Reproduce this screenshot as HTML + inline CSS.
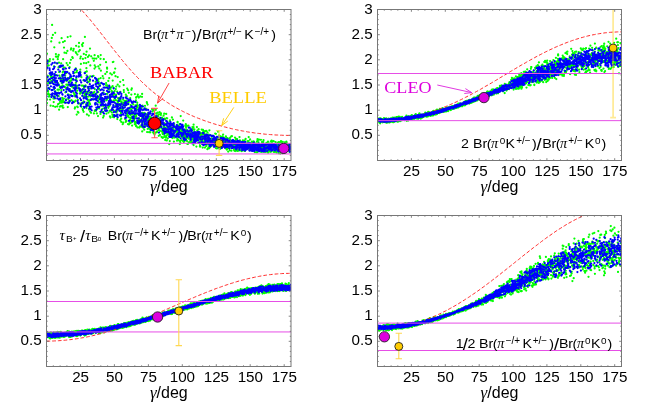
<!DOCTYPE html>
<html><head><meta charset="utf-8"><title>chart</title><style>
html,body{margin:0;padding:0;background:#fff;}
body{width:649px;height:404px;overflow:hidden;}
svg{display:block;will-change:transform;}
text{font-family:"Liberation Sans",sans-serif;font-size:15.2px;fill:#000;}
.gi{font-family:"Liberation Serif",serif;font-style:italic;}
.ax{font-size:16px;}
.gi{font-size:17px;}
.tt{font-size:13.3px;}
.sl{font-size:16px;}
.pi,.ta{font-family:"Liberation Serif",serif;font-style:italic;}
.pi{font-size:14.3px;}
.ta{font-size:14.5px;}
.su{font-size:10px;}
.sd{font-size:9.2px;}
.sb{font-size:9.1px;}
.sp{font-size:6px;}
.sz{font-size:6.2px;}
.se{font-family:"Liberation Serif",serif;font-size:17.5px;}
.dg{stroke:#00ff00;stroke-width:2.25;stroke-linecap:round;fill:none;}
.db{stroke:#0000ff;stroke-width:2.25;stroke-linecap:round;fill:none;}
</style></head>
<body>
<svg width="649" height="404" viewBox="0 0 649 404">
<rect width="649" height="404" fill="#fff"/>
<clipPath id="c1"><rect x="46.5" y="9.5" width="244.5" height="151"/></clipPath>
<g clip-path="url(#c1)">
<path class="dg" d="M102.1 99.3h0M123.9 92h0M241.5 149.5h0M211.8 136.8h0M142.1 118.2h0M127.9 104h0M192.8 129.1h0M92.2 96h0M211 141.3h0M276.8 148.6h0M107.2 85.3h0M278.5 144.7h0M209.6 139.3h0M69.9 62.9h0M154.5 134.4h0M263.2 148h0M217 136.9h0M126.3 120.5h0M225.9 136.4h0M100.3 96.7h0M66.4 88.5h0M85.6 93.4h0M129.7 114.3h0M160.2 126.5h0M111.6 90.9h0M246 143.6h0M93.8 60.8h0M78.2 103.6h0M68.9 90.6h0M192.8 134.1h0M255.5 148.8h0M193.6 132.6h0M274.4 151.9h0M223.7 137.5h0M256.9 147.5h0M273.7 144h0M180 129.6h0M275.8 148.8h0M167.5 132.7h0M113.4 87.6h0M157 123.6h0M209.1 141.7h0M127.4 116.2h0M267.4 147.8h0M109.4 106.1h0M129.6 108.3h0M109.8 110.7h0M133.4 113.1h0M47.7 65.8h0M200.2 143.1h0M115.5 76.2h0M63.1 59.2h0M197.3 130.7h0M89.6 81.4h0M120.9 113.3h0M154.3 127.8h0M83.2 103.3h0M99.8 95.6h0M162.5 123.6h0M163 132.4h0M108.9 103.2h0M119.3 100.7h0M114.7 91.1h0M110.2 104.5h0M164.5 135.3h0M98.3 101.8h0M167.7 131.7h0M106.7 100.3h0M251.5 144.2h0M90.5 93.9h0M257.3 147.3h0M90.1 111.5h0M230 144.4h0M195.9 133.6h0M97.6 79.8h0M232.3 142h0M107.4 97.2h0M67.4 84.6h0M197.6 133.3h0M177.8 136h0M201.6 139.7h0M89.1 55.4h0M107.2 86.1h0M213.9 140.8h0M66.3 84.7h0M260.5 147.3h0M151.3 118.1h0M197.7 136.1h0M123.1 108.7h0M90.3 65.4h0M48.9 96.6h0M97.9 106.6h0M259.2 150.6h0M284.4 147.8h0M154.5 122.1h0M139.1 118.4h0M114 73.1h0M282.7 141.8h0M60.7 101h0M146.4 114.4h0M87.7 93.5h0M105.2 109.3h0M237.2 150.9h0M96.3 58.6h0M181.5 130.2h0M136.2 125.4h0M170.5 136.7h0M128 124h0M115.6 99.9h0M115.4 105.6h0M67.4 50.9h0M164.3 128.3h0M262.5 149.6h0M278.1 148.1h0M53.2 59.3h0M270.9 145.6h0M76.2 53.1h0M229.3 141.3h0M265.7 149.4h0M87.6 82.3h0M127.5 104.3h0M139 120.2h0M131.3 112.5h0M172.7 131.6h0M48.7 93.9h0M149.8 118.8h0M261.1 144.5h0M67.9 78.2h0M164.9 123.5h0M164.2 113.5h0M237.8 141.7h0M282.3 149.9h0M219.4 146.4h0M113.4 95.1h0M210.3 141.5h0M131.5 117.1h0M234.3 150.5h0M211.7 136.4h0M285.5 151h0M258.4 142h0M57.8 59.2h0M117.5 106.1h0M257.4 149.3h0M193.4 137.1h0M130.7 114.9h0M60.1 77.4h0M233 140.3h0M46.9 77.7h0M69.2 101.3h0M289.4 151h0M236.2 144.5h0M258.8 150h0M163.2 129.6h0M87.8 93.5h0M177.1 133.1h0M150.6 130.1h0M86.4 92.5h0M87.1 92.1h0M109.6 102.4h0M277.1 145.9h0M287.8 144.7h0M218.5 144.9h0M223.3 141.3h0M225.6 141.3h0M173 137.5h0M89.9 80h0M261.1 151.9h0M261.8 147.4h0M220 145.3h0M274.7 148.6h0M286.1 149.8h0M169.6 131.6h0M231.7 144.5h0M197.3 140h0M74.6 94.4h0M123.8 90h0M63.1 71.6h0M263.3 141.9h0M51.9 77.9h0M177.9 129.3h0M89.9 88.5h0M82.4 85.5h0M87 102.6h0M260.9 139.8h0M167.4 125.9h0M129.9 123.3h0M290.8 146.2h0M180 134.6h0M120.7 116.2h0M137.1 107.4h0M216.6 140.6h0M75.9 82.8h0M231.9 136.2h0M262.6 150h0M162.7 119.1h0M153.4 130.9h0M81.5 106.8h0M149.9 117.1h0M233.4 143.4h0M147.7 128.9h0M198.1 139.2h0M57.2 106.4h0M100.2 64.8h0M96.3 93.5h0M286.4 143.5h0M57.4 95h0M99.1 108.4h0M54.2 89.1h0M202.9 138.1h0M206.2 146h0M131 117.7h0M55.4 91.3h0M152.9 127.6h0M88.4 62h0M150.8 119.2h0M137.7 96.2h0M100.6 78h0M252.3 150.8h0M215.8 142.7h0M161.6 137.1h0M144.2 113.7h0M73.2 50.7h0M193.9 138.4h0M169.8 141.1h0M267.9 149.1h0M283.4 147.6h0M244.4 147.2h0M258.4 148.7h0M167.7 127.5h0M137.9 121.8h0M163.6 124.5h0M176.4 129.3h0M246.4 144.6h0M83.4 80.3h0M193.3 133.3h0M268 141.7h0M100.9 70.7h0M116.9 116.2h0M252.4 146.5h0M205.9 138.6h0M282.6 153.2h0M203.5 138.3h0M278.6 153.2h0M248.7 137h0M211.5 145.5h0M93 99.6h0M98.7 84.3h0M257.5 139.2h0M128.1 90.1h0M214.3 138.1h0M152.9 113.9h0M158.8 128.7h0M49.1 82h0M247.6 148.4h0M122.6 104h0M128.9 124.4h0M64 101.6h0M199.2 132.2h0M236.9 144.9h0M171.4 132.5h0M163.3 130.6h0M235.3 147.5h0M70.1 84.6h0M178.8 136.9h0M229.6 144.2h0M136.1 97.7h0M260.7 148h0M158.2 125h0M74.8 108.6h0M285.3 147.1h0M158 122.5h0M230.6 143.9h0M65.6 102.9h0M244.3 149.7h0M83.7 86h0M77.1 90.7h0M114.1 100.8h0M150.3 120.4h0M165.2 129.5h0M151.2 118.2h0M54.9 96.3h0M192.5 139h0M227.9 147h0M285.8 148.8h0M182 132.3h0M274.3 149.4h0M279.3 145.1h0M98.4 56.9h0M62.7 107.6h0M88 78.6h0M228.5 145.4h0M110.3 111.2h0M73.9 72.8h0M277.2 143.8h0M213.6 139.5h0M280.8 148.7h0M127.1 114.6h0M93.5 75.8h0M79.9 103.5h0M277.2 147.2h0M86.6 51.7h0M242.7 150.3h0M98.3 79.4h0M257.5 148.1h0M60.4 79.2h0M139.8 108.5h0M144.8 108.3h0M285.2 144.3h0M266 146.3h0M140.5 121.4h0M150.3 132.3h0M221.4 144.1h0M203 129.9h0M265.1 148.2h0M214.5 143h0M172.5 138.1h0M266.7 149h0M127.4 102.7h0M136.3 116h0M132.4 108h0M166.2 113.9h0M55 98.4h0M157.2 127.3h0M123.9 102.3h0M106 109h0M107 67.5h0M241.5 144.6h0M140.8 115.5h0M286.3 147.6h0M147.4 123.9h0M217.1 139.5h0M121.2 118.7h0M248.6 141h0M98.6 81.5h0M113.8 95.3h0M118 98h0M78.1 103h0M230 139.7h0M152 109.1h0M77.3 88h0M177.6 139.1h0M165.9 137.6h0M170 126.1h0M220.7 143.7h0M62.8 100h0M166.8 135.4h0M59.1 72h0M285.2 150h0M207.8 136.5h0M87.9 96.8h0M271.3 143.8h0M89.3 106h0M133.2 104.3h0M58.1 104.2h0M137.3 104.8h0M225.3 139.5h0M76.3 96.3h0M236.5 143.2h0M150.9 130.2h0M242.7 150.2h0M89 109.6h0M267.1 146.5h0M224.3 139.7h0M58.3 92.6h0M163.7 127.8h0M62.5 76.5h0M223.1 141.4h0M135.3 124.5h0M235.8 145.8h0M262.3 148.6h0M89.6 92.3h0M244.6 150.9h0M140.8 120.8h0M140 126.3h0M206.5 139.8h0M284.7 149.2h0M213.4 144.8h0M100.6 83.5h0M46.6 79.5h0M73.7 84.6h0M118.6 106.1h0M63.4 102.2h0M62.7 72.3h0M277.9 142.6h0M83.6 85.8h0M128.1 103.9h0M282.6 150h0M177 126.7h0M215.9 148.1h0M116.8 111.8h0M209.4 141.4h0M86.4 68.2h0M131.1 111.3h0M268.2 143.5h0M224.9 147.2h0M159.5 118.6h0M158.5 121.9h0M228 147.6h0M143.8 120.5h0M152.2 122.1h0M185.3 125.6h0M183.4 131.3h0M159.1 124.8h0M194.3 131.7h0M83.1 43h0M227.2 143.5h0M86.2 63.2h0M244.2 149.7h0M186.5 129.5h0M275.3 149.9h0M148.5 123.7h0M207.5 132.4h0M64.5 52.7h0M120.7 101.6h0M86.2 95.2h0M209.9 145.8h0M76.1 45.8h0M168.4 133.5h0M108.3 80.9h0M87.5 105.3h0M245.4 143.2h0M106.1 83.1h0M66 91.7h0M142.4 105.5h0M98 56.1h0M221.1 142h0M197.8 133.5h0M278.5 148.7h0M254.7 152.1h0M121.3 121.9h0M257 152.3h0M108.4 89.1h0M255.2 147h0M82 44.7h0M273.5 148.6h0M184.5 129.9h0M158.3 116.3h0M145 105.8h0M138.8 123.4h0M84.9 36.9h0M200.8 140.8h0M133.5 112.5h0M261.8 150.6h0M76.7 72.2h0M160.9 114.9h0M189.6 135.6h0M224.7 139.5h0M206.7 135.1h0M150.8 121.1h0M225.4 146.4h0M220.1 138.6h0M139.8 106.6h0M151.1 129.2h0M133.2 102.3h0M236.6 145.8h0M81.5 85.6h0M245.9 144.6h0M190.3 141.3h0M137.2 102.7h0M276.9 150.6h0M280.7 150.9h0M283.3 147.8h0M71.2 78.2h0M166.4 124h0M271.6 140.6h0M48.7 65.4h0M119.8 101h0M158.8 135.8h0M114.5 94.3h0M186.2 139.9h0M177.6 129.4h0M252.9 143h0M105.1 87.5h0M231.4 150.7h0M167.2 129h0M282.5 150.2h0M256.4 145.6h0M51.5 78.2h0M144.2 129.7h0M108.9 96.6h0M165.8 132.1h0M290.1 147.2h0M188.1 143.8h0M63.4 107.5h0M229.2 148.5h0M95.6 66.8h0M159.6 112h0M202 143.6h0M269.7 147h0M129.9 119.7h0M209.1 140.3h0M55.1 74.5h0M61.8 100.7h0M150.5 119.1h0M190.7 139.8h0M115.8 89h0M228.1 142.3h0M125 105.8h0M112.6 86.1h0M216.7 148.4h0M219.8 144.1h0M285.2 147.1h0M79 42.9h0M70.1 89.3h0M249.9 148.2h0M114 117.3h0M268.1 152.7h0M186.3 133.6h0M193.6 145.1h0M47.7 62.3h0M185 131.7h0M259.3 150.9h0M289.5 150.4h0M139.6 106.6h0M87.6 87h0M267.5 150.4h0M147.8 118h0M157.1 120.1h0M161.2 124.5h0M180.3 142.5h0M61.3 86.7h0M50.2 74.7h0M234.1 149.5h0M201.2 133.2h0M142.9 122.3h0M206.5 131.1h0M220.8 137.9h0M117.7 77h0M142.3 112.8h0M107 93.9h0M80.3 69.7h0M191.2 138.1h0M226.9 145.7h0M195.1 132.5h0M108.9 89.5h0M203.3 131.8h0M147 103.1h0M155.7 105.7h0M49.7 61h0M237 144h0M265.9 151.9h0M117.8 110.1h0M135 114.3h0M166.7 131.7h0M143.8 114.9h0M136.8 114.1h0M228.9 142h0M206.3 134.5h0M124.9 100.9h0M201.7 129.5h0M213.6 142.2h0M154.1 133.4h0M110.3 73.4h0M257.5 149.8h0M47.9 90.6h0M222.4 145.5h0M244.3 147h0M98.1 107.1h0M185.9 127.6h0M286.6 146.2h0M120.2 104.3h0M196.9 127.1h0M147.7 126.1h0M154.3 109.3h0M230.5 142.4h0M179.8 144h0M114.3 97.8h0M227.8 144.3h0M183.2 120.5h0M121.8 102h0M192.5 129.9h0M228 144.3h0M62.2 97.8h0M86.9 105.5h0M132.7 113.1h0M107.4 98.5h0M185 130.7h0M58.5 67.3h0M270.9 148.1h0M226.3 145.4h0M149.1 132.2h0M83.6 111.8h0M61.8 102.7h0M227.2 141.6h0M185 138.3h0M148 120.2h0M123.3 122.7h0M59.7 66.3h0M231.9 146.2h0M98 116h0M112 91.5h0M103.4 78.3h0M185 131.8h0M117.5 104.8h0M73.1 102h0M259.9 149h0M88.9 81.7h0M99.3 68.6h0M227.5 143.5h0M158.8 130.1h0M275 144.9h0M265.3 147.3h0M183.6 141.2h0M86.6 75.4h0M121.8 110.1h0M208.8 134.7h0M119.2 104h0M171.9 127.9h0M76.4 92.5h0M183.7 142h0M276.8 145.8h0M198.7 139.2h0M116.7 103.7h0M74.8 72.5h0M192.7 134.3h0M181.4 134.9h0M231.2 136.3h0M47 94.2h0M83.7 88.7h0M196.9 138.5h0M187 125.8h0M218.3 141h0M265.1 147.4h0M234.3 147.4h0M195.8 140.4h0M289.6 152h0M128.8 92.8h0M105.4 108.8h0M112.2 92.4h0M200.1 142.2h0M75.7 52h0M146.2 124.9h0M130.7 105.1h0M75.7 68.3h0M249.2 146h0M250.4 145h0M108 97.3h0M68.3 99.1h0M199.9 146.5h0M96.4 93.9h0M189.2 131.4h0M142 96.8h0M256.9 148.4h0M122.7 107h0M173.6 130.4h0M66.6 81.1h0M135.6 118h0M267.3 149.2h0M82 90.1h0M230.6 146.6h0M156.6 122h0M184.5 132.9h0M265.2 146h0M266.9 148.6h0M153.1 119.6h0M289.5 149.7h0M116 96.2h0M101 105.6h0M197.2 136h0M190.9 136.7h0M173.8 133.8h0M121.6 111.6h0M152.5 111.4h0M180.1 141.2h0M53 79.9h0M62.4 85.4h0M55.9 56.5h0M251.6 149h0M198.1 136.4h0M123.1 99.7h0M187 141.1h0M261 149.8h0M70.9 91.1h0M94.5 58.6h0M127.1 114.1h0M158.5 114.6h0M134 117.2h0M253.9 147.1h0M179.9 141.1h0M65.2 75.5h0M110.8 101.6h0M170.5 127.4h0M232.1 146.9h0M200.2 140.8h0M290.1 148.5h0M125.4 104.7h0M198.1 142.9h0M281 148.4h0M155.9 121.8h0M85.9 71.8h0M102.7 76h0M145 113.9h0M77 70.6h0M162.7 137.9h0M283.7 144.4h0M261.2 145.3h0M192.3 133h0M275.6 142.2h0M200.2 139.8h0M66.2 73.2h0M206.5 145.3h0M190.4 138.4h0M204.3 132.4h0M109.9 116.3h0M225.7 144h0M177 140.7h0M282.9 151.8h0M77.9 99.8h0M175 132.1h0M255 147.3h0M87.4 77.6h0M235.2 140.7h0M275 145.8h0M226.9 145.7h0M206.2 130.9h0M99.4 98h0M273.5 144.2h0M66.6 63.1h0M135.9 100.4h0M60.1 101.3h0M160.7 118.4h0M226.7 146.8h0M169.2 144h0M103.7 115.9h0M200.8 134.5h0M227 147.4h0M108.5 112.5h0M126.8 96h0M97 109h0M157.3 123.9h0M60.9 106.1h0M148.4 120.8h0M67.2 71.9h0M110.2 101.9h0M288.8 147.9h0M63.5 67.9h0M118.7 99.4h0M139.5 127.3h0M249.6 143.3h0M74.3 87.1h0M273.3 147.4h0M223 138.7h0M266.2 144.8h0M246.9 146.8h0M190.2 139.1h0M59.5 42.7h0M267.4 147h0M189.1 136.5h0M87.9 56.9h0M279.5 147.2h0M86.6 94h0M94.3 91.9h0M194.5 136.9h0M226.9 145.3h0M78.8 46.7h0M142.9 115.9h0M156.2 113.3h0M158.4 123.4h0M163.6 122.8h0M157 123.1h0M50.8 76.6h0M275 146.7h0M187.7 131.8h0M219.1 135.3h0M208.6 139.3h0M280.4 142.1h0M181.9 132.5h0M132.7 120.3h0M230.6 144.3h0M91 92.1h0M191.8 142.2h0M227.1 149.1h0M185.7 130.9h0M252.2 146.4h0M81.6 92.4h0M245.6 138.9h0M277 150.6h0M254.3 149.5h0M139.6 120.3h0M83.9 63.1h0M192.3 136.1h0M110 101.3h0M218 144.2h0M123.7 85.1h0M222.4 136.6h0M141.9 124.5h0M162.8 134.1h0M269.2 147.1h0M143.8 126.2h0M59.4 75.6h0M281.7 148.7h0M86.9 114.4h0M117.8 106h0M233.6 143.6h0M46.6 88.5h0M231.8 147h0M166.8 140.4h0M210.2 147.2h0M128.7 101.8h0M120.6 100.2h0M280.1 147.5h0M265.2 144.1h0M202.7 147.5h0M131.8 113.8h0M70.9 59.8h0M62.7 81.6h0M113.4 110.2h0M226.2 147h0M109.7 101.7h0M109.6 98.8h0M175.5 126.7h0M234.6 144.5h0M286.5 148.6h0M281.3 150.4h0M185.8 124.2h0M204.4 131.6h0M128.1 115.8h0M82.9 58.9h0M200.3 146.6h0M84.1 87.2h0M264.1 146.5h0M82.6 109h0M209.8 145.8h0M59.7 103.1h0M214.5 140.5h0M94.8 89h0M206.7 142.4h0M251.8 141.7h0M52.8 76.6h0M131.3 94.6h0M78.4 112.7h0M112.4 114.7h0M132 122h0M283.9 143.8h0M135.6 116.4h0M215.3 141.4h0M112.7 80.6h0M107 93.8h0M142.5 123.8h0M196.9 136.5h0M190.7 133.3h0M144.3 113.8h0M91 112.8h0M250.1 139.4h0M183 141.1h0M191.7 141.9h0M224.7 139.5h0M98.2 89h0M279 147.5h0M240 146.7h0M241 145.8h0M229.4 144h0M96.6 80.4h0M205.9 140.6h0M106 85h0M175.9 127.4h0M264.4 145.2h0M177 131.4h0M62.7 99.5h0M228.6 143h0M284.8 142.3h0M237.5 148.5h0M209 144.6h0M65 87.2h0M116.2 86.5h0M58.7 96.2h0M146.4 108.9h0M202.1 139.7h0M247.1 148.6h0M139.4 108.4h0M137.5 127.4h0M94.5 68.6h0M59 62.7h0M215.3 140.6h0M153.3 128.5h0M187.5 131.6h0M217.9 141.7h0M144.3 118.4h0M254.3 148h0M164 126.8h0M178.3 126h0M245.9 145.1h0M119.7 110.2h0M225.4 143h0M112.8 62.1h0M232.6 143.7h0M196.4 146.5h0M280.3 153.6h0M162.4 132.9h0M224.3 145h0M62.2 74.9h0M221.5 141.3h0M178.8 140.3h0M102.9 111.8h0M242.5 141.2h0M94.7 110.9h0M169.8 121.1h0M204.1 132.2h0M68.2 85.2h0M185.1 134.2h0M74.4 94.2h0M269.5 148h0M101.3 111.9h0M186.9 137.8h0M275.9 151h0M155.4 122.9h0M49.2 87.9h0M139.8 113.9h0M191.6 140.7h0M178.8 131.7h0M281.9 148.1h0M69.6 67.2h0M74.5 94.9h0M139.5 120.7h0M153.1 132.5h0M246.1 147h0M89.1 78h0M52.1 24.9h0M217.8 139.2h0M155.6 122.1h0M56.5 63.3h0M273.9 151.9h0M57.6 89.7h0M163.2 130h0M134.8 122.4h0M279.9 149h0M149.7 124h0M98 97.5h0M256.9 141.7h0M174.1 131.7h0M85.5 85.4h0M79.8 50.2h0M193.3 133.1h0M61.3 90.1h0M131.1 109.6h0M213.2 145.5h0M221.5 144.4h0M207.4 149.2h0M80.8 56.5h0M51.2 41.4h0M205 139.9h0M139.3 108h0M181.3 129.3h0M77.7 107.2h0M81 92.7h0M86.8 71.4h0M220.7 144.5h0M96.8 113.4h0M98.3 98.1h0M246.2 146h0M137.8 105.6h0M244.5 140.5h0M169.2 134.5h0M187.4 143.9h0M133.9 115.4h0M161.4 126.1h0M145.2 118.1h0M179.6 124.7h0M264.6 147.9h0M198 135.7h0M188.5 131.8h0M200.4 132.7h0M50.6 105.7h0M102.9 101.8h0M147.9 116.2h0M285.2 149.6h0M227.8 140.9h0M269.4 147.1h0M182.7 136.5h0M259 147.3h0M160.3 114.2h0M268.1 150.3h0M289.1 147.8h0M209.1 148.3h0M164.1 127.1h0M220.4 136.3h0M279 142.1h0M159.9 130.8h0M215.2 133.6h0M58.1 56.8h0M188.8 142.3h0M120.8 111.8h0M233.8 141.1h0M117.9 109.8h0M193.6 124.7h0M168.3 133.9h0M290.4 148.6h0M259.6 145.5h0M68 94.3h0M269.8 149.1h0M233.9 149.8h0M73.7 48.9h0M229.3 138.3h0M271.4 149.6h0M119.9 108.7h0M182.3 137.5h0M83.8 53.9h0M136.6 122.3h0M167 132.2h0M152.2 118.9h0M92.7 58.4h0M286.6 142.3h0M51 82.7h0M89.6 103.2h0M119.6 97.9h0M107.3 105.7h0M61.2 63.3h0M145 121.3h0M105.1 107.4h0M127.9 112.9h0M72.8 58h0M257.9 151.6h0M238.7 147.2h0M50.1 99.6h0M54.3 47.3h0M209.4 130.3h0M112.6 116.8h0M133.4 116.7h0M165.1 119.3h0M277.6 149.1h0M75.9 85.3h0M134.3 120.1h0M232.9 143.2h0M190.5 135.1h0M135.9 108.8h0M171.4 127.3h0M55.2 106.8h0M131.8 88.4h0M216.2 145.2h0M50.7 77h0M165.7 137.5h0M89 101.3h0M92.7 76h0M120.2 81.8h0M99.1 88.6h0M74.1 102.1h0M116 94.5h0M233.4 143.7h0M189.1 137.2h0M235.5 144.8h0M251.4 147.2h0M221.5 144.1h0M96.5 80h0M140 112h0M119.4 86.4h0M230 150.3h0M197.4 140h0M200.6 137.3h0M259 139.7h0M104.6 100.1h0M112.7 115.7h0M206.8 138.9h0M254.1 142.2h0M49.2 94.8h0M269.5 143.5h0M111.9 74.5h0M125.8 94.7h0M203.4 134.1h0M270.4 147h0M62.6 105.7h0M161 123.8h0M244.8 150.9h0M167.8 138.3h0M193.5 127.2h0M221.3 142.7h0M200 139.1h0M50 83.3h0M263.9 145.2h0M106.4 113.7h0M151.2 123.4h0M252.9 144h0M132.1 125.6h0M153.4 110.4h0M194.8 137.1h0M132.2 114.1h0M114.5 115h0M174 135.5h0M90.2 76.3h0M143.2 127.7h0M98.6 78.9h0M76.7 114.5h0M283.8 152.4h0M247.9 148.5h0M280.9 142.9h0M148.5 122.8h0M110.2 87.7h0M266.5 142.8h0M108.9 86.6h0M151.4 123.3h0M198.3 132.1h0M98.3 92.1h0M165.2 140.1h0M239.9 140.4h0M193.2 136.6h0M128 111.3h0M81.5 91.5h0M155.9 125h0M160.4 124.1h0M114.3 97h0M141.6 126h0M139.3 127.6h0M73.4 101.7h0M267.7 147.8h0M241.2 150.7h0M194.5 137.4h0M109.1 92.2h0M182.2 136.6h0M136.1 126.2h0M98.3 66.4h0M115 111.2h0M187.8 137.6h0M119.7 110.6h0M202.8 138.4h0M256.6 146.8h0M227.2 138.2h0M262.9 143.3h0M262.3 142.6h0M230.5 146.8h0M165.4 136.6h0M99.8 96.1h0M59.9 106.7h0M140.5 106h0M75.2 101.2h0M75.1 96.6h0M119.3 94h0M130 108.9h0M285.3 149h0M80.9 63.9h0M198.6 129.2h0M54 66.3h0M252.8 142.1h0M73.2 79.2h0M141.6 109.1h0M166.7 118.1h0M240.1 143.3h0M163.6 115.7h0M113.9 72.7h0M241.4 146.8h0M95.5 96.7h0M282.5 146.5h0M205 131h0M52.5 78.1h0M280.9 146.3h0M257.5 149.5h0M96.1 103.3h0M286.3 143.6h0M149.3 120.9h0M285.6 148.6h0M172.6 135.9h0M145.9 119.8h0M137.1 109.6h0M228.2 151.5h0M234.7 146.4h0M246.7 143.7h0M235 137.5h0M82.5 96.2h0M59.2 85.5h0M120.2 120.3h0M127.3 111.8h0M141.3 107.2h0M185.7 126.4h0M113.4 61.8h0M285.1 150.3h0M138.8 97.6h0M99.3 102.4h0M144.2 112.8h0M156 121.5h0M180.7 116h0M92.4 94.1h0M155.8 109.8h0M276.4 150.6h0M78.7 51.4h0M242.3 142.4h0M106 62.2h0M126.9 103.6h0M264.2 151.7h0M159.4 121.8h0M273.2 145.4h0M49.9 59.1h0M181.6 129.8h0M64.7 79.2h0M170 120.3h0M231.6 145.3h0M81.4 77.2h0M100.5 58.8h0M252 142.3h0M230.2 137.5h0M186.1 134.5h0M190.5 140.2h0M94.5 95.9h0M172.7 129.7h0M266.2 147.9h0M152.3 127.5h0M63.9 98.6h0M276.5 152.5h0M237.5 141.8h0M64.7 67.7h0M148.9 119.7h0M83.8 101.8h0M262.6 143.7h0M206.5 135.3h0M273.8 144.5h0M161.4 128.5h0M288.6 147.8h0M65.1 72.1h0M103.4 101.5h0M244.1 140.8h0M190.9 135.9h0M271.6 151.4h0M137.8 94.6h0M47.1 99.4h0M161 113.3h0M80.3 58.4h0M85 97.1h0M98.9 89h0M96 110.8h0M149.6 116.7h0M184.4 138.1h0M248.6 144.6h0M53.4 98.5h0M61.6 38.2h0M130.7 120.3h0M149.4 128.5h0M70.5 36.3h0M234.5 149.8h0M108.7 105.7h0M288 144.9h0M206.1 139.7h0M63 65.5h0M268.3 150.6h0M156.9 132.2h0M242.9 141.9h0M223.1 134.6h0M117 105.7h0M167.2 118.3h0M58.7 54.9h0M56.2 75.2h0M129 117.3h0M270.8 149.2h0M226.2 148.7h0M233.5 145.6h0M149.7 116.7h0M280.5 146.5h0M185 132.8h0M194.4 136.5h0M265.2 145.9h0M103.8 59.2h0M100.7 55.1h0M180.4 132.2h0M179.6 124.2h0M201.4 137.9h0M71.3 80.3h0M115.2 68.6h0M109.5 102.1h0M166 137.3h0M190.4 129.4h0M151.9 124.2h0M263.5 140.2h0M147.1 132h0M177.6 121.8h0M76.3 78.8h0M169 136.1h0M279.2 147.3h0M264.7 146.4h0M49.6 96.3h0M286.9 147.3h0M182.8 135.8h0M246.2 143.6h0M103.1 104.4h0M62.5 78.5h0M264 147.9h0M166.1 137h0M110.6 95.8h0M110.6 88.3h0M139.8 108.9h0M100.5 113.9h0M107.1 68.7h0M194.4 129.3h0M272.3 149.9h0M204.3 142.8h0M177.3 130.4h0M85.9 93h0M48 83h0M255.5 143.7h0M256.2 152.2h0M259.8 150h0M89.3 100.7h0M52.9 34.9h0M163.3 124.1h0M157.1 131.3h0M171.8 135.1h0M221.8 146.4h0M257.7 144.1h0M167 129.5h0M236.2 138.9h0M47.9 76h0M98.4 100.4h0M106.8 100h0M141.8 126.7h0M257.1 147.9h0M89.1 102.1h0M250.7 149.7h0M85.3 98.1h0M84.9 95.7h0M134.9 94.1h0M163 133.1h0M256.6 145.7h0M190.8 140.8h0M117.3 100.8h0M83.8 101.9h0M186.2 138.5h0M234.7 144.3h0M154.6 132.9h0M101.8 98.3h0M120.4 91.8h0M156.7 115.7h0M260 150.2h0M268.9 150.4h0M72.3 57.2h0M64 47.5h0M116.3 112.5h0M46.9 53.7h0M174.7 132.7h0M280.5 143.6h0M233.7 143h0M122.7 124.2h0M51.2 80.9h0M204.9 147.6h0M226.8 143.7h0M258.1 149h0M256.9 148.2h0M226 146.7h0M181.4 140h0M139.8 112.5h0M126.9 109.9h0M239.5 150.3h0M193.2 136h0M270.8 141.4h0M233.6 141.5h0M104.1 99.5h0M75.6 100.7h0M48.7 61.2h0M65.3 92.3h0M135.3 122.8h0M272.6 147.5h0M125.9 121.7h0M53.9 97.5h0M253.6 141.3h0M157 120.5h0M176.7 135.3h0M202.8 141.4h0M70.9 49.5h0M173.6 128.1h0M117.1 91.6h0M106.3 110.7h0M53.1 106h0M164.8 133.1h0M57.6 82.9h0M67.8 107h0M192.4 127h0M200 145.6h0M257.3 147.5h0M270.5 148.6h0M167.2 121.7h0M247.8 146.2h0M90.3 96.5h0M178.6 136.9h0M273 148.2h0M62.3 79.9h0M239.5 137.1h0M85.8 91.7h0M57 56.7h0M177.6 122.4h0M259.9 147.7h0M128 109.8h0M102.3 108.9h0M122.9 103.8h0M102 101.2h0M173.2 136.7h0M72.5 101.1h0M90.1 104.2h0M236.8 142.9h0M100.5 102.8h0M210.8 143.2h0M156 120.8h0M73.5 88.2h0M135.4 105.4h0M99.7 86h0M235.1 151h0M265.8 149.3h0M214.7 142.1h0M167.9 126.2h0M284.4 148.8h0M93.8 92.9h0M66.3 87.9h0M98.5 100.5h0M165.5 127.7h0M228.3 145.6h0M70 81.8h0M276.8 150.3h0M168.4 132.7h0M243.7 142.4h0M217.4 141.1h0M68.6 94.6h0M248.5 147.6h0M129.2 101.6h0M180.1 124h0M198.8 134.3h0M131 118.1h0M108.6 88.8h0M146.8 102.2h0M225.4 139.8h0M206.1 139h0M166.3 130h0M245.7 149.2h0M93.7 95.6h0M264 148h0M143.4 113.4h0M51.8 37.9h0M177.3 125.3h0M162.1 117.6h0M113.1 96.4h0M177.3 138.7h0M217.6 139.9h0M275.2 149.6h0M55.2 32.8h0M188.6 138.6h0M282 144.6h0M131.3 112h0M269.7 148.6h0M128.7 111.8h0M226.8 145.8h0M146.7 117.7h0M201.9 134.3h0M210.3 143.5h0M81.7 103.4h0M91.2 56.3h0M172.4 136.6h0M85.4 58h0M249.2 144.6h0M204 141h0M66.1 99.4h0M258.1 144.9h0M242.1 148.7h0M256.7 149.6h0M48 91.7h0M70.1 80.8h0M83.6 101.4h0M67.7 65.1h0M204.8 139.1h0M281.6 146.6h0M224.5 143.9h0M61.7 82.9h0M265.9 149.8h0M130.2 98.2h0M160 131h0M222 142.4h0M190.5 136.2h0M259.3 144.9h0M94.6 55.2h0M101.9 101.8h0M79.8 93.4h0M108.4 107.8h0M172.9 119.5h0M74 87.6h0M261.4 145.6h0M244.7 147.8h0M233.7 141.1h0M280.4 143.7h0M183.7 137.3h0M215.9 133.8h0M115.4 96.8h0M270.8 151.4h0M253.7 148.3h0M203.5 136.7h0M93.7 94.7h0M188.6 133h0M135 121.8h0M95.6 81.8h0M163.5 130.9h0M199.8 143.6h0M260.6 150.3h0M140.3 96.4h0M94.7 65.3h0M121.2 110.7h0M186.6 134.7h0M200.1 139.6h0M128.2 111.4h0M252.1 149.2h0M150 121.6h0M183.2 130.6h0M242.8 144h0M262.7 148.7h0M162 131.2h0M54.3 82.1h0M231.2 146.7h0M86 54.8h0M188.6 133.6h0M265.3 148.6h0M195.3 139h0M257.6 140.4h0M150.2 124h0M73.6 92.8h0M151 119h0M249.8 149.9h0M109.2 78.1h0M280.7 142.2h0M82.5 46h0M217 137.1h0M241.7 145.7h0M105.1 109.9h0M228.3 141.3h0M270.5 145h0M127.2 88.6h0M110.4 88.9h0M122.6 109.6h0M170.3 135.4h0M263.2 144.2h0M128.1 90.2h0M280.5 152.7h0M236 149.3h0M185.7 131.3h0M213.3 139.4h0M282.3 150.4h0M77.8 111.8h0M166.1 128.9h0M125.6 112.6h0M273.7 146.5h0M171.9 117.4h0M129.5 122h0M72 86.7h0M261.9 142.1h0M77.3 85.8h0M174.8 137.6h0M247.5 141.2h0M210.1 147.1h0M250 147.3h0M189.6 132.9h0M228.2 145.7h0M188.4 125.7h0M161.5 136.8h0M238.6 150.6h0M125.2 119.3h0M90 48.5h0M75 107.3h0M69.3 77.8h0M218.3 144.3h0M112.1 108.7h0M269.4 151.3h0M83.9 88h0M170 121.1h0M242.5 146.8h0M220.4 144.8h0M52.1 95.9h0M231.8 143.8h0M279.6 143.9h0M103.1 105.9h0M249.8 150.3h0M185.8 136.8h0M103.1 117.6h0M285.7 150.9h0M270.5 151.8h0M241.5 151.1h0M47 90.1h0M209.3 143.7h0M155.5 123.1h0M111.5 100.6h0M254.9 146.5h0M87.9 99.5h0M76.7 80.5h0M193.8 138h0M201.4 142.1h0M237.2 146.6h0M117.7 84.7h0M208.1 141h0M225.8 144.5h0M282.4 145h0M289.3 144.2h0M231.1 146.8h0M117.3 119.1h0M154.2 128h0M110.4 117.5h0M139.2 115h0M84.8 95.1h0M217.9 140.8h0M84.8 72.5h0M237.1 139h0M147.6 104.6h0M155.5 132.7h0M281 141.1h0M218.1 131.7h0M58.1 83.4h0M249.4 145.3h0M191.3 138.3h0M241 143.9h0M173.1 130.8h0M181.7 126.5h0M235 149.3h0M194 137.8h0M80.1 93.7h0M238.3 150.6h0M126.1 100.8h0M96.9 98.4h0M184.4 141.4h0M120.2 97.9h0M244.9 148.5h0M237.3 142.2h0M281.7 150.3h0M69.2 101.5h0M222.6 147.1h0M125.8 121.9h0M263.9 149.2h0M55.9 54h0M136 122.1h0M145.4 126.2h0M219.9 149.1h0M87.7 99.9h0M230.9 144.3h0M67.9 79.7h0M179.2 130.3h0M258.7 147h0M192.6 133.8h0M206.6 144.3h0M226.8 149.5h0M121.7 104.7h0M148.2 113.1h0M187.7 133.8h0M136.3 97.1h0M123.1 80.1h0M286.6 143.1h0M47 103.1h0M114.4 72.3h0M84.2 93.5h0M148.8 120.9h0M261.3 148.6h0M200.7 135.4h0M275.3 151.5h0M68.9 89.4h0M287.4 150.2h0M250.8 148.9h0M263.1 151.8h0M157 125.2h0M71.5 100.2h0M223.6 144.1h0M70.9 95.2h0M288.8 147.1h0M82.6 102.5h0M163.7 137.1h0M157.6 112.7h0M80.5 72.3h0M83 110.2h0M154 122.3h0M127 115.9h0M178.2 131.3h0M187.1 137.1h0M225.3 138.5h0M197.3 135.5h0M159.9 134.9h0M183.3 133.1h0M211.7 139.1h0M109.7 87.8h0M225.9 147h0M211.7 135.7h0M205.8 140.3h0M111.8 112.3h0M121.4 111.9h0M209.8 142.5h0M59.9 87.2h0M127.3 115.4h0M140.1 115.4h0M77.4 54.6h0M201 137.3h0M287.5 148.7h0M272.2 143.4h0M63 42h0M177 127.4h0M129.7 107.7h0M286.4 141.7h0M204.5 133.9h0M242.9 140.3h0M53.7 102.1h0M184.3 135.7h0M103.6 92.7h0M141.8 124.1h0M164.6 118.5h0M209.5 140.2h0M142.1 93.9h0M248.8 146.4h0M134.8 124.2h0M106.9 71.9h0M165.9 132.9h0M262.5 145.9h0M284.1 144.4h0M75 87.3h0M86.5 108.1h0M65 73.5h0M82.6 89.9h0M263.7 145.4h0M221.4 143.4h0M238.7 142.5h0M233.2 142.6h0M126.4 121.3h0M144.6 115.6h0M131.4 89.8h0M174.1 124.1h0M66.3 53h0M174.5 130.7h0M154.6 124.5h0M186.9 133.3h0M271.8 141.6h0M275.9 148.6h0M146.6 115h0M69.7 90.6h0M284.3 147.8h0M86.5 103.8h0M269.4 143.9h0M75.4 95.2h0M156.1 124.4h0M117.9 102.2h0M111 87.3h0M172.2 136.2h0M174.7 130.3h0M237.8 141.2h0M176.7 129.4h0M281.8 143.6h0M210.9 140.6h0M180.1 136h0M251.6 147.5h0M278.8 148.4h0M94.9 110.4h0M273.6 141.2h0M265.7 146.3h0M192.1 133.9h0M177.5 122.4h0M160.1 119.1h0M224.6 141.3h0M192.1 136h0M185.3 134.9h0M266.2 149.2h0M265.4 149h0M290.1 147.7h0M149 121.4h0M220.3 143.4h0M67.7 37h0M289.3 146.9h0M170.2 124.5h0M133.7 112.4h0M216.7 146h0M151 122.6h0M184.3 131.3h0M173.9 141.6h0M227.5 146.1h0M155.9 125.9h0M59.1 109.7h0M271.6 149.3h0M259.5 150.8h0M142.2 131.4h0M208.4 147.4h0M211.8 139.9h0M205.4 142.5h0M227.7 146.6h0M77.2 106.6h0M113.9 100.4h0M197.8 138.2h0M251.2 149.1h0M218.4 148.2h0M90.3 99.5h0M105.3 73.9h0M208 139.3h0M250.4 144.7h0M183.3 135.9h0M153.7 123.3h0M87 80h0M71.2 48.4h0M121.9 108.3h0M220.7 148h0M87.9 104.5h0M151.7 123.8h0M282.1 145.3h0M246.4 145.3h0M265.4 150.6h0M190.4 142.3h0M235.7 143.9h0M170 136.9h0M143.5 113.2h0M234.1 141.2h0M182.6 127.9h0M126.2 110.7h0M200.6 136.8h0M281.9 144.1h0M64.8 41h0M139.8 119.9h0M194.2 136.3h0M269.6 151.4h0M144.3 118.2h0M93.9 113.4h0M88.8 115.6h0M160.9 125.3h0M130.5 123.2h0M58.9 89.7h0"/>
<polyline points="73.7,2.4 75,3.6 76.4,4.9 77.7,6.2 79.1,7.5 80.5,8.9 81.8,10.3 83.2,11.8 84.5,13.3 85.9,14.8 87.2,16.4 88.6,17.9 90,19.5 91.3,21.2 92.7,22.8 94,24.5 95.4,26.2 96.8,27.9 98.1,29.6 99.5,31.3 100.8,33.1 102.2,34.8 103.6,36.6 104.9,38.3 106.3,40.1 107.6,41.8 109,43.6 110.3,45.3 111.7,47.1 113.1,48.8 114.4,50.5 115.8,52.2 117.1,53.9 118.5,55.6 119.9,57.3 121.2,59 122.6,60.6 123.9,62.3 125.3,63.9 126.6,65.5 128,67.1 129.4,68.6 130.7,70.2 132.1,71.7 133.4,73.2 134.8,74.6 136.2,76.1 137.5,77.5 138.9,78.9 140.2,80.3 141.6,81.6 142.9,82.9 144.3,84.2 145.7,85.5 147,86.7 148.4,88 149.7,89.2 151.1,90.3 152.4,91.5 153.8,92.6 155.2,93.7 156.5,94.8 157.9,95.8 159.2,96.8 160.6,97.8 162,98.8 163.3,99.8 164.7,100.7 166,101.6 167.4,102.5 168.8,103.4 170.1,104.3 171.5,105.1 172.8,105.9 174.2,106.7 175.5,107.5 176.9,108.2 178.3,109 179.6,109.7 181,110.4 182.3,111.1 183.7,111.8 185.1,112.5 186.4,113.1 187.8,113.8 189.1,114.4 190.5,115 191.8,115.6 193.2,116.2 194.6,116.8 195.9,117.3 197.3,117.9 198.6,118.4 200,118.9 201.3,119.5 202.7,120 204.1,120.5 205.4,121 206.8,121.4 208.1,121.9 209.5,122.4 210.9,122.8 212.2,123.3 213.6,123.7 214.9,124.1 216.3,124.5 217.7,124.9 219,125.3 220.4,125.7 221.7,126.1 223.1,126.5 224.4,126.9 225.8,127.2 227.2,127.6 228.5,127.9 229.9,128.2 231.2,128.6 232.6,128.9 234,129.2 235.3,129.5 236.7,129.8 238,130.1 239.4,130.4 240.7,130.6 242.1,130.9 243.5,131.1 244.8,131.4 246.2,131.6 247.5,131.9 248.9,132.1 250.2,132.3 251.6,132.5 253,132.7 254.3,132.9 255.7,133.1 257,133.3 258.4,133.4 259.8,133.6 261.1,133.7 262.5,133.9 263.8,134 265.2,134.2 266.6,134.3 267.9,134.4 269.3,134.5 270.6,134.6 272,134.7 273.3,134.8 274.7,134.9 276.1,135 277.4,135 278.8,135.1 280.1,135.2 281.5,135.2 282.9,135.3 284.2,135.3 285.6,135.3 286.9,135.4 288.3,135.4 289.6,135.4 291,135.4" fill="none" stroke="#ff2020" stroke-width="0.95" stroke-dasharray="3.7 2.0"/>
<path class="db" d="M101.3 95.3h0M169.5 136.9h0M160 121.2h0M158.6 127.7h0M256.8 148.3h0M218.1 143.7h0M203.8 138.6h0M131.6 106h0M260.8 145.4h0M280.5 147.1h0M147.9 114.8h0M154.7 122.7h0M278.7 148.7h0M184.6 140.2h0M214.2 136.7h0M217.5 141.9h0M101.1 94h0M87 99h0M279.8 146h0M143 117.7h0M58.8 99.3h0M154.2 117h0M146.1 109.9h0M109.5 87.4h0M259.9 150.6h0M95.1 103.8h0M111.5 109.8h0M103.8 105.1h0M74.8 69.8h0M259.9 149.5h0M117.3 109h0M116 96.1h0M70.1 77.1h0M209.9 143.4h0M137.4 122.9h0M238.6 141.2h0M232.4 142.6h0M109.3 91.6h0M107 90.9h0M163.2 123.1h0M144.8 126.9h0M148.1 109.9h0M169.8 134.4h0M68.8 96.3h0M133.6 101.5h0M255.1 144.4h0M170.7 136h0M245.7 149h0M121.4 103.7h0M205.6 141.7h0M57 80.8h0M172.5 124.9h0M72 103h0M239 143.2h0M254.2 144.7h0M123.2 97.9h0M139.2 115.2h0M84.4 86.6h0M203.3 133.2h0M195.9 141.1h0M115.6 106.7h0M117.8 92.8h0M258.5 148h0M168.5 132.5h0M252.3 149h0M210.2 135.1h0M182.9 126.9h0M105.6 104.4h0M264.8 150.7h0M254.3 151.1h0M281.4 149h0M123 108.1h0M47.5 60.9h0M230.1 142.8h0M54.8 78h0M97.3 96h0M68.3 97.8h0M166.7 132h0M95.3 78.4h0M109.9 101.7h0M289.1 147.6h0M182.5 124.9h0M263.9 144.7h0M236.1 146.2h0M192.4 143.4h0M283.2 146.4h0M237.5 140.7h0M53.9 96.7h0M144.3 109.6h0M127.6 98.7h0M180.6 128h0M166.7 121.6h0M208.7 136.7h0M245.7 147.7h0M116.7 115h0M220.5 143.1h0M158.5 125.2h0M125.2 103.6h0M96.3 78.9h0M230.9 144.6h0M122.4 106.8h0M143 117.7h0M163.4 130.3h0M63.6 69.4h0M62.5 82.7h0M55.7 75.6h0M165.2 128.5h0M153.2 119.9h0M225 146.4h0M230.2 145.5h0M175.3 131h0M278.6 147.3h0M290 147.8h0M92.8 95h0M75.1 85.3h0M190.6 139.8h0M58.3 84.9h0M51.4 64.5h0M91.6 106.6h0M54.4 74.1h0M267.4 147.1h0M211.7 143.2h0M141.7 113.4h0M187.1 136.9h0M87.8 91.6h0M183.5 134.7h0M173.7 123h0M251.2 147.7h0M185.4 132h0M211.2 141.2h0M169.3 125.1h0M156 125h0M75.5 85.4h0M114.1 107h0M257.4 150.4h0M266.3 148h0M287.4 148.2h0M190.2 130.7h0M215.8 142h0M274.8 147.2h0M161.3 126.7h0M113.8 112.2h0M109.8 95.1h0M176.4 134.7h0M115.8 111.8h0M51.4 73.1h0M178.1 129.6h0M195.1 132.5h0M269.2 146.3h0M72 85.4h0M63.5 86.6h0M269.5 144.8h0M248.8 145.2h0M255 146.9h0M114.8 102.7h0M243.5 144.8h0M79.9 72h0M164.4 133.5h0M203.8 145h0M170.5 122.2h0M250.8 149.4h0M140.2 111h0M101.4 100.3h0M63.3 81.2h0M242.9 146.9h0M278.7 151.4h0M234.1 140.9h0M102.4 92.9h0M172.1 136.5h0M113.9 93.1h0M73.3 73.3h0M110.1 99.7h0M218.5 147.1h0M286.3 146.3h0M112.6 107.4h0M128.1 101.1h0M158.9 120.9h0M49.7 73.4h0M46.6 96.6h0M68.7 103.1h0M262.5 145.6h0M216.1 138.8h0M208.6 139.8h0M153 114.1h0M263.2 144.7h0M167.1 121.9h0M283.4 144.8h0M120.1 105.1h0M200.2 137.8h0M49.5 89.1h0M52.2 81.5h0M254 144.8h0M78.7 73h0M84.8 73.2h0M252.4 148.4h0M111.6 93.6h0M275.3 147.4h0M268.9 149.7h0M135.4 101.9h0M190.1 136.6h0M97.7 107.3h0M256.7 150.2h0M150.5 111.4h0M80.2 89.3h0M249.1 146.8h0M223.6 146.4h0M148.8 123.4h0M216.4 144.8h0M137.7 121.6h0M256.4 147.3h0M162.3 119.7h0M156.8 119.2h0M261.5 144.9h0M107.7 105.2h0M54.9 98h0M289.2 147.5h0M157.7 126.3h0M69.2 68h0M97.5 104.5h0M273.8 147.4h0M142.9 106.5h0M60.6 81h0M145 118.7h0M63.1 78h0M253.7 148.8h0M89.3 108.4h0M241.9 147.7h0M79.9 90.8h0M111 102.4h0M140.5 114.6h0M89.1 90.3h0M209.2 140.3h0M243.8 149h0M264.7 145.1h0M190.9 139h0M252.7 150.1h0M96.3 107.6h0M268.1 148h0M251.6 147.2h0M51.1 94.6h0M84.2 91.7h0M270.2 147.9h0M150.3 121.1h0M240.5 143.7h0M105.4 110.5h0M126.4 103.1h0M263.7 151.2h0M226.4 145.6h0M51.4 97.1h0M129.9 113.2h0M241.9 142h0M120.5 105.8h0M81.2 82.4h0M148.3 116.2h0M117.5 114.7h0M223.5 138.1h0M222 143.9h0M289.4 145.9h0M153.1 130.2h0M275.6 145.7h0M71.5 91.4h0M104.3 108.3h0M110.9 101.2h0M67 80.2h0M159.8 120.8h0M76.1 88.5h0M274.8 147.5h0M110.2 99.3h0M271.5 148.4h0M98.2 106.8h0M245.6 144.8h0M156.1 125.9h0M245.2 141.9h0M133.6 113.2h0M52.7 89.9h0M141.4 116.1h0M50 79.1h0M229.2 145.6h0M147.7 117.5h0M146.1 116.7h0M63.6 74.9h0M114.9 98h0M84 97.3h0M143.3 120.7h0M250.5 147.1h0M121 115.5h0M250.1 147.8h0M107.5 97.7h0M57.3 98.4h0M140.2 121.4h0M120.1 92.4h0M68.6 95.3h0M70.8 84.3h0M87.2 82.3h0M148.5 112.8h0M211.2 142.6h0M276 147.6h0M267.4 146.7h0M220.2 138.2h0M199.2 133.6h0M238.8 147.7h0M258.8 143.6h0M122.4 112h0M218.5 147.6h0M183.1 133.7h0M236.7 143.3h0M52.6 63h0M283.6 148h0M71.2 92.2h0M103.4 99.9h0M207.8 143.6h0M79.7 88.8h0M230.3 143.2h0M57.6 75.5h0M198.4 133.1h0M54.4 88.3h0M193.8 142.8h0M85.4 86.4h0M111.4 101.8h0M147 118.5h0M92.1 76.5h0M74 75.8h0M192.5 134.1h0M61.6 80.8h0M52.6 93.4h0M142.7 115.5h0M126.3 117.6h0M214.2 139.5h0M105.2 110.8h0M251 150h0M209.2 138h0M98.5 83.1h0M88.3 88.4h0M235 147h0M274.9 147.7h0M145.8 124h0M132.2 112.9h0M177.2 126.1h0M161.4 127h0M221.7 144.1h0M220.2 146h0M157.1 128.1h0M191.8 136.4h0M247.1 145.8h0M253.3 147.3h0M263 145.8h0M215 137.7h0M273.4 144.4h0M110.3 104.3h0M289.2 150.6h0M254.1 150.7h0M276.3 145.9h0M139.1 122.8h0M243.2 146.4h0M140.2 115.8h0M55.9 78.1h0M96.9 80.2h0M264.1 146h0M65.9 100.2h0M75 90.5h0M259.8 150h0M240.6 146.3h0M275.1 149.1h0M57.1 82.4h0M54.9 88h0M113.3 105.2h0M121.1 96.8h0M168.1 127h0M125.2 105.4h0M68.3 89.5h0M238.2 147.4h0M266.1 148h0M119.9 108.2h0M176.9 134.5h0M282.4 145.1h0M201.8 141.9h0M90.6 92.9h0M287 149.9h0M206.1 138h0M219.7 143.3h0M199.7 133.2h0M286.2 146.1h0M219 146.2h0M55.6 72.1h0M95.2 104.6h0M121.4 96h0M57.2 85.6h0M101.4 82.8h0M275.3 148.9h0M220.1 142.5h0M60.9 78.3h0M256.3 144.5h0M60 71.4h0M142.8 115.8h0M247.3 148.9h0M193.4 133h0M112.2 94.4h0M262.3 151h0M106.3 98.5h0M188.6 135.3h0M246.6 149.4h0M160.5 122.2h0M230.5 144h0M250.5 149h0M247.9 148.7h0M122.7 110.7h0M116.3 104h0M290.6 151.3h0M93.7 95.1h0M287.8 146.8h0M248.9 147.2h0M202.3 142.9h0M183.8 137.5h0M68.8 90.2h0M105.1 96.8h0M102 104.2h0M67 89.3h0M157.9 118.6h0M96.7 90h0M106.3 107.8h0M129.1 108h0M239.7 142.6h0M93.5 99.3h0M54.5 75.6h0M271.4 144.5h0M261.2 145.4h0M171 133.1h0M121.5 114.8h0M105.3 94h0M164.1 129.8h0M118.5 93.9h0M223 143.2h0M213.3 138.4h0M202 143.7h0M125.9 110.5h0M103.5 94.4h0M184.3 129.6h0M204.7 144.1h0M267.7 147.4h0M182.8 126.1h0M215.5 139.5h0M240.8 146.1h0M63.8 86.3h0M166.8 125.5h0M69.7 101.4h0M197.2 139.5h0M252.6 144.6h0M195.5 138.9h0M75.8 96h0M68.8 82.3h0M194.9 132.1h0M110.1 101.3h0M87.5 105.4h0M178 133.3h0M95.6 94.1h0M116.5 110.1h0M78.7 85.4h0M230.7 142.8h0M272.8 145.8h0M189.2 135.4h0M184.3 130.1h0M274.4 144.2h0M69.8 91.1h0M152.6 118.5h0M275.8 148.5h0M232.5 142.6h0M90 79.6h0M86.5 78h0M101.8 102.9h0M261.4 144.8h0M277.7 150.8h0M215.8 139.1h0M86.1 98.5h0M63.7 80h0M126.3 110.3h0M80 73.6h0M187.6 130.4h0M197.7 136.5h0M179.8 128.5h0M283.3 151.9h0M229.4 148.3h0M161.8 123.4h0M275 150.5h0M199.8 138.5h0M119.4 110.8h0M125.8 101.9h0M156.9 126h0M145.2 123.8h0M173 127.1h0M278.8 147.5h0M269.9 148.9h0M104.3 101.7h0M256.1 147.5h0M261.2 145.9h0M183.5 138.9h0M284.2 144.7h0M263.9 148.2h0M139.3 121h0M208.6 136.4h0M91.6 86.2h0M57 84.8h0M253.3 144.5h0M180 127.4h0M240.3 145.4h0M242.3 144.4h0M242.4 144.8h0M57.3 63.3h0M118.8 100.9h0M116.2 96.8h0M178.9 130.4h0M211.5 144.2h0M195.9 139.7h0M232.6 147.6h0M261.9 149.3h0M205.7 144.2h0M120.5 108.2h0M123.4 114h0M263.7 149.7h0M144.9 123.6h0M69.2 84.4h0M151.8 130h0M267.1 151.1h0M220.1 145.4h0M93.6 87.9h0M203.3 145.1h0M198.5 134.1h0M176.4 136.8h0M234.9 143.9h0M153.8 125.1h0M80.4 80.3h0M274.9 148.5h0M141.4 119.7h0M114.3 116.3h0M103.6 84.6h0M240.1 147.7h0M181.5 132.9h0M132.7 117.9h0M80.8 75h0M275.4 146.3h0M194.1 135.6h0M213.4 135.9h0M64.3 75.2h0M194.5 138.5h0M236.5 148h0M131.8 110.7h0M54.2 86.9h0M81.1 100.2h0M91.8 99.2h0M229.3 141h0M62.3 94.2h0M202 139.4h0M280.3 147.7h0M268.7 149.3h0M264.8 151.4h0M155.6 123.1h0M213.8 145.2h0M95.1 99.3h0M152.5 128.1h0M59.5 66.3h0M265.4 148.6h0M201.6 136.6h0M194.6 137.2h0M79.7 76.2h0M172.4 130.8h0M61.3 92.2h0M213.6 139.3h0M106.4 110.5h0M110.1 102.7h0M140.9 120.5h0M96.6 100.2h0M151.8 115.5h0M55.1 84.6h0M100.6 105.1h0M52.3 83.1h0M175.9 128.1h0M53.9 68.4h0M150.7 129.8h0M217 136.9h0M230.5 145.4h0M195.8 135.7h0M173.2 134.6h0M184.3 138.1h0M60.3 78.3h0M170.2 132h0M126.4 98.3h0M246.8 144.7h0M239.9 144.9h0M212.8 139.2h0M188.7 127.5h0M60.8 87.9h0M263.3 145.9h0M243.3 143.2h0M170.1 125.7h0M150.9 119h0M283.3 146.3h0M90.1 108.5h0M226.6 140.1h0M259.8 150.7h0M271.7 147.1h0M195.5 140.1h0M197.5 132h0M229.7 144.9h0M241.3 147.1h0M148.2 125h0M193.3 136.5h0M65.9 68.6h0M170.8 125.6h0M65 71.9h0M143.8 119.4h0M251.3 150.7h0M234.4 142.7h0M218.9 137.2h0M243.2 148.9h0M165.6 124.7h0M257.4 146.6h0M148.1 116.1h0M149.6 124.5h0M236.7 143.4h0M283.1 150.6h0M111.7 102.2h0M155.9 116.5h0M153 119.4h0M234 147.1h0M116.9 105.6h0M290.9 145.6h0M133.2 120.8h0M144.5 119h0M256.4 148.8h0M256.1 149.3h0M170.7 130.9h0M247 147.4h0M140.3 115.9h0M196.1 137.3h0M286.3 145.2h0M236.8 147h0M128.8 113.3h0M134 118.6h0M265.8 148.7h0M152.4 118.8h0M193.5 142.3h0M147.2 122.5h0M63.6 82.1h0M208.2 137.5h0M132.7 116.6h0M137.2 120.5h0M54.6 93.9h0M71.8 82.5h0M96.2 109.8h0M122.9 114.3h0M161 121.3h0M102.9 100.7h0M160.3 122.7h0M192.6 135.7h0M86.3 104.7h0M59.7 93h0M290 148.4h0M80 90.4h0M228 143.5h0M244.1 143.9h0M269.5 145.7h0M233 147.9h0M58.7 78.3h0M190.3 133.6h0M223.1 146.2h0M98 96.6h0M171.6 124.7h0M138.6 118.4h0M188 134h0M158.9 126.3h0M211.7 136.1h0M225.4 141.3h0M76.8 93.8h0M107.3 96.7h0M172.4 134.9h0M248.4 144h0M282.7 148.4h0M234.9 147.3h0M116.5 106h0M224.6 143.7h0M93.2 96.6h0M288.3 149h0M145.8 121.4h0M253.4 147.9h0M163.1 120.6h0M111.5 109.9h0M60.3 99.1h0M133.1 107.3h0M97.3 82.4h0M100.4 111.8h0M177.7 126h0M256.2 148.1h0M139.2 113.4h0M257.5 144.6h0M228.8 140.8h0M157.6 121.3h0M288.8 146.1h0M142.5 124.4h0M163.2 123.6h0M273.3 146.3h0M84.2 107.8h0M263.3 151.1h0M112.8 107h0M201.6 143.1h0M108.2 92.3h0M140.4 114h0M203.1 133.3h0M51.2 75.1h0M47 90.6h0M199 142.9h0M258.1 150.4h0M160.4 122.5h0M183.7 132.7h0M257.8 145h0M276.7 149h0M173.4 125.2h0M258.9 144.5h0M256.1 144.9h0M196.5 132.7h0M146 120.2h0M290.7 145.5h0M117.7 117.2h0M242.6 150h0M141 109.7h0M248.7 144.6h0M219.4 138.4h0M57.2 82.9h0M259.9 145.4h0M57.7 93h0M62.2 87.6h0M147.5 114.5h0M82.7 93.2h0M266.2 144.7h0M143.4 109.6h0M163 128.9h0M59 99.7h0M249.4 150.6h0M204.9 139.6h0M146.1 120h0M146 118.2h0M103.7 90.3h0M155.9 117.1h0M56.5 85.4h0M215.1 146h0M79.1 74.8h0M80.7 106.1h0M181.4 134.6h0M91.4 99.7h0M250.7 146.2h0M89.8 84.2h0M190.4 134.6h0M88.8 90.3h0M87.7 102.9h0M182.5 127.7h0M253.7 142.7h0M224.9 143.1h0M142.9 110.1h0M102.9 104.3h0M210.1 138.7h0M269.5 149.1h0M73.5 76.2h0M268.7 146.3h0M141.7 116h0M255.3 149.6h0M172.4 130.2h0M289.8 144.7h0M204.8 136.5h0M200.7 137h0M67.2 72.2h0M156.5 120.4h0M169.4 128.9h0M202.9 136.4h0M138.6 109.9h0M104.2 99.2h0M185.8 139.6h0M183.1 126.6h0M202.8 133.1h0M225.5 144.5h0M214 146.8h0M194.2 132.7h0M279.3 150.1h0M126.3 103.1h0M89.2 95.1h0M179.5 127.4h0M144.9 124.5h0M277.1 149.4h0M198.8 131.8h0M245.2 145.6h0M114.1 115h0M262.3 146.3h0M251.2 145.5h0M278.7 145.1h0M61.1 87h0M90.2 86.5h0M154.6 115.7h0M162.3 124.1h0M77.3 97.5h0M171.3 134.7h0M181.9 136h0M190.2 137.5h0M181.9 127.3h0M69.2 73.4h0M209.5 140.2h0M178.2 135.3h0M204.5 142.7h0M208.4 137.3h0M60.9 65.5h0M177.3 126.8h0M59.9 67h0M282.3 145.5h0M132.5 118.1h0M105.7 106.3h0M286.4 151.1h0M110.9 102.5h0M62.7 75h0M238.3 144.2h0M232.4 145.5h0M183.5 134.6h0M250.2 149.1h0M73.1 79.7h0M290 148.5h0M211.7 141.2h0M251.6 147.2h0M191.4 131.2h0M250.1 144.6h0M97.4 104.3h0M252.5 144h0M161.5 120.9h0M54.9 91.7h0M75.8 92.3h0M149.1 121.1h0M119.1 104.6h0M207.3 140.5h0M256.9 147.4h0M276.1 149h0M164.2 131.2h0M225.5 142.9h0M75.8 69h0M101.6 105.3h0M105.2 97.6h0M69.7 100.9h0M199.5 142.9h0M133.7 101.6h0M135.9 113h0M269.7 149.3h0M141.8 113.7h0M199 137.7h0M224.7 139.2h0M70.5 75.9h0M170.9 132.4h0M261.7 151.1h0M55.1 81.3h0M151.2 126.6h0M194.7 133.7h0M218.7 141.5h0M236.1 141.5h0M83.7 98.4h0M71.3 95.8h0M104 113.5h0M279.3 145.5h0M263.9 149.6h0M160.7 122.3h0M111.3 94.4h0M116.8 109h0M235.8 143.3h0M270.6 146.2h0M144.4 115h0M139.9 110.3h0M149.5 113.4h0M198.6 135.1h0M161.5 122.3h0M267.7 146.8h0M171.7 134.4h0M226.5 146.7h0M247.3 148.5h0M237.8 142.4h0M95.5 102.8h0M190.8 134.5h0M53.8 79.9h0M107 87.7h0M206.9 134.6h0M210.6 140.7h0M77.6 101h0M65 73.3h0M97.3 92.2h0M174.2 126h0M283.4 151.2h0M281.5 144.6h0M251.6 149.5h0M150.8 127.1h0M137.8 113.4h0M226.1 139.7h0M85 91.4h0M205.7 141.3h0M153.6 130.7h0M259.5 150.5h0M158.1 121.8h0M131.2 106.9h0M206.7 138.8h0M97.6 101h0M279.9 147.2h0M185.5 132h0M171.3 133.3h0M276.1 145.1h0M104.9 87.6h0M96.9 97.9h0M49.7 70h0M78.2 103.1h0M194.4 135.3h0M138.5 111.2h0M72.3 103.1h0M65.9 71.9h0M93 80.7h0M79.4 89.8h0M245.2 150.5h0M277.8 147.1h0M243.3 149.6h0M198.6 136h0M179 129h0M111.2 96.8h0M215.3 139.8h0M135.2 110.3h0M52.3 95.1h0M65.9 79.2h0M139.8 112h0M157.5 125.8h0M171.9 125.1h0M244.7 149.9h0M128.8 100.3h0M239.9 146.3h0M66.5 89.3h0M209.9 145.7h0M169.2 132.5h0M117.1 107.1h0M96.3 86.2h0M268.1 144.8h0M243.3 146.3h0M268.3 146.4h0M254.1 143.9h0M263.8 148.6h0M185.5 133.1h0M210.1 141h0M270.9 148h0M60.3 98.3h0M285.8 146.6h0M102.8 83.8h0M56.7 95.4h0M143.5 114.3h0M207.7 137.6h0M156.7 116.4h0M145 121.9h0M114.5 97.2h0M129.6 111.4h0M229.8 146.3h0M183.1 130.3h0M242.9 142h0M282.8 150.8h0M160.4 126.7h0M102.4 103.1h0M138.6 123.5h0M86.2 94.4h0M99.3 107.1h0M76.8 96.2h0M242.1 144.2h0M128.6 112.7h0M148.7 121h0M123.4 114.1h0M245.1 146.1h0M227.8 143.7h0M101.9 89.4h0M104.1 84.1h0M219.9 143.9h0M103.2 112.5h0M132.1 121h0M110 97.9h0M170.7 134.8h0M50 83.2h0M163.5 119.3h0M269 147.8h0M178.9 132.5h0M264.4 147.8h0M224.8 145.1h0M161.4 120.1h0M133.5 112.3h0M283.8 148h0M166.2 120.9h0M206.1 136h0M275.9 148.1h0M212.9 140.3h0M115.2 97h0M193.2 136.2h0M287.3 149.3h0M125.8 97.4h0M66.3 91.8h0M55.9 92.8h0M233.1 141.6h0M80.5 91.1h0M212.7 135.8h0M253.7 145.2h0M214.2 145.8h0M129 120.8h0M155.2 124.5h0M253.2 148.4h0M266.9 148.2h0M208.1 135.5h0M127.6 110.2h0M173.1 123.7h0M248.9 143.3h0M55.7 82.3h0M167.7 131.5h0M216.2 139.9h0M205 135.1h0M62.8 65.7h0M211.3 145.6h0M162.8 122.7h0M72.6 96.2h0M252.3 150.7h0M157.3 121.4h0M72.4 90.8h0M245.8 145.9h0M178.3 136.5h0M164.3 128.5h0M131.3 101.4h0M163.8 124.1h0M165.6 131.2h0M178.8 136.9h0M53.7 84.2h0M282.8 146.9h0M100 99.2h0M109.5 101.1h0M176.9 126.7h0M215 140.3h0M47.6 77h0M78.6 76.5h0M144.8 108.6h0M246 147.4h0M54.6 66.8h0M281.1 148.3h0M126.7 111h0M213.1 143.4h0M95.3 98.5h0M254.3 145.9h0M186.6 136h0M125.9 113.3h0M259.8 146.8h0M212.4 143.9h0M154.3 121.5h0M130.2 99.7h0M173.6 130.7h0M285.4 151.3h0M218.6 137.3h0M58.6 84.7h0M223.6 145.3h0M166.1 129.7h0M135.5 109.6h0M112.6 102.2h0M102.3 104.5h0M85 80.9h0M108.3 105h0M78.7 75.3h0M195.4 136.2h0M250.4 143.3h0M246.7 147h0M142.7 126.4h0M191.4 135.7h0M61.3 66.4h0M180.7 133.2h0M248.5 145.5h0M70.4 85.9h0M97.9 87.9h0M167.5 131.9h0M91.3 95.5h0M232.9 140.1h0M175.2 127.2h0M197.7 134.7h0M82.4 95.7h0M221.6 138h0M90.8 109h0M195.5 132.7h0M249.2 146h0M156.4 124.4h0M214.1 145.4h0M176.8 125.1h0M49.9 82.5h0M259.1 151.3h0M146.1 109.9h0M180.4 124.2h0M123.4 105h0M140.9 109h0M185.2 139.1h0M286.7 146.1h0M274.4 146.7h0M164 125.3h0M239.4 149.7h0M254.9 148.6h0M166.1 129h0M196.4 134.4h0M210 146.3h0M73 79h0M48.7 79.7h0M195.6 138.8h0M93 87.5h0M227.6 146.9h0M123.2 114.7h0M145.1 121.4h0M168.4 131.1h0M171 134.7h0M148.4 121.5h0M59.2 93.5h0M112.4 108.6h0M100.4 90.2h0M53.1 69.2h0M113.7 88.4h0M73.2 71.9h0M265.7 144.9h0M125.4 115.5h0M205.6 141.1h0M289.8 147.7h0M263.1 143.9h0M91.7 110.3h0M222.2 146.8h0M290.1 150.3h0M62.5 94.7h0M261.7 149.2h0M227.9 140.9h0M65.1 77.6h0M67.2 102.5h0M63.7 90.1h0M75.3 69.6h0M74.2 88.1h0M237 146.9h0M67.6 87.3h0M287.6 149h0M187.5 133.9h0M285.2 148.2h0M283.1 147.8h0M56.8 81.6h0M243.6 147.3h0M174.3 132.7h0M247.9 143.4h0M195.4 143h0M242.6 147.7h0M53.5 87.2h0M119.8 115.3h0M188.2 134.5h0M50.8 72.4h0M220 138.3h0M134.7 107.1h0M144.1 127h0M178.8 134.5h0M212.1 141.4h0M47.1 76.8h0M240.2 146.7h0M158.9 132.5h0M169.5 126.8h0M83.9 106.9h0M222.7 142.7h0M117.9 106.7h0M86.2 106.4h0M176.7 129.5h0M284 148.7h0M252.9 145.9h0M153.7 126.3h0M91.8 92.4h0M236.7 143.8h0M275.9 149.2h0M233.4 147h0M224.9 147.8h0M264.6 146.5h0M141.6 125h0M260.8 145.5h0M183.9 137.8h0M52.2 72.3h0M107.2 110.5h0M226.7 146.9h0M71.9 84.6h0M177.1 125.7h0M170.1 132.1h0M101.1 101.4h0M112.8 96.5h0M50.9 86.3h0M117.8 104.2h0M204.9 142.4h0M71.8 84h0M180.6 138.3h0M109.8 96.9h0M258.7 145.8h0M84.4 102.1h0M170.6 136.9h0M52.5 74h0M259.3 144.5h0M212.8 142.8h0M138.8 114.2h0M166 132.2h0M124.6 103.1h0M100.7 97.3h0M269.9 145.6h0M69.2 89.1h0M128.3 104.1h0M64.8 80.4h0M198 140.6h0M136.9 118.3h0M92.2 95h0M47.3 67.6h0M157.7 125.9h0M119.3 98.5h0M132 102.7h0M233.8 143.7h0M120.5 98.7h0M224 143.9h0M125.2 118h0M95 77.9h0M208.9 138.3h0M170.1 126.1h0M288.8 146.2h0M250.9 147h0M80.9 104.7h0M182 124.9h0M259 150.5h0M139.9 104.9h0M247.9 145.6h0M191.3 129.4h0M259.1 145h0M132.6 121.3h0M186 134.1h0M71.9 82.6h0M86.4 79.6h0M153.3 119.3h0M257.4 146.1h0M156.5 128.7h0M247.5 144.9h0M175.5 136.7h0M130 113.3h0M103.6 87.6h0M245.1 148.7h0M113.4 102.2h0M52.4 93.5h0M74.8 89.9h0M76.9 93.8h0M207.9 141.8h0M108.4 88.7h0M232.8 147h0M196.9 135.3h0M132.1 102.9h0M93.7 95.6h0M152.4 125.2h0M57.6 95.8h0M69.5 97.7h0M235.8 148.8h0M160.4 117.8h0M65.4 96.4h0M253.8 148.1h0M67.5 89.1h0M245.9 146.1h0M237.7 144.9h0M188.4 131.7h0M76.4 76.4h0M266.3 148.7h0M209.7 146.1h0M190.2 136.3h0M214 142.5h0M134.6 110.5h0M139.3 108.3h0M65 102.5h0M169 129.3h0M147.1 124.9h0M169.7 123.6h0M76.3 77.2h0M75.3 80.1h0M124.8 112.3h0M90.8 100h0M86.2 96.8h0M129.9 113.8h0M49.5 68.4h0M194.7 139.5h0M163.1 130.3h0M150.7 113.5h0M272.9 149.9h0M79.4 85.1h0M197.4 137.6h0M152.4 123.6h0M276.2 147.9h0M271.3 150.7h0M124.8 107.6h0M269 148.2h0M101.6 101.9h0M224.8 144.3h0M231.2 145.8h0M287.3 147.5h0M282.9 145.3h0M192.4 132.7h0M216.4 143.7h0M53.9 77.3h0M214.7 146.6h0M220 143.4h0M95.6 84.2h0M58.3 69.6h0M218.9 144.4h0M159.5 126.3h0M91.6 88.4h0M125.1 110.7h0M239.8 141.6h0M73.2 102.2h0M226.9 145.5h0M181.2 126.6h0M135 114.1h0M195.9 140h0M101.2 95.6h0M269.4 146.6h0M84 80h0M144.3 115.7h0M152.1 122.6h0M115.7 115.9h0M72.8 91.2h0M221.8 148h0M278.7 147.2h0M157.7 122.1h0M281.1 149.6h0M181.7 133.6h0M108.9 101.2h0M244.9 144.8h0M149.3 113.8h0M236.4 149.3h0M136.1 106.2h0M194.6 142.1h0M179.2 127.4h0M87.5 76.7h0M89.9 106.8h0M258.1 149h0M263.6 150.5h0M197 137.9h0M231.7 148h0M62.9 69.1h0M191.8 130.8h0M200.4 139.3h0M164.6 130.1h0M154.1 114h0M86.6 93.9h0M97.8 107.6h0M244.5 146.9h0M236.5 148.9h0M62.4 75.9h0M147.4 126.1h0M163.1 119.4h0M157.7 124.5h0M126.3 105.1h0M47.7 85.3h0M288.4 145.9h0M267.5 147.7h0M54.8 62.7h0M141.3 106h0M78.9 88h0M171.1 129.6h0M171.4 136h0M73.3 85.2h0M144.9 109.2h0M240.1 143.8h0M101.1 99h0M99.9 85.5h0M173.9 135.4h0M109.2 85.6h0M197.2 136.6h0M82.3 103.1h0M153.1 113.9h0M135.5 109h0M118.3 108.9h0M285.9 148h0M103.9 104.8h0M70.3 74.8h0M274.6 147h0M113.3 92.4h0M121.4 93.9h0M238.9 145.2h0M101.6 110h0M214.1 145.7h0M217.4 145.6h0M205.3 137.9h0M171.3 123.9h0M95.4 96.3h0M159.3 122.6h0M205.1 135.3h0M80.1 98.4h0M184.8 132.2h0M140 107.2h0M67.3 78.7h0M235 143.9h0M80.7 90.4h0M195.6 135.9h0M180.4 127.1h0M192.1 136.9h0M194 140.3h0M47.9 81.2h0M159.8 126.5h0M83.4 92.2h0M136 110.9h0M100.4 94.5h0M289.7 151.6h0M198 140h0M51.7 90.2h0M126.5 109.9h0M214.3 146.1h0M223 138.8h0M209.6 145.1h0M243.2 149.6h0M182.6 129.4h0M130.6 113.6h0M84.7 107h0M171.3 137h0M112.8 109.7h0M257.6 147.2h0M249.5 145.6h0M204.9 137.5h0M171.2 128.4h0M71.1 76.4h0M134.5 108.6h0M288.9 148.1h0M191.9 136.1h0M104.8 105h0M52 78.2h0M244.9 142.3h0M194.3 139.1h0M204.4 142.5h0M183.9 139h0M226.4 144.7h0M246.9 144.3h0M260.4 147.4h0M264.4 145.1h0M252.6 150.9h0M253.1 144.3h0M172.8 135.6h0M144.3 114h0M148.6 112.6h0M262.7 151.2h0M108.4 103.2h0M93.2 85.3h0M47.4 63.6h0M102.5 98.1h0M211.5 141h0M167 123.9h0M96.9 83.5h0M242 150h0M241.7 147.8h0M121.5 111.1h0M142.2 122.4h0M98 86.8h0M273.9 147.9h0M171.7 129h0M263.4 146.2h0M108.3 103.2h0M283.2 146.1h0M225.8 143.4h0M56.2 94h0M243.1 148.8h0M224.2 146.3h0M231.6 140.7h0M149 127.1h0M223 140.6h0M76.2 87.1h0M55.5 80.3h0M229.1 140.9h0M168.4 123.4h0M260.3 149.3h0M82.8 89.3h0M185.7 131.3h0M88.2 86.9h0M145.9 120.4h0M190.1 136.6h0M168.2 129.2h0M203.3 138.3h0M171.5 124.4h0M46.8 68.4h0M69 78.5h0M92 87.1h0M189.7 127.7h0M127.6 108.3h0M198.8 137.6h0M76.7 81.3h0M179.5 132h0M243 147.3h0M229.4 142.6h0M196.2 133h0M149 124.2h0M228.8 146.1h0M281.3 149h0M164.8 132.3h0M173.3 133.3h0M145.2 113.5h0M133.8 116.6h0M222 140.4h0M227.5 139.3h0M85.2 89.9h0M117.4 107h0M48.3 88h0M153.4 119h0M67.8 95.1h0M89.3 95.1h0M265 150.9h0M288.5 145.5h0M191.4 136.4h0M177.7 128.8h0M166.3 129.3h0"/>
</g>
<clipPath id="c2"><rect x="377.5" y="9.5" width="244" height="151"/></clipPath>
<g clip-path="url(#c2)">
<path class="dg" d="M503.2 88.9h0M542.7 74.8h0M542.7 65.8h0M555.9 57.8h0M520.8 75h0M527.8 75.7h0M438.3 111.4h0M559.2 59.9h0M446.1 109.6h0M420.9 117.1h0M403.9 118.8h0M549.9 67.9h0M414.1 118.8h0M476.1 99.4h0M464.2 103.3h0M539.9 81.9h0M403.2 119.4h0M402.1 116.8h0M539.3 77.6h0M425.7 114.8h0M544.3 68h0M492.5 94.2h0M507.2 86.3h0M513.4 78.8h0M413.9 116h0M481.9 95.5h0M607.8 61.1h0M429.6 115.2h0M386.9 122.8h0M401.1 118.4h0M515.3 79.1h0M470.3 102.3h0M479.4 98.6h0M437 109.7h0M525.4 73.8h0M552.1 70.6h0M384 118.3h0M382.5 122h0M458.9 104.7h0M475.1 99.3h0M382 119.8h0M546.3 73.7h0M458.9 106.5h0M619 63.5h0M401.5 120.3h0M451.3 109.6h0M425 115.7h0M548.2 64.8h0M378.7 121.3h0M496.3 90.5h0M480.5 96.8h0M382 121.4h0M518.2 76.8h0M576 61.1h0M471.4 100.6h0M413.3 118h0M539.1 74.5h0M606.5 56.5h0M463.5 105.2h0M384.9 121.2h0M547.6 80.9h0M407.8 118.9h0M554.2 70.8h0M399 119.3h0M416.5 118.4h0M472.3 100.4h0M551.8 66h0M450.2 106.8h0M531.5 75.4h0M450.9 109.9h0M576.1 59.2h0M589.1 48.6h0M567.3 69.2h0M492 89.6h0M462.8 104h0M564.8 72.9h0M580.2 53.2h0M464.4 103.9h0M446.5 109.8h0M521.3 73.2h0M461 105.8h0M563.7 59.2h0M583.3 48.6h0M457.6 105.6h0M465.3 103.9h0M406.2 119h0M397.8 119.6h0M558.1 55.4h0M475.7 99.9h0M606.3 60.6h0M529.3 74.4h0M519.5 75.7h0M393 117.8h0M462.8 104.6h0M562 58.4h0M472.2 102.3h0M455.6 107.7h0M481.3 96.6h0M541.9 75.3h0M473 100.4h0M549.7 73.9h0M484.4 93.8h0M595.2 61.6h0M576.1 65.9h0M541.6 65.5h0M605.6 54.8h0M497.7 91.6h0M453.4 108h0M524.2 78.6h0M600.6 66.8h0M604.6 47.4h0M603.5 68.6h0M493.3 90h0M412.2 118.3h0M442.5 111.7h0M541.3 75.3h0M390.8 118.4h0M393 118.8h0M594.2 58.2h0M600.1 63.9h0M504.7 93h0M502.4 88h0M582.8 66.2h0M588.9 54.6h0M472.4 99.7h0M486.7 95h0M461.1 103.9h0M453.9 107.9h0M563.8 58.6h0M543.7 73.4h0M602.8 61.1h0M574.8 70.5h0M532.1 80.6h0M572.5 56.8h0M593.9 55.3h0M424.9 116.4h0M563.3 56.8h0M393.6 122.2h0M408.8 119.1h0M458.6 105.7h0M390.6 119.1h0M423.6 116.7h0M590.4 45.7h0M503.7 86h0M535.4 68.8h0M608.5 55.6h0M442.7 108.1h0M421.8 116.5h0M415 115.4h0M522 78.7h0M437.9 112.9h0M393.4 120.3h0M455.1 107.5h0M480 98.6h0M530.7 74.7h0M576 60.3h0M427.5 114h0M492.5 93.2h0M454.5 106.8h0M596.2 47.7h0M397.1 119.4h0M508.2 87.3h0M386 119.1h0M553.4 60.1h0M440.3 109.9h0M388 120.8h0M493.5 91.7h0M608.5 41.8h0M484.4 95h0M614.3 46.2h0M425.3 112.6h0M403.4 118.2h0M527.3 81h0M525.8 75.6h0M571.2 48.8h0M412.9 116.6h0M391.2 119.1h0M589.5 60.7h0M393.3 117.8h0M513.4 85h0M409.7 118.9h0M380.7 120.1h0M477.6 98.3h0M569.8 67.5h0M577.7 59.1h0M605.3 62.3h0M534.3 85.1h0M534.3 76.1h0M601.4 51.1h0M451.2 108.8h0M565.8 63h0M620.4 43.1h0M544.3 61.9h0M534.5 77.9h0M600.4 60.6h0M573.3 61.8h0M476 99.3h0M428.5 114.4h0M491.8 93.7h0M503.6 89.2h0M492.4 93h0M575.2 71.3h0M388.6 118.5h0M532.9 77.9h0M556.4 61.8h0M611 58.7h0M596.3 70.9h0M600.7 50.6h0M537.4 78h0M468.1 101.1h0M518.4 83.9h0M477.4 100.3h0M415.2 115.1h0M575.5 57.3h0M552.6 76.1h0M397.6 119.4h0M498.7 89.1h0M458.3 105.9h0M452.5 108.9h0M448.1 108.4h0M397.7 118.4h0M394.1 120.5h0M528.4 74.8h0M433.7 112.6h0M430.5 112.9h0M394.6 118.9h0M520.5 82h0M421.6 116.6h0M540.6 72.6h0M486.3 95.2h0M405.9 117.5h0M452.3 107.4h0M460.9 103.6h0M517.3 84.2h0M391.2 120.6h0M586.4 56.5h0M556.8 70.2h0M493.7 92.2h0M595.4 60.7h0M453.9 106.8h0M592.9 66.6h0M620.9 59.1h0M457.5 105.4h0M391.4 119.8h0M429.1 113h0M572.8 62.4h0M542.6 67.7h0M510.9 85.8h0M454.4 108.6h0M543.2 75.7h0M404.3 119.9h0M405.5 118.1h0M506.3 87.6h0M438.8 110h0M487.3 93.4h0M481.8 93.8h0M593.1 56.2h0M385.9 119.1h0M488.3 95.6h0M382.9 120.8h0M477.1 99.4h0M418.9 117.6h0M519.8 87.3h0M391.8 120h0M504 86.5h0M380.9 120.7h0M538.8 74h0M591.9 53h0M481.1 97.8h0M550.7 71.8h0M439 110.4h0M516.6 80.2h0M607 52.2h0M436.6 112.7h0M595.5 69.5h0M499.1 91.5h0M542.4 64.7h0M561.9 67.6h0M509.2 86.8h0M414.4 116.5h0M427 115.1h0M464.3 104.7h0M581.1 64.9h0M378 121.2h0M455.5 106.7h0M508.2 86.3h0M505.9 86.9h0M609 49.7h0M434.2 113.2h0M608.7 59.2h0M419.5 116.5h0M504.1 87.5h0M501.5 85.4h0M421 116.2h0M550.6 71h0M521.9 86.4h0M406.1 117.3h0M588.7 70h0M378.2 118.8h0M443.5 111h0M603.3 62h0M407.3 118.3h0M601.1 70h0M551.3 74.5h0M462.5 105h0M544.9 69.5h0M473.4 100.6h0M497.9 90.1h0M503.1 88.9h0M517.2 77.2h0M574.2 56.1h0M454.5 106.2h0M502.1 86h0M498.1 89.2h0M618 52.4h0M580.8 48.4h0M471.6 101.9h0M487.3 93.5h0M447 109.7h0M615.4 64.9h0M436.2 114.3h0M565.3 60.2h0M473.7 101.8h0M579.1 61.3h0M613.5 52.1h0M449.1 108.8h0M417.1 115h0M579.3 57.3h0M590.1 72.6h0M577 62h0M390.2 119.7h0M486.6 96.5h0M458.2 103.7h0M609.4 54.4h0M391.4 119.9h0M558.3 70.4h0M481.5 95.4h0M526.9 82.2h0M398.2 119.2h0M611.7 62.2h0M504.8 83.9h0M480.6 98.1h0M387.3 119.7h0M557.9 58.8h0M569.5 65.1h0M486.6 94.7h0M474.5 100.2h0M420.3 116.3h0M567.9 64.7h0M556.7 65.9h0M405.7 118.4h0M412.6 119.1h0M546.3 69.8h0M528.5 77.7h0M439.8 111.3h0M601.7 70h0M559.7 69.6h0M486.5 94.6h0M417.1 115.1h0M584.5 62.1h0M503 91.3h0M585.4 48.8h0M599.6 59.4h0M447.5 107.6h0M389.1 122.5h0M580 61h0M500.4 87.3h0M602.7 52.8h0M414.2 116.7h0M427.2 114.4h0M450.1 108.4h0M379.3 121.6h0M555.8 70.3h0M396 119.7h0M437.4 110.5h0M605.2 50.4h0M468.8 100.6h0M424.8 113.5h0M400 117.5h0M564.7 57.8h0M431.6 114.1h0M537.5 71.2h0M515.1 86.5h0M413.3 118.1h0M579.9 61.5h0M526.1 81.2h0M530.1 77.2h0M614.9 52.6h0M554.3 66.4h0M422.3 117.5h0M479.4 95.4h0M588.1 67.2h0M467 101.1h0M455.3 105.4h0M583 59h0M382.6 120.3h0M526.2 80.9h0M594.9 43.6h0M565.4 64.2h0M415.3 115.9h0M585.8 72.4h0M398.2 121.6h0M538.7 74h0M548.8 68.5h0M466.6 101.2h0M457.4 104.7h0M388.1 121.6h0M460.9 105.6h0M459.7 106.5h0M393.6 119.8h0M591.4 55.4h0M617.7 56.6h0M585.2 52h0M529.4 72h0M410.9 118.5h0M388.1 119.8h0M529.1 73.9h0M559.2 64.7h0M383.9 121.8h0M615.1 59.7h0M415.1 116h0M531.4 80h0M383.1 120.9h0M408.4 117.5h0M452.2 106.4h0M579.8 64.5h0M494.4 91.3h0M611.8 60.3h0M447.7 107.8h0M520.7 78.5h0M599.6 56.6h0M564.3 64.2h0M495 89.9h0M492.5 93.1h0M597.6 62.3h0M446.4 111h0M528 73.1h0M447.4 109.3h0M530.9 74.1h0M540.6 71.9h0M462 106.3h0M378.9 121.7h0M476 98.8h0M467.1 102.1h0M461.7 105h0M384.6 119.3h0M382.7 119.4h0M533.3 74.2h0M617.3 50h0M490 94.5h0M540 71.4h0M448.3 110.1h0M548.9 67.6h0M593.5 64.7h0M437.3 111h0M486.1 93.3h0M611.4 62.5h0M433.2 115.2h0M420 116.3h0M612.4 53.9h0M579.2 60.7h0M533.3 71.6h0M457.5 105.8h0M477.3 98.3h0M420.1 114.7h0M566.6 64.3h0M552.9 65.1h0M613.4 64.4h0M610.2 43.5h0M486.9 96.1h0M548.6 78h0M441.1 109.7h0M418.4 115.6h0M604.2 43.7h0M614.3 60.7h0M514.3 83.2h0M399.9 119.8h0M574.4 71.2h0M578 58.8h0M411.3 117.4h0M422.3 115.1h0M500 87.2h0M396.8 117.7h0M380.2 123.3h0M549.1 74.8h0M582.3 64.5h0M570.1 74.2h0M492.4 93.5h0M423.3 116.2h0M585.7 56.7h0M598 65.5h0M437 111.3h0M447.7 108.8h0M387.7 120.3h0M392.6 117.5h0M518.4 86.6h0M547.2 80h0M593.5 58h0M392.1 120.4h0M424.5 114.5h0M525.1 82.1h0M388.1 119.9h0M542.3 72.7h0M524.9 76.9h0M566.2 52.5h0M581.7 49.7h0M512.7 86.6h0M439.6 110.2h0M597.4 60.6h0M464.3 103.3h0M603.9 48.2h0M451.9 108.1h0M415.1 116.8h0M479.2 96.3h0M400.4 117.8h0M412.6 117.4h0M607.5 66.7h0M493.3 91.9h0M512.2 81h0M394.2 117.5h0M435.5 111.9h0M482.5 95.4h0M393.3 119.9h0M459.4 103.7h0M618.3 66.9h0M493.9 90.4h0M493.1 89.4h0M547.5 75.9h0M418.3 118.5h0M408.5 116.4h0M510.4 84.7h0M521.5 81.5h0M469.3 103.5h0M517.3 83.3h0M567.9 59.2h0M395.8 118.8h0M617.9 45h0M475.8 97.5h0M433.1 112.6h0M456.3 107.1h0M396 120.7h0M412.1 118.3h0M618.5 48.2h0M542.1 74.9h0M603.1 57.4h0M491.5 90.4h0M512.7 83.2h0M442.7 111h0M546.7 62.2h0M431.6 114h0M466.4 101.3h0M496.2 93.5h0M505.1 87.4h0M588.1 61.8h0M511.2 79.9h0M474.4 99.5h0M460.7 104.4h0M471.3 100.7h0M450.2 108.5h0M429.3 114.4h0M428.8 113.8h0M530.3 78.2h0M598.2 53.1h0M422.3 115.7h0M617.9 42.2h0M598.8 54.3h0M537 71.7h0M471.2 102.8h0M497.7 88.2h0M587.3 70.9h0M615.7 60.9h0M436.5 113.6h0M513.4 86.9h0M556 73h0M528.9 84.4h0M465.7 104.6h0M443.1 110h0M534.3 84.5h0M558 69.8h0M498 88.6h0M428 114.7h0M430.7 114.1h0M393.2 120.1h0M434.7 113.4h0M547.2 64.2h0M451.8 107.5h0M414.2 117.4h0M562.7 59.6h0M411.9 115.2h0M601.1 54h0M470.8 102.4h0M460.5 103.7h0M498.8 89.4h0M442 110h0M420.7 115.1h0M556.9 67.3h0M526.6 72.5h0M492.4 93.7h0M436.4 111.1h0M581.2 55.6h0M450.9 107.6h0M544.8 79.9h0M487.2 91.7h0M527.2 69.3h0M432.4 113h0M453.7 107.6h0M397.2 117.2h0M425.1 114.9h0M436.2 112.5h0M560.7 63.7h0M420.3 115.9h0M613.1 58.8h0M599.8 50.5h0M535.1 67.8h0M550.2 77.8h0M396.1 119.7h0M446.6 111.3h0M525.2 71.7h0M451.9 107.9h0M514.9 86.2h0M400 121.2h0M598.1 66h0M391.3 120.6h0M581.9 55.3h0M594.2 62.7h0M382.3 119.2h0M452.7 108.5h0M484.2 95.6h0M420.4 117.1h0M463.7 103.4h0M528.5 79.4h0M543.1 75.6h0M386.8 121.4h0M533.1 73h0M432.2 112.2h0M553.3 72.2h0M501.4 85.8h0M509.5 82.2h0M418.1 118.7h0M430.6 114.9h0M510.9 85.4h0M423.8 114.5h0M482.4 96.9h0M572.8 63.6h0M451.3 107.6h0M611.1 49.7h0M492.2 93.7h0M553.1 73.5h0M519.8 86.8h0M612.9 57.9h0M587.3 52.1h0M492 94.6h0M549.9 69.2h0M518.7 80.2h0M460.8 105h0M401.6 119.5h0M491.3 92.6h0M494.1 91.8h0M514 86.7h0M575 64h0M563.9 75.9h0M448.7 108.3h0M413.7 118.5h0M480.7 96.8h0M412.2 118.6h0M478.5 98.1h0M489.1 94.2h0M608.2 61.9h0M558.9 63.8h0M397.3 117.2h0M465.1 102.9h0M615.3 58.1h0M581.7 63.8h0M446.1 111h0M614.6 54.5h0M522.8 79.5h0M525.1 83.1h0M503.6 89.3h0M507.4 86.7h0M445 111.5h0M554.5 73.9h0M619 73.3h0M514.4 78.3h0M524 76.5h0M579.1 62.9h0M574.2 70.2h0M448.2 110.4h0M538.8 82.9h0M478.1 97.1h0M550.3 68h0M442.5 111.4h0M493.5 90.6h0M387.6 120.4h0M531.8 76.6h0M544.2 77.1h0M398.6 121.1h0M608.7 57.9h0M482.3 97.1h0M549.9 68.5h0M478 97.3h0M554.4 62.4h0M606.2 54.7h0M443.8 109.6h0M477.2 97.8h0M429.9 114.1h0M603.7 45.6h0M519.5 77.4h0M390.7 122.1h0M458.5 104.6h0M606.7 60.7h0M541.9 75.3h0M489.4 93.9h0M446.3 107.9h0M516 88.9h0M586 48.2h0M530.7 85h0M430.8 113.3h0M415.3 117.8h0M480.8 98.8h0M539.8 71.1h0M525.7 76.9h0M602.1 60.6h0M381.3 119.8h0M555.2 65.3h0M610.4 58.1h0M494.3 92.3h0M445.2 110h0M583.6 69.5h0M402.5 117.8h0M617.7 56.6h0M425.5 114.6h0M538.1 80.8h0M433 111.2h0M520.2 85.4h0M587.2 65.4h0M482.6 96.4h0M557.9 65.7h0M449.1 109.6h0M589.7 60.6h0M434.8 113.6h0M393.8 119.6h0M515.9 86.9h0M476.5 99h0M614.1 49h0M440.6 111.1h0M562.7 67.6h0M470.6 100.5h0M407.8 117.1h0M523.7 74.1h0M471.1 100.8h0M394.5 119.3h0M434 112.3h0M576.3 51.7h0M448.3 107.5h0M483.5 96h0M456.8 106.6h0M614.5 63.9h0M404.2 118.3h0M558.5 67.1h0M590.7 64.1h0M473.9 99.8h0M512.7 81.4h0M596.1 56.9h0M482.3 98h0M493 92.7h0M536.9 76.1h0M585.9 71.7h0M506 85.9h0M516.6 85.2h0M485.6 95.9h0M484.3 95.4h0M440.2 111.1h0M571.4 66h0M524.8 76.2h0M603.8 58.1h0M538.3 65.8h0M445.2 110.1h0M444.8 111.1h0M514.1 85.3h0M601.6 46.1h0M398.6 117.6h0M506.9 85.4h0M603.1 57.8h0M571.3 64h0M464.9 105.3h0M519.3 74.6h0M598.4 50.5h0M488.8 95.2h0M482.6 95.9h0M415.7 114.1h0M479.3 98.2h0M551 72.6h0M378.2 118.6h0M611.4 61.5h0M491.7 94h0M616.1 49.3h0M531.6 78h0M493.1 93.9h0M603.2 55.5h0M406.5 118.7h0M615.9 48.8h0M465.4 101.1h0M492.1 92.1h0M394.6 121.2h0M418.1 118.7h0M498.3 90.1h0M551.2 69.6h0M479.4 97.1h0M618.4 48.4h0M530.1 85.4h0M604.4 72h0M389 119.2h0M484.9 94.4h0M427.2 114.8h0M575.6 65.9h0M449.5 107.4h0M433.1 114.2h0M386.1 118.4h0M504.1 89.9h0M488.7 94.8h0M573.1 53h0M529.5 81.4h0M439.9 108.8h0M463.6 103.2h0M621 61h0M406.5 117.2h0M380.4 122.3h0M507.6 87.2h0M590.9 54.4h0M548.3 71.8h0M613.7 57.9h0M525.4 72.2h0M414.8 116.5h0M379.3 122.5h0M420.5 116.2h0M477.4 99.5h0M484.2 97.3h0M593 62.9h0M447.1 109.2h0M601.8 55.9h0M382.7 121.6h0M535 77.2h0M498 88.7h0M520.6 76.4h0M565 67.4h0M425.8 116h0M567.4 51.7h0M431.8 113.9h0M390.9 119.3h0M467.5 100.9h0M562.7 55.6h0M462.3 103.8h0M504.2 86.9h0M398.4 120.9h0M567.8 60.3h0M400.8 120.1h0M504.8 89.1h0M504 87.3h0M621.4 54.4h0M471.2 102.2h0M471.5 100.3h0M408.8 118h0M561.6 65.5h0M493 91h0M600.9 57h0M490.9 95h0M435.9 113.3h0M423.2 115.9h0M525.1 77.1h0M583.2 66.9h0M572.4 51h0M541.5 80.7h0M618.2 55.3h0M610.8 53.5h0M479.2 97.6h0M408.1 120.6h0M415.5 116.6h0M447 109h0M397.2 120.1h0M498 91.3h0M537.8 71.5h0M471.7 100h0M579.2 62.2h0M601.7 70.9h0M399 118.4h0M522.7 80h0M556.1 72.2h0M532.3 75.6h0M596.1 63.7h0M408.7 118.3h0M555.7 74.9h0M389.8 119.6h0M522.2 81.5h0M496.7 88.3h0M494.6 92.3h0M523.1 76.4h0M548.6 70.3h0M382.1 120.5h0M543.8 76.7h0M398.6 116.6h0M456 106.6h0M614.3 62.5h0M576 74.9h0M489.2 93.5h0M418.1 116.7h0M421.1 115.5h0M596.2 71.3h0M477.7 95.9h0M396.9 119.4h0M493.7 94.7h0M475.1 100.1h0M505.8 89.4h0M507.5 88.9h0M555.2 70.4h0M492.7 93.8h0M479.1 98.1h0M468.8 100h0M478.1 98.9h0M581.4 64h0M496.5 89.9h0M515.6 81.3h0M485.9 93.3h0M422.6 114.5h0M397.4 121.7h0M405.8 119.4h0M446.4 107.9h0M565.4 53h0M517.6 77.3h0M464.4 103.7h0M415.4 118.1h0M402.1 118.4h0M415.6 117.1h0M431.6 115.3h0M526.5 74.3h0M552.2 77.9h0M451.7 107.1h0M502.3 89.9h0M580.2 57.9h0M557.9 65.5h0M466.6 100.9h0M566.5 67.8h0M521 76.5h0M484.3 96.4h0M536.4 73.4h0M501.7 87.5h0M401.3 117.5h0M487.7 96.4h0M488.9 96.3h0M379.8 118.4h0M612.7 55.2h0M396.7 119.8h0M389.5 119.4h0M448.5 108h0M516 87h0M413.2 118.1h0M515.9 76.4h0M386.4 118.7h0M569 68.8h0M565.9 72.3h0M610.6 56.9h0M420.5 118.1h0M581 52.5h0M466.6 101.9h0M430.5 115.9h0M516.3 79.8h0M490.4 91.9h0M483.1 96.2h0M427 115.3h0M496 90.1h0M534.3 75.1h0M544.5 68.7h0M605.3 60h0M600 64h0M484.5 94.1h0M537.7 75.3h0M451.9 107.2h0M584 65.6h0M473.2 98.2h0M597.5 66.2h0M470.8 101.6h0M621 65.9h0M493.7 92.4h0M452.9 107h0M497.4 91.2h0M592.8 59.4h0M574.5 53.4h0M445.9 109.1h0M552.6 76.2h0M380.3 122.6h0M581.8 55.2h0M506.5 90.6h0M426.8 113.9h0M582.8 50.1h0M531.5 72.6h0M601.7 60.2h0M410.5 117.9h0M454.6 107.6h0M585.1 63.1h0M419 116.4h0M497.5 88.7h0M499.2 90.9h0M419 114.5h0M392.2 120h0M606.6 56.9h0M555 69.7h0M610.7 51h0M586.1 72.8h0M567.2 67.4h0M605.3 48.8h0M441.9 109.4h0M494.8 90.7h0M389.2 120h0M581.1 63.5h0M451.5 107.3h0M503.1 89.7h0M542.7 69.4h0M387.3 120.3h0M509.1 89h0M614.3 63h0M500.2 90.7h0M544.3 69h0M458.9 104.9h0M385.6 120.7h0M420.6 117.5h0M527.4 73.9h0M581.9 68h0M602.1 53.5h0M492.2 92.8h0M396.1 118.2h0M458 107.5h0M426.8 114.8h0M378.3 119.3h0M470.5 101h0M535.5 76.9h0M452.4 106.1h0M393.7 120.4h0M501.5 87.7h0M459.9 104.4h0M584.2 61.8h0M607.6 66.2h0M392.5 118.5h0M527.7 77.4h0M539.5 69.1h0M379.9 119.9h0M429.3 112.3h0M554.6 74.4h0M420.8 118.6h0M423.4 116.2h0M404.6 118.1h0M540.8 80.2h0M534.6 73.5h0M539.9 73.4h0M406.1 118.1h0M538.3 78.3h0M410.2 116.5h0M550.1 61h0M435 113h0M507.7 89h0M509 83.3h0M432.9 112.1h0M604.8 56.1h0M475.9 99.6h0M382.3 120.9h0M581.4 66.6h0M572.9 62.6h0M414.5 115.7h0M407.6 119.4h0M400.8 120.3h0M466.1 103h0M554.4 65.8h0M517 80.4h0M513.9 82.6h0M515.2 83.8h0M435.9 112.2h0M506.9 84.6h0M578.1 56.5h0M552 62.6h0M476.2 99h0M410.6 117.2h0M378.8 119.2h0M547.2 77.6h0M567.2 64.7h0M408 118.5h0M410.9 117.8h0M419.4 113.4h0M537.3 81.8h0M602.3 49.5h0M412.8 119.1h0M401.5 120.4h0M487.6 94.3h0M594.8 57.4h0M499 89.2h0M406.4 115.6h0M567.2 54h0M519.8 77.4h0M608.8 68.9h0M512.7 86.1h0M491.7 92h0M448.9 108.3h0M380.9 120h0M423.2 114.7h0M394.3 120h0M550.3 72.6h0M424.9 114.2h0M504.5 88.2h0M455.9 108.1h0M561.3 63.9h0M550.5 66.2h0M411.1 115.5h0M435.2 114.6h0M472.2 100.6h0M580.3 55.8h0M408.1 119.8h0M547.3 70.8h0M480.7 98.7h0M418 115.2h0M558.3 64.4h0M529.2 80.5h0M570.3 63.4h0M446.1 108.1h0M563.9 66.2h0M467.3 103h0M546 73h0M418 118.1h0M613.3 52.3h0M592.1 47.8h0M422.2 116.7h0M472.6 100h0M384 118h0M548.8 79.5h0M490.6 94.5h0M610.6 68.8h0M502.5 90.3h0M404.9 119.8h0M551.5 69.4h0M425.7 115.8h0M563.7 63h0M609.3 57.8h0M510.5 83.7h0M439 112.1h0M552.6 67.7h0M437 114.1h0M587.1 63.2h0M410 116.7h0M534.4 74.5h0M396.2 117.7h0M409.3 116.8h0M529.1 77.6h0M415.6 115.4h0M618.7 56.8h0M600.6 46.8h0M509.8 88.1h0M566.3 71h0M602.8 50.8h0M485.4 94.6h0M432.8 114.3h0M419.3 116.5h0M562.4 75.7h0M420.2 117.9h0M458.7 104.8h0M512.8 87.5h0M465.2 104.7h0M492.4 93.3h0M425.1 114.8h0M407.4 120.4h0M416.2 115.5h0M455.8 107.1h0M487.1 92.1h0M516.5 82.5h0M573.6 56.2h0M515 79.5h0M607.2 56.9h0M538.3 81h0M610.7 55.4h0M594.8 70.5h0M572.8 65.4h0M490.2 92.8h0M419.6 115.7h0M590.6 60.6h0M511.9 77.8h0M540.4 74.6h0M592.3 65.6h0M568.3 66.1h0M594.4 70h0M509.9 85h0M515.9 79.7h0M533.3 80.6h0M474 97.6h0M590.8 59.6h0M430.9 113.9h0M551.2 63.3h0M577.1 54.6h0M578.8 52.1h0M418.1 118.8h0M474.7 99.6h0M522.6 74.3h0M535.1 75.3h0M416.1 118.2h0M443.6 111.9h0M573.6 54.8h0M380.6 120.3h0M588.7 65h0M407.1 119.6h0M581.8 62.6h0M428.2 111.8h0M512.7 79.8h0M564.6 57.8h0M469.7 100.7h0M474 101.4h0M595.8 56.7h0M401.2 118.7h0M595.3 55h0M432.9 115.5h0M616.7 61.4h0M409.1 117.4h0M381 119h0M441.1 110.5h0M577.6 62.8h0M574 66.5h0M557.7 60.9h0M597.3 54.3h0M445.5 110.3h0M443.4 109.6h0M564.4 70.7h0M496.2 89.7h0M448.1 109.3h0M451.8 106.3h0M436.1 112.7h0M455.5 106.3h0M547.8 70.3h0M520.7 79.8h0M566 61h0M538.9 62.4h0M417.8 117.1h0M396.3 117h0M409.1 117.1h0M562.6 73.7h0M442.1 111.2h0M483.4 96.3h0M617.6 61.2h0M429.5 115.4h0M578.4 63.2h0M520.5 86.6h0M436.5 109.9h0M547.3 67.6h0M427 113.3h0M573 70.6h0M459.6 106.6h0M560.6 74.3h0M569.2 59.6h0M390.9 121.1h0M439.7 110h0M407 118.5h0M585.2 69.2h0M409.9 118.3h0M521.4 88.7h0M507.3 88.8h0M399.8 116.8h0M426.3 115.3h0M558.5 61.7h0M468.8 102h0M439.7 111.7h0M395.1 121.3h0M516.4 84.2h0M551.1 66.4h0M537.4 72.4h0M605.1 71.1h0M472.9 100.5h0M544.2 72.2h0M549.6 71h0M579.6 60.5h0M518.8 88.7h0M609 68.4h0M600.1 59.1h0M382.9 120.7h0M453.1 107.9h0M458 106.1h0M483.9 94.7h0M603.1 60.8h0M579.1 63h0M450.8 110h0M561 66.6h0M453.2 107.5h0M558.1 59.1h0M485.3 95.6h0M484.2 97.8h0M615.3 62.6h0M585.6 55.8h0M568.7 61.2h0M433 113.1h0M610 54.5h0M566.9 63.1h0M381.2 120.5h0M387.1 119.6h0M554.7 64.4h0M546.8 73.7h0M486.4 94.3h0M484 95.2h0M569.4 61.8h0M474.4 97.7h0M445.8 110.1h0M593.9 56.8h0M483.7 93.9h0M476.8 100.5h0M447.9 107.6h0M377.5 119.5h0M522.8 79.3h0M407.7 117.6h0M515.8 82.5h0M606.8 52.5h0M556 71.9h0M407.2 116.9h0M468.3 101.7h0M559.4 65.8h0M492.6 91h0M380.9 119.1h0M465.7 104.5h0M481.3 96.1h0M517.4 85.1h0M620.3 56.2h0M583.8 62.3h0M481.8 95.2h0M426.3 113.3h0M592.8 50.3h0M593.6 61.4h0M531.2 76.3h0M489.4 91.5h0M603 56.1h0M491.7 95.3h0M473.6 98.6h0M507.3 89h0M470.5 102.9h0M534.9 75.8h0M470.4 102.1h0M436.8 110h0M417.1 116.1h0M579.4 72.1h0M403 119.6h0M439.5 109.9h0M507.7 85h0M416.7 116.9h0M463.1 105.2h0M525.7 81.4h0M396.8 120.9h0M537 71.9h0M387 121.9h0M537.1 70.8h0M426.8 116.7h0M517.9 78.4h0M550.5 67h0M509.2 84.6h0M567.7 66.3h0M588.8 69.3h0M401.9 117.9h0M603.4 51.9h0M613.2 53.8h0M557.5 69.4h0M611.9 50.9h0M475 101.2h0M554.8 77.8h0M550.8 67.8h0M455.8 105.6h0M514.3 82h0M412.9 117.3h0M546 78.7h0M434.5 113.5h0M547.2 60.5h0M579.1 69.7h0M549.8 76.1h0M407.9 119.5h0M517.7 88.6h0M422 115.1h0M478.7 96.8h0M585.9 55.7h0M471.6 100.3h0M428.6 113.1h0M538.5 70.6h0M616.2 38.7h0M591.1 58.4h0M505.1 87h0M552.5 76.5h0M466.3 101.5h0M558.3 63.7h0M532.3 77.8h0M532.3 79.7h0M438.5 112.8h0M433.6 111.8h0M452 107.6h0M517.7 77.5h0M513 86h0M465.6 104.4h0M595.9 48.2h0M414.1 118.4h0M492.3 93.5h0M449.5 109.2h0M594.8 51.5h0M455.3 105.3h0M610.1 54h0M392.5 119.4h0M572 54.7h0M530.6 72.7h0M464.3 103.1h0M400.3 120.5h0M488.3 94.8h0M406.9 117.9h0M611.7 54.5h0M452 106.3h0M465.3 102.7h0M399 116.8h0M445.5 110.8h0M432.3 112.9h0M378.4 119.6h0M509.8 85.1h0M552.7 71.1h0M483.9 95.2h0M442.6 109.7h0M405.1 118h0M613.7 67.1h0M526.5 87.6h0M528.3 85h0M472.1 101.2h0M424.3 114.1h0M559.3 61.7h0M382.7 122.3h0M498.3 89.2h0M593.9 55.8h0M420.9 115.9h0M420.5 115.6h0M543.2 82.2h0M416.9 115.7h0M398.8 119.9h0M452.2 107.7h0M522 87.5h0M473.3 101.4h0M452.3 107.3h0M559.5 64.6h0M576.9 57.5h0M615.7 50.3h0M603 47.5h0M475.2 99h0M437.5 111.7h0M396.4 119h0M413.9 116.3h0M480.6 98.2h0M439.7 113h0M531.1 67.1h0M391.4 118.8h0M405.5 117.8h0M611.5 67.5h0M417.9 116.8h0M400.9 119h0M541.2 73.6h0M454.4 105.8h0M539.7 71.3h0M522.9 82.2h0M392.8 122h0M451.1 107.3h0M431.6 113.8h0M540.3 68.8h0M561.3 74.2h0M552.2 65.3h0M612.3 46.4h0M527.5 75h0M530.9 76.6h0M414.7 117.9h0M545.1 60.9h0M593.4 60.5h0M501.4 87.6h0M535.8 73.8h0M545.4 62.1h0M604.3 52.6h0M476.7 99.2h0M415.5 117.1h0M519.1 73.8h0M395.9 120.1h0M427.4 113.3h0M433.8 110.9h0M513.2 79.9h0M603.8 50.7h0M457.7 105.6h0M470.2 102.1h0M405.9 118.1h0M539.1 80.7h0M582.5 66.6h0M592.5 53.9h0M482.6 97.6h0M445.9 108.6h0M397.2 120h0M465.1 104h0M409.5 117.1h0M471.1 99.9h0M605.2 62.2h0M448.6 108h0M580.7 53.3h0M573.6 62.8h0M410 118h0M410.2 116.2h0M603.5 51h0M512.8 82h0M487.7 94.3h0M416.9 116.4h0M585.8 58.1h0M563.9 74.6h0M418.6 116.8h0M598.6 58.1h0M542.1 76.6h0M572.7 62.7h0M607.2 46.3h0M429.3 114.2h0M478.5 97.2h0M500.1 86.8h0M435.7 111.9h0M453.1 107.3h0M586.9 53.9h0M383.7 119.6h0M453.8 107h0M537.3 71.5h0M606.4 52.9h0M432.5 112.1h0M436.3 112.2h0M400 119.5h0M521.1 80.9h0M435.4 112.5h0M520.5 85.6h0M411.6 117h0M392.3 119.2h0M442.6 109.7h0M418.9 117.7h0M535.5 73h0M457 107.5h0M540.4 71.2h0M484.3 96.7h0M434.2 113.6h0M482.3 97.3h0M488.2 94.5h0M569.7 56.4h0M414.6 118h0M515.2 80.5h0M380.3 122.1h0M566.9 63.3h0M450 108.2h0M588.3 65.3h0M547.9 63.7h0M558.8 72.6h0M383.1 121.1h0M605.3 55.4h0M542.2 75.1h0M397.9 119.8h0M567.8 61.5h0M406.4 116.1h0M517.1 83.7h0M415.7 118h0M585.3 72.7h0M553.9 75.7h0M559.3 74.6h0M448.2 111h0M459.1 106.3h0M522.2 85.4h0M418.5 117.7h0M482 98.2h0M586.3 56h0M382.6 121h0M617.2 62.7h0M408.3 118.4h0M613.4 57h0M543.8 66.5h0M571.2 64.4h0M483 96.1h0M598.8 49.1h0M611.7 61.2h0M472.5 100.1h0M463.5 102.5h0M379.7 121.1h0M398 118.7h0M513.3 85.9h0M448.1 107.4h0M398.9 118.4h0M551.6 68h0M530.9 68.8h0M418.9 114.3h0M440.4 110.7h0M466.6 100.9h0M482.1 97.5h0M607 56.7h0M536.4 66.3h0M536.4 71.3h0M522 85.4h0M544.4 75.6h0M526.2 83.3h0M620.3 62.4h0M395.7 119.5h0M412.3 117.8h0M480.1 96.7h0M516.9 80.7h0M391.9 119.2h0M544.7 71.8h0M566.9 63.6h0M499.9 85.9h0M480.5 96.4h0M617.2 42.3h0M611.4 52.3h0M396.5 119h0M448.6 109.7h0M538.3 71.7h0M605.5 56.1h0M502.8 90.8h0M500 90.9h0M426.3 114.5h0M518.5 81.6h0M433.2 113.5h0M565.4 72.3h0M496.6 91.4h0M608.5 51.5h0M481.3 95.9h0M429.6 113.8h0M607.5 62.7h0M385.3 122.3h0M470.8 100.3h0M413 117.1h0M539.9 74.4h0M546.5 70.4h0M478.8 97.6h0M472.4 100.6h0M469.1 102.3h0M593.3 57.7h0M587.2 51.7h0M472.2 100.2h0M556.2 63.6h0M460.8 104.5h0M419 116.5h0M599.4 68h0M584.4 66h0M487.8 92.1h0M513.6 89.5h0M431.3 114.1h0M480.9 96.6h0M597.5 60.6h0M427.8 116.4h0M536.8 82.6h0M601.8 59.1h0M434.7 111.6h0M570.3 67.7h0M537.9 73.2h0M412.2 115.9h0M563.5 63.7h0M487.9 92.6h0M378.6 121.1h0M619.8 65.9h0M487.6 92.4h0M487.6 91.7h0M467 102.6h0M563.4 63.4h0M434.2 113.7h0M619.7 56.4h0M478.3 98.8h0M512.6 86.5h0M575.1 51.8h0M574.8 74.5h0M469.5 102.7h0M536.4 78.5h0M520.3 83.7h0M569.5 62.8h0M408.5 118.1h0M484.1 97.5h0M616.5 59.7h0M463.9 105.3h0M401.3 119.5h0M494.3 90.1h0M550.3 68.9h0M516.4 86.1h0M577.2 58.1h0M531.4 67.1h0M382.4 121.8h0M472 100.1h0M576.7 63.6h0M620.1 63.1h0M523.8 71.8h0M572.6 69.6h0M452.8 108.1h0M482.5 96.4h0M388.7 119.1h0M432.4 113.2h0M574.4 64.8h0M619.7 56.9h0M387 120.1h0M380.6 118.4h0M559 69.6h0M589.7 70.1h0M482.4 98.1h0M503.9 88.1h0M390.5 120.1h0M561.4 59.2h0M469.6 99.8h0M614.1 56h0M430.5 113.3h0M547.8 71h0M445.4 109h0M426.7 115.1h0M605 48.9h0M430.2 113.3h0M577.3 67.8h0M531.8 82.1h0M437.4 111.7h0M543.8 78.7h0M455.4 107.6h0M449.1 108.8h0M453.1 107.3h0M512 85.5h0M457.3 105.2h0M506.4 87.8h0M508.3 86.2h0M389.5 120.5h0M417.4 116.7h0M574.2 53.8h0M536.8 80.3h0M612.1 59.9h0M399.2 119.7h0M446.6 110.2h0M547.2 65.5h0M497.4 90.3h0M473.2 99.5h0M515.2 81.8h0M453.8 106.9h0M470.8 101.1h0M556.9 64.7h0M502.5 87.3h0M605.1 53.1h0M400.5 117.7h0M521.1 83.5h0M492.3 92.9h0M445.4 109.4h0M519.8 80.7h0M615 47.7h0M614.1 42.8h0M454 106.9h0M604.9 61.3h0M406.9 118.8h0M450.8 107.4h0M574.2 64.9h0M572.8 58.5h0M484.6 96.2h0M617 51.9h0M533.5 81.5h0M546.2 82h0M433.3 112.9h0M414 116.2h0M387.6 121.8h0M537.8 65.1h0M497.8 92.7h0M600.5 58.6h0M386.6 120.1h0M520.6 83.4h0M430.2 114.4h0M471 100.5h0M514.7 80.3h0M522.1 85.4h0M514.6 78.8h0M480.5 97.5h0M569.8 66.4h0M491.5 90.9h0M557.3 61.2h0M582 66.8h0M440.4 112.1h0M601.6 62.8h0M476.6 97.7h0M542.2 76.2h0M463.1 104h0M396.5 120.6h0M612.5 49.3h0M460.6 104.5h0M484.3 95.2h0M613.1 62.5h0M493.8 92.3h0M594.8 59.9h0M477.7 99.9h0M487.1 93.3h0M468.9 103.2h0M478.6 95.9h0M523 82.8h0M558.1 54.4h0M463.1 104.2h0M556.3 79h0M510.8 85h0M538.2 69.8h0M478.1 98.1h0M416.3 114.8h0M540.6 79h0M560.4 65.6h0M506.6 90h0M484 95.6h0M401.3 119.6h0M465.2 102.3h0M544.9 70.5h0M498 93.3h0M523.9 84.4h0M504.8 88.9h0M621.1 57.8h0M553.3 70h0M542.4 75.9h0M406.7 120.8h0"/>
<polyline points="377.5,120.7 378.9,120.7 380.2,120.7 381.6,120.7 382.9,120.6 384.3,120.6 385.6,120.5 387,120.5 388.3,120.4 389.7,120.3 391.1,120.2 392.4,120.1 393.8,119.9 395.1,119.8 396.5,119.6 397.8,119.5 399.2,119.3 400.5,119.1 401.9,118.9 403.3,118.7 404.6,118.5 406,118.3 407.3,118 408.7,117.8 410,117.5 411.4,117.2 412.7,116.9 414.1,116.6 415.5,116.3 416.8,116 418.2,115.7 419.5,115.3 420.9,115 422.2,114.6 423.6,114.2 424.9,113.9 426.3,113.5 427.7,113.1 429,112.6 430.4,112.2 431.7,111.8 433.1,111.3 434.4,110.8 435.8,110.4 437.1,109.9 438.5,109.4 439.9,108.9 441.2,108.3 442.6,107.8 443.9,107.3 445.3,106.7 446.6,106.2 448,105.6 449.3,105 450.7,104.4 452.1,103.8 453.4,103.2 454.8,102.6 456.1,102 457.5,101.3 458.8,100.7 460.2,100 461.5,99.4 462.9,98.7 464.3,98 465.6,97.3 467,96.6 468.3,95.9 469.7,95.2 471,94.5 472.4,93.7 473.7,93 475.1,92.3 476.5,91.5 477.8,90.8 479.2,90 480.5,89.3 481.9,88.5 483.2,87.7 484.6,86.9 485.9,86.1 487.3,85.4 488.7,84.6 490,83.8 491.4,83 492.7,82.2 494.1,81.4 495.4,80.6 496.8,79.8 498.1,79 499.5,78.1 500.9,77.3 502.2,76.5 503.6,75.7 504.9,74.9 506.3,74.1 507.6,73.3 509,72.4 510.3,71.6 511.7,70.8 513.1,70 514.4,69.2 515.8,68.4 517.1,67.6 518.5,66.8 519.8,66 521.2,65.2 522.5,64.4 523.9,63.7 525.3,62.9 526.6,62.1 528,61.3 529.3,60.6 530.7,59.8 532,59.1 533.4,58.3 534.7,57.6 536.1,56.8 537.5,56.1 538.8,55.4 540.2,54.7 541.5,54 542.9,53.3 544.2,52.6 545.6,51.9 546.9,51.3 548.3,50.6 549.7,49.9 551,49.3 552.4,48.7 553.7,48 555.1,47.4 556.4,46.8 557.8,46.2 559.1,45.6 560.5,45.1 561.9,44.5 563.2,44 564.6,43.4 565.9,42.9 567.3,42.4 568.6,41.9 570,41.4 571.3,40.9 572.7,40.4 574.1,40 575.4,39.5 576.8,39.1 578.1,38.7 579.5,38.2 580.8,37.8 582.2,37.5 583.5,37.1 584.9,36.7 586.3,36.4 587.6,36 589,35.7 590.3,35.4 591.7,35.1 593,34.8 594.4,34.6 595.7,34.3 597.1,34 598.5,33.8 599.8,33.6 601.2,33.4 602.5,33.2 603.9,33 605.2,32.8 606.6,32.7 607.9,32.6 609.3,32.4 610.7,32.3 612,32.2 613.4,32.1 614.7,32.1 616.1,32 617.4,31.9 618.8,31.9 620.1,31.9 621.5,31.9" fill="none" stroke="#ff2020" stroke-width="0.95" stroke-dasharray="3.7 2.0"/>
<path class="db" d="M457.9 105.4h0M480 97.7h0M392 119.7h0M572.7 63.6h0M618.5 63h0M415.1 117.2h0M595.1 56.7h0M516.2 83.7h0M515.4 81.7h0M557 72.1h0M482.8 97.1h0M386.6 121.1h0M397 120h0M585.5 56.6h0M581.2 60.3h0M597.6 65.1h0M523.7 82.9h0M585.3 60.7h0M536.7 68.2h0M487.2 95h0M465.3 102h0M488.1 95.1h0M571.5 63.2h0M585 54.4h0M478.9 98.7h0M437.8 111.4h0M517.1 83.8h0M413.5 116.2h0M495.9 90.4h0M562.3 63.9h0M523.1 79.3h0M434.1 114h0M569 63.3h0M588.6 62.5h0M563.5 64.2h0M488.7 94.5h0M525.9 81.4h0M417.4 115.3h0M619.4 52.5h0M511.8 87.9h0M529 80.1h0M418.9 115.9h0M471.1 100.2h0M512.1 84.1h0M574 62.8h0M539 78.9h0M517.8 82.5h0M610.5 62.4h0M406.3 117.2h0M616.5 53.4h0M529.3 77.9h0M475.6 99.4h0M559.3 71.3h0M500.4 88.4h0M459.8 105.1h0M605.7 56.5h0M396 119.7h0M475.5 98.3h0M523.1 80h0M528 72.9h0M605.4 56.6h0M578.6 63.3h0M444.8 110.6h0M615.8 56.1h0M582.7 59.5h0M614.2 51.8h0M588.5 55.8h0M419.6 116.5h0M410.1 117.5h0M469.6 102.6h0M571 58.5h0M393.1 120.5h0M534.5 74.7h0M454.9 107.3h0M590.9 62.9h0M378.2 120.3h0M456.9 106.5h0M613.7 60.1h0M565.8 59.5h0M463.4 102.8h0M545.5 74.6h0M446.6 110.2h0M609 54.1h0M466.2 103.8h0M484.8 94.2h0M427.7 113.7h0M558.3 70h0M504.4 87.5h0M524.6 84.6h0M465.3 102.7h0M533.5 79.8h0M494.4 91.1h0M620.6 64.8h0M482.4 97.7h0M438.1 112.4h0M567.6 69.3h0M443.6 111h0M471.1 100.6h0M558.8 72.5h0M481 96.1h0M494.2 92.2h0M575.2 64.1h0M583.2 58h0M601.7 59.9h0M413 118.1h0M557.5 73.2h0M586.2 68.3h0M530.1 79.2h0M483.3 96.6h0M391.5 120.3h0M488.1 93.6h0M560.8 59h0M500.8 88.2h0M500.5 90.8h0M524.8 80.2h0M562 66.5h0M532 79.5h0M380.9 120.2h0M547.7 71h0M476.1 98.6h0M446.4 109.8h0M544.3 76.9h0M428.2 114.8h0M543.2 72.3h0M609 59.8h0M593.3 59.8h0M533.8 70.4h0M519.4 81.2h0M586 62.2h0M489.4 95.6h0M384.3 120.7h0M440.8 110.7h0M440.3 111.4h0M540.7 70h0M434.2 112.5h0M386.7 119.8h0M504.6 88.6h0M431.6 113.3h0M530.3 75.2h0M398.7 119h0M457.7 105.8h0M446.7 109h0M429 113.7h0M425.7 114.3h0M392.8 120.5h0M554.7 61.2h0M598.3 58.2h0M576.4 70.6h0M547.2 68h0M419.7 117.2h0M558.1 75.1h0M520.1 84.8h0M386.5 120.5h0M587.7 51.7h0M551.3 71.9h0M397.1 119.1h0M543.7 74.8h0M426 113.6h0M514.2 83.9h0M455.8 107.3h0M545.9 77.3h0M505.2 85.5h0M434.8 113.1h0M521.4 79.7h0M387.6 119.4h0M434.2 113.4h0M547.6 69.8h0M382 120.5h0M386.8 121.7h0M576.5 62.5h0M441.4 109.9h0M495.8 90.8h0M503.8 89.9h0M547.4 73.8h0M459.8 105.5h0M535.9 73.6h0M571.8 57.4h0M524.1 75.4h0M460.7 104.1h0M500.9 88.1h0M521.5 83h0M411.2 118.8h0M525.3 73.5h0M563.9 60.8h0M407.9 118.5h0M513.5 83.7h0M573.2 61.1h0M521.5 79.9h0M538.9 74.5h0M480.1 97h0M453.3 108.5h0M595.4 59.5h0M578.6 61.7h0M418.5 115.1h0M459.4 105.9h0M459.5 104.6h0M588.9 57.2h0M385.7 121.7h0M449.7 108.9h0M584.9 59.8h0M415.4 116.6h0M399.7 120.2h0M508 85.5h0M584.1 61.1h0M618.8 59.5h0M618.6 59.7h0M490 93.3h0M615.5 53h0M575.7 69.3h0M403.4 118.9h0M599.7 54.6h0M608 62.5h0M615 54.4h0M444.2 110.6h0M403.9 119.6h0M606.8 52.8h0M466.5 102.1h0M548.9 66.7h0M608 57.5h0M453.9 106.8h0M602.4 61.5h0M460 105.6h0M499.3 90.8h0M421.8 115h0M497.3 91.3h0M592 65.8h0M479.1 98h0M467.6 102.6h0M591 61.1h0M558.4 66.4h0M512.2 84.3h0M460.6 105.2h0M452.2 107.2h0M602.9 56.6h0M504.2 88.9h0M611.7 65.7h0M529.6 82.4h0M473 100h0M535.9 74.8h0M611.2 64h0M537.8 73.1h0M426.7 115.6h0M564.7 62.2h0M416.6 117h0M545.3 71h0M502.8 89.1h0M442.3 109.6h0M606.9 53.4h0M619.3 58.2h0M490.8 92.7h0M548.1 69.9h0M405.2 117.8h0M557.4 64.3h0M548.2 64.8h0M539 76.9h0M554.3 73.6h0M470.3 100.4h0M529.6 79.4h0M582 56.9h0M392 120.2h0M499.6 91.7h0M417.4 117h0M469.1 101.7h0M572.1 69.6h0M443.6 111.1h0M555.5 69.9h0M498.6 90.4h0M593 59.8h0M535.3 81.4h0M485.2 95.1h0M392.2 120.3h0M479.8 98.1h0M569.7 64.4h0M380.3 120.5h0M487.1 93.2h0M518.5 83.8h0M413.7 116.7h0M580.4 64.2h0M565.1 70.9h0M385.6 120.4h0M393.1 119.5h0M499.5 88.7h0M552 75.8h0M542.5 70.1h0M522.8 79.4h0M574.8 57.2h0M442.1 109.7h0M482.8 96.2h0M524.6 78.3h0M517.5 83.1h0M596.2 63.6h0M572.9 55.1h0M558.5 72.5h0M584.5 59.7h0M498.9 88.9h0M450.4 108.3h0M469.1 101.6h0M454.5 107.3h0M546 74.9h0M613 57.8h0M395 119h0M425.6 113.9h0M524.2 79.8h0M530.1 74.5h0M517.7 86.4h0M557.2 63.4h0M554.1 76h0M423.5 115.1h0M441.3 112h0M388.7 121.4h0M433.8 114h0M425.6 114.7h0M524.3 78.7h0M477.5 98.5h0M610.9 62.3h0M616.3 54.9h0M565.8 62.4h0M448 108.5h0M503.4 86.3h0M580.1 61.6h0M517.3 80.6h0M516.3 84.7h0M452 107.5h0M430.6 113.5h0M575.3 56.4h0M377.9 120h0M419.4 116.1h0M503.9 86.2h0M385.8 119.9h0M616.8 64.7h0M407.6 117.1h0M488.3 95.7h0M424.4 115.6h0M431.9 113.7h0M380.6 120.2h0M595.2 58.4h0M420.6 114.9h0M529 83.2h0M552.6 73.2h0M377.7 120.3h0M521.2 84.4h0M467.3 103.5h0M444.9 109.3h0M405.9 119.4h0M393 120.6h0M479.3 97.2h0M613.7 52.9h0M547.6 72.4h0M586.3 58.7h0M614.6 53.6h0M438.8 112.2h0M496.6 90.2h0M613.5 57.1h0M592.9 65.3h0M446.8 109.4h0M610.2 57.3h0M611.7 60.6h0M600.7 58.2h0M541.2 67.9h0M453.6 106.9h0M567.4 69.4h0M534.6 74.1h0M555.3 70.2h0M388.1 120.2h0M491.9 93h0M448.7 108.9h0M597.6 63.4h0M398.8 118h0M474.9 100.1h0M540.3 68.2h0M555.7 68.9h0M445.9 108.9h0M406 118.3h0M577 63.1h0M464.1 102.2h0M450.2 107.6h0M576.8 69.9h0M432.6 113.7h0M384.8 120.7h0M609.5 52h0M526.9 74.1h0M500.5 88.6h0M422.4 114.6h0M393.3 119.5h0M593.1 60.9h0M539.6 80.5h0M474.9 100.7h0M390.9 120.7h0M478.4 99.2h0M380.7 119.6h0M608.4 55.5h0M507 88.6h0M578.5 57.8h0M498.5 92.2h0M586.4 55.3h0M510.2 87.8h0M401.1 119.3h0M394.4 121h0M482.5 97.2h0M513.4 83.6h0M562.2 66.2h0M587.5 57.5h0M537.9 71.8h0M485 95.8h0M381.4 119.8h0M544.2 66.6h0M385.4 119.1h0M458.5 106.2h0M527.8 74.6h0M584 63.9h0M581.6 64.4h0M418.4 117.6h0M530 77h0M546.7 66.8h0M580 56.5h0M442.6 110.8h0M479.4 98h0M403.6 119.3h0M481 98.3h0M502.7 90.9h0M528.8 78.1h0M404.2 118.1h0M519.4 82.5h0M567.3 65.4h0M611.4 57.5h0M411.6 117.8h0M605.5 64.6h0M606.5 53.8h0M515.8 80h0M463.7 103.7h0M571 71.2h0M596.9 56.9h0M396.8 120h0M494.4 93.3h0M471 101.1h0M429 113.9h0M392.8 120.1h0M533.2 73.9h0M407.4 118.6h0M608.8 60.9h0M422.2 115.5h0M476.4 99.5h0M529.1 79.9h0M604.4 51.2h0M538.3 76.5h0M390.1 119.2h0M405.4 118.8h0M606.1 58.7h0M579.1 62.2h0M526.5 72.8h0M523.9 83.9h0M442.6 111.6h0M529.3 76.7h0M514.4 85.8h0M604.9 58h0M477.5 98.3h0M408.6 116.8h0M514 81.9h0M420.1 117.1h0M498.3 90.3h0M458.5 105.6h0M398.3 120.1h0M567.3 61.5h0M491.1 93.9h0M517.2 82.3h0M576.6 60h0M568.9 69.1h0M527.2 74.7h0M443.6 109.2h0M592.1 66.4h0M410.8 117.5h0M518.3 86.3h0M527.3 76.9h0M598.3 61.2h0M599.6 55.4h0M598.4 54.5h0M603.2 54.4h0M527.9 73.6h0M585.9 57.2h0M495.7 92.3h0M537.7 74.2h0M415.1 117.6h0M473.5 98.8h0M591.4 64.4h0M573.3 64h0M436.5 112.2h0M508.5 88.9h0M482.4 97.5h0M567.2 69h0M506.3 86.1h0M593.2 61.9h0M420.3 116.9h0M580.4 64.4h0M548.9 68.8h0M483 96.8h0M469.2 102h0M515.2 81.8h0M585.7 59.8h0M528.3 78.7h0M468.6 101.9h0M575.4 56.8h0M588.9 58.8h0M605.3 56.3h0M468.4 101.9h0M400.4 118.9h0M572.6 69.2h0M573.6 61.3h0M552.8 68.1h0M597.1 56.7h0M503.8 87.3h0M615.7 60.4h0M436.9 112.3h0M520.1 83.7h0M481.8 97.3h0M469.6 102.6h0M538.6 74.6h0M440.3 111.6h0M530 80.7h0M436.6 113.2h0M467.1 101.8h0M391.7 121h0M429 113.9h0M610.3 62.1h0M424.8 115h0M444.2 110h0M394.1 118.8h0M532.5 81.2h0M537.4 70.9h0M453.7 107.3h0M579 59.3h0M396.4 118.4h0M498.6 89.6h0M556.1 75.1h0M499.9 89.5h0M538.7 70.4h0M394.2 119.2h0M402.1 119.6h0M523.7 81.3h0M399.9 118.9h0M560.7 67.7h0M430.5 114.3h0M397.2 119.4h0M588.4 62.8h0M613.7 64.6h0M555.4 67.8h0M542 72.5h0M521.8 80.1h0M540.4 72h0M463.9 102.6h0M568.8 61.1h0M571.5 58.8h0M477.7 99.3h0M391.7 119.7h0M599.4 48.4h0M506.6 88.7h0M443.8 109.8h0M421.8 115.1h0M408.1 119.3h0M602.1 56.8h0M474.7 99.7h0M414.2 117.6h0M395.4 120.8h0M395.6 119.3h0M488.4 93.8h0M538.8 75.4h0M587.8 65.8h0M542 76.7h0M598.2 52.5h0M408.2 117.7h0M498.4 89.5h0M507 85.6h0M551.8 75.9h0M522.7 83.4h0M547.6 69.9h0M560.5 72.7h0M545.2 66.1h0M571.8 62.6h0M556 73h0M391.3 120.3h0M560.1 67.2h0M457.3 106.3h0M384.9 119.8h0M611.8 56.4h0M480.1 97.4h0M605.2 62.6h0M416 117h0M445.7 108.6h0M389.5 119.5h0M409.8 117.4h0M514.2 85.7h0M453.1 107.3h0M457.1 105.9h0M544.1 71.3h0M533.3 77.8h0M483.1 97.5h0M589 64.7h0M503.2 88.8h0M539.4 67h0M393.2 119.4h0M510.1 85.3h0M559 63.9h0M527.4 75.5h0M467.7 102.3h0M504.1 87.6h0M608.7 62.4h0M438.2 112.8h0M607.7 63.1h0M516.4 79.5h0M461.4 104.3h0M380.4 121.8h0M383.6 121.5h0M484.5 95h0M540.4 74.9h0M534.4 76.8h0M605 61h0M584.1 61.2h0M587.7 59.1h0M499 91.1h0M389.8 121.4h0M495.3 89.6h0M389.7 119.9h0M517.1 84.8h0M409.1 116.8h0M522.1 81.6h0M616.9 64.3h0M580.5 58.4h0M422.9 116.6h0M544.8 70.7h0M503.8 90.4h0M581.8 62.4h0M454.5 106.5h0M534.9 73.4h0M445.3 110.3h0M414.8 115.8h0M553.1 64.9h0M388.4 120.3h0M541.1 71.1h0M428.6 113.5h0M620.5 62.2h0M389.9 119h0M508.2 86.2h0M600.7 56.3h0M529.3 78.3h0M594.6 52h0M563.1 67.9h0M593.6 59.5h0M514.2 84.4h0M610.9 58.7h0M538 78.9h0M504.8 89.5h0M525.5 77.4h0M535.6 78.2h0M431.1 113.8h0M584.4 55.7h0M605.6 55.4h0M428.1 114.2h0M489.1 95.2h0M517.8 84.5h0M435.7 112.6h0M501 88.7h0M491.1 94.7h0M384.2 121.8h0M503.8 87.4h0M503 88.3h0M400.8 118.6h0M567.4 64.8h0M498.5 89.2h0M434.2 114.1h0M612.2 53.8h0M618.1 66.3h0M473.6 100.7h0M396.7 118.8h0M533.3 76.9h0M526.1 79.1h0M608.7 50h0M615.7 59.9h0M487.6 94.4h0M600.6 61.1h0M554.2 64.7h0M417.1 115.8h0M428.2 114h0M465.2 103h0M388 120.1h0M401 120.1h0M462.4 104.7h0M506.4 86.6h0M534.7 79.2h0M489 93.6h0M419.6 116.9h0M454.1 107.8h0M570.9 63.3h0M483.2 95.4h0M387.4 120.1h0M414.2 117.6h0M588.5 53.7h0M426.9 114.2h0M493.9 92.2h0M414.5 117.5h0M473 100.9h0M540.5 69.4h0M405.3 119.4h0M476.1 98.2h0M594.8 58.4h0M492.2 94.4h0M537.4 71.3h0M583 65.7h0M611.8 53.3h0M547.3 76h0M615.9 55.1h0M430.3 113.3h0M548.6 72.1h0M603.3 53.5h0M522.7 76.4h0M552.4 70.7h0M524.4 74.3h0M608.4 47.7h0M519.3 84.2h0M475.1 99.7h0M522.6 77.7h0M410 118.6h0M502.4 86h0M463.6 103.3h0M411.7 117.2h0M408.7 118.9h0M469.1 101.2h0M438.2 112.2h0M545.7 72.5h0M617.4 55.4h0M423.9 114.6h0M424.7 115.3h0M456.8 104.9h0M538.5 78.1h0M379.3 120.7h0M486.4 93.7h0M460 104.9h0M397.1 119h0M404.3 117.8h0M503.8 87h0M486.9 94.9h0M523.8 81.9h0M584.5 57.8h0M468.8 101h0M462.2 104.2h0M429.9 114.9h0M492.9 91.5h0M588.9 58.1h0M467.9 102h0M437.2 112.1h0M546.9 74.8h0M618.8 55.5h0M538.9 70.1h0M560.4 62.4h0M609.6 58.5h0M425.6 115h0M516.6 81.7h0M573.9 62.4h0M578.6 53.3h0M459.8 105.4h0M480.9 97.2h0M389.8 119.7h0M560.8 64.9h0M518.2 80.5h0M433.4 112h0M471.8 100.9h0M411.3 117.9h0M599.2 60.9h0M559.8 72.9h0M502.1 89.6h0M430.7 113.7h0M549.4 73.6h0M484.7 94.6h0M476.5 99.1h0M431.6 113.1h0M526.1 79h0M495.2 92.6h0M576.8 60.4h0M552 62.3h0M539.7 68.5h0M406.5 119.7h0M514.4 82.6h0M609.4 50.2h0M484.9 97.1h0M520.5 81.7h0M563.6 61.5h0M411.1 117.7h0M569.8 57.7h0M610.2 49.8h0M589 61.3h0M516.8 85.1h0M441.6 111.8h0M586 52.8h0M426 114.5h0M601.2 50h0M592.8 55.2h0M431.8 112.4h0M500.6 88.2h0M574.4 59.5h0M606.4 63.1h0M566.6 60.4h0M533.9 78.3h0M424.7 114.7h0M434.6 112.1h0M395.4 119.7h0M601.8 62.3h0M439.8 110.6h0M472.2 101.3h0M571 62.6h0M509.7 86.2h0M554.1 70.9h0M523.1 85.1h0M453.7 107h0M430.2 114.6h0M474.3 100.1h0M381.1 121h0M412.7 117.8h0M507.9 86.5h0M486.9 95.6h0M530.4 76.6h0M455.4 106.6h0M489.7 93.1h0M541.9 66.5h0M602.5 52.2h0M455.7 106.4h0M591.8 59.5h0M407 117.6h0M459 105.9h0M407.1 118.1h0M463.7 104.1h0M451.9 106.8h0M478.8 98.2h0M504.1 88.4h0M408.9 117.7h0M618.5 58.2h0M494.9 91.1h0M394.6 119.6h0M488.8 94.5h0M426.3 113.6h0M495.3 91h0M441.1 110.4h0M469.7 101.3h0M514.3 83.7h0M607.8 54.4h0M408.3 117.5h0M521.1 81.4h0M599.1 56.9h0M486 93.6h0M566.3 64.6h0M448.5 109.2h0M538.4 69.4h0M592.2 50.2h0M568 61h0M467.8 101.6h0M591.8 66.8h0M598 55.1h0M540.3 72.5h0M385.6 119.8h0M529.2 75.7h0M467 103.4h0M378.6 120.5h0M443.5 109.5h0M509.1 85.2h0M606.1 59.9h0M460 105.6h0M559.9 58.6h0M502.5 87.9h0M457.7 105.6h0M563 60.7h0M399.1 120.1h0M548.5 66.1h0M499.2 90.7h0M421.6 114.7h0M560.4 62.8h0M393.1 119.6h0M511.6 88h0M407.3 117.5h0M384.9 120.4h0M513.3 80.3h0M594.7 54.9h0M542.6 71.8h0M418.8 116.9h0M614.5 57.7h0M548.1 71.7h0M616.9 63.7h0M551.8 67.7h0M608.4 65h0M551.1 65.3h0M426.3 113.4h0M554.3 69.5h0M400.1 119.9h0M538.9 75.3h0M433.8 112.6h0M577.8 58.9h0M615.1 55.5h0M386.6 121h0M405.5 118.7h0M503.2 85.7h0M430.4 113.7h0M484.4 96.8h0M408.8 118h0M477.9 99h0M415.6 116.5h0M534.8 77h0M578.3 57.5h0M414.8 116.3h0M438.4 111.6h0M455.1 105.4h0M483.2 94.7h0M507 89.2h0M394.2 119.3h0M567.9 62.6h0M544 70.8h0M586.7 51h0M399.5 119h0M458.1 105.9h0M590 59.8h0M418.1 117.4h0M605.4 65.4h0M580.8 62h0M599.8 58.1h0M511.9 84.5h0M396.3 118.8h0M413.4 117h0M389.6 120.4h0M431.3 113.6h0M401.5 118.2h0M580.6 55.6h0M538.1 69.5h0M497.5 92.1h0M455.7 105.7h0M600.5 65.3h0M385.6 120.1h0M425.4 115.3h0M566.9 63.1h0M498.5 91.8h0M397.8 120.1h0M565.6 62.3h0M404.3 120h0M492 92.2h0M597.7 55.3h0M618.9 57.3h0M594.9 65h0M512.9 84.1h0M463.6 102.7h0M515.9 83.5h0M439.4 112h0M467.3 102.2h0M553.7 71.4h0M616.9 60.8h0M599 58h0M608 57.3h0M381.1 119.7h0M447.7 108.8h0M571.4 68.5h0M611.2 60.6h0M577.4 70.6h0M619.5 59.7h0M500.4 91.3h0M595.4 66h0M409.1 117.7h0M567.7 67.9h0M390.3 120.8h0M415.3 116.9h0M478.8 97.5h0M518.8 81.5h0M545.8 71.4h0M499.9 88.5h0M564.1 66.7h0M521 80.3h0M602.6 58.3h0M552.1 75.6h0M576.5 58.7h0M548.6 76.2h0M418.3 116.6h0M485.7 94.7h0M582.5 66.1h0M477.9 97.9h0M388.9 120.1h0M426 114.4h0M474.8 99.3h0M534.7 77.6h0M523.3 78.6h0M477.1 97.6h0M533.5 77h0M458.7 105.9h0M519.6 78.1h0M420 116.2h0M457.6 105.3h0M377.6 120.1h0M379.4 119.3h0M382.5 120.9h0M588.2 56.4h0M592.1 60.1h0M385 119h0M472.5 100.3h0M514.4 84.1h0M521.4 80.9h0M460.7 104.8h0M527.8 76.2h0M438.2 110.8h0M433.3 113.8h0M418.5 117.4h0M571.9 67.3h0M594.1 57.4h0M390.6 119.1h0M492.7 92.4h0M549.2 77.1h0M399.6 120h0M581.4 53.7h0M403.4 118.9h0M548.7 74.2h0M576.1 66.5h0M542 79.8h0M614.7 47.9h0M594.9 49.1h0M566.7 60.4h0M577 66.3h0M541.2 72.1h0M447.7 107.9h0M380.9 119.5h0M554.2 73.1h0M487.4 96h0M520.5 79.4h0M393.1 119.7h0M547.1 68.4h0M469 100.9h0M595.9 54.7h0M613.4 55.1h0M416.4 116.9h0M479.9 98.5h0M441.7 110.7h0M481.4 95.5h0M555.4 69.2h0M382 120.7h0M448.5 107.6h0M423.1 116.7h0M473.7 100.1h0M608.1 57.6h0M444.6 109.2h0M569.1 68.8h0M504.6 86h0M475.6 98.9h0M437.2 111.9h0M488.7 93h0M429.4 113.9h0M396.6 118.5h0M498.7 90h0M603.1 55.5h0M399.5 118.6h0M551.6 71.1h0M499.8 90.5h0M386.1 120.3h0M453.4 107.3h0M531.8 73.6h0M482.1 96.8h0M527.7 80h0M607.2 54.4h0M534.1 78.8h0M543.3 77.9h0M561.2 59.6h0M382.1 121.4h0M607.4 58.1h0M550.1 63.7h0M527.9 79.6h0M429.2 113.4h0M569.8 60.8h0M514 87.8h0M390.1 119.9h0M515.4 82.9h0M545.3 78.7h0M599.4 54h0M477.7 98.7h0M474.3 99.5h0M512.1 85.7h0M614.1 60.1h0M510.4 82.6h0M500.4 91.1h0M486.3 94.7h0M432.7 112.6h0M512.6 86h0M506 89.6h0M610.7 56.3h0M529.5 71.4h0M613.3 59.7h0M613.3 47.1h0M606.5 53.6h0M445.7 110.3h0M481.1 96.3h0M563.4 66.6h0M615.7 58.1h0M426 115.3h0M590.1 62h0M600.7 53.7h0M451.5 107.2h0M616.1 50h0M444.8 109.4h0M554.9 69.9h0M517.7 78.7h0M469.7 101.9h0M487.1 93.4h0M505.7 84.9h0M379.3 120h0M468.2 102.4h0M440.2 111.8h0M558.3 70.2h0M399.9 118.5h0M554 64.5h0M546.7 68.3h0M598.2 60.9h0M483.4 94.8h0M515.1 80.9h0M554.6 67.4h0M532.3 73.6h0M457.4 105.9h0M566.7 63.9h0M567.4 63.8h0M525.4 77.7h0M594.3 53.1h0M501.7 88.8h0M501.1 89h0M416.3 116.4h0M530.8 71.9h0M378.7 119.4h0M525.8 76.7h0M560.1 60.4h0M543.8 71.5h0M594.2 62.5h0M429.9 113.4h0M586.7 56.6h0M577.9 65.9h0M542.8 68.8h0M620.9 47.8h0M557.5 70.7h0M444.4 109.7h0M563.6 66.9h0M413.1 117.6h0M386 120.5h0M402 118.9h0M531.6 75.8h0M427.2 113.9h0M406.3 119.1h0M540 76.7h0M532.8 81.8h0M516.1 83.1h0M536.2 76.9h0M453.4 107.2h0M613.2 53.1h0M504.2 89.8h0M391.4 119.5h0M456.9 106.3h0M379.4 121.1h0M570.8 62.5h0M388.4 121h0M405.4 117.3h0M502.7 90.1h0M450.3 108.2h0M586.7 64.4h0M555.9 69.8h0M555.1 74.7h0M604.3 57.8h0M528.9 76.1h0M595.5 66h0M552.6 66.4h0M458.2 106.3h0M597 58.8h0M414.9 118h0M562.5 66.6h0M494.7 91.2h0M517.8 79.3h0M390.5 120.4h0M576 61.2h0M430.9 114.3h0M396.5 120.6h0M535.1 77.6h0M580.5 60.4h0M573.9 67.1h0M569.2 63h0M568.7 64.1h0M561.3 71.5h0M414.6 116.2h0M490.5 92h0M585.5 52.6h0M380.5 119.1h0M498.1 90.7h0M431.1 114.6h0M523 81h0M454.5 107.4h0M608.9 53.1h0M423.6 114.9h0M470.4 100.5h0M409.5 118.6h0M552 71.2h0M583.3 63.3h0M501.8 89.2h0M497.8 90.7h0M402.8 118.8h0M502.7 90.6h0M472 99.4h0M548.9 69.4h0M503.3 89.1h0M502.8 86.7h0M593.3 60.6h0M597.2 57.9h0M461.2 104.5h0M585.9 58.1h0M514.5 83.3h0M590.2 49.7h0M478.5 98.1h0M483.9 96.5h0M508.4 86.3h0M385.3 120.7h0M597 57.7h0M620.1 52.8h0M409.9 118.9h0M541 74h0M527.2 79.8h0M448.7 107.8h0M384.3 119.5h0M424.6 115h0M455.8 106.4h0M535.1 77.1h0M421.3 116.5h0M380.1 121.1h0M406.8 117.2h0M542.5 70.2h0M502.7 89h0M487.1 93.9h0M611.2 49.9h0M423 115.7h0M547 73h0M469.2 100.4h0M589.8 56h0M592.4 57.6h0M486.2 94.2h0M391.8 118.8h0M542.9 74.6h0M566 63.1h0M492.6 92h0M602.7 57.7h0M552 70.6h0M515.3 82.2h0M501.8 90h0M430.4 114h0M560.6 65.7h0M411.3 116.7h0M432.6 113.7h0M575.1 60.7h0M612.2 57.1h0M540.3 72.5h0M514.2 83.6h0M474 99h0M564.3 64.1h0M514.4 85.1h0M426.5 115.1h0M459.1 105.4h0M591.8 60.3h0M559.2 60.1h0M421 116.2h0M481.2 98h0M544.1 73.1h0M470.3 101.2h0M517.6 78.5h0M396.1 119.6h0M560.7 63.3h0M537.4 71.7h0M446.5 108.5h0M620.6 58.3h0M396.2 119.2h0M467.1 101.3h0M539.1 77h0M533.7 74.7h0M436.8 111.6h0M593.3 57.6h0M485.3 95.8h0M514.4 83.8h0M552.4 65.9h0M455 105.7h0M489 95.3h0M422.7 115.4h0M501.2 89.6h0M527.8 77.4h0M566.2 58.8h0M419.7 116.5h0M607 65.4h0M468.6 103h0M433.6 114h0M523.1 83.7h0M411.4 118.8h0M470.3 101.3h0M391.3 119.9h0M496.5 90.8h0M414.1 116.3h0M601 58.5h0M477.4 97.8h0M394.1 118.9h0M514.2 79.9h0M620.5 56.1h0M381.6 119.4h0M417.1 116.8h0M581.8 69.2h0M513.6 81.7h0M557.2 67.3h0M577.6 65.5h0M553.7 66.5h0M517.8 84.7h0M531.9 75h0M605.8 55.7h0M462.8 103.7h0M430.2 113.2h0M434.2 112.8h0M559.5 68.4h0M552 64.4h0M613 57.3h0M611.2 55.2h0M576.2 67h0M575.6 54.8h0M583.2 54.3h0M432.9 112.9h0M378.2 119.1h0M609.5 60.5h0M590.4 61.5h0M394.6 119h0M415 115.7h0M519.4 81.9h0M411.6 118h0M521.4 78.2h0M593.3 67h0M603.5 55h0M420.7 115.2h0M601.1 63.1h0M561 67.3h0M456.7 107.1h0M411 117.1h0M543.4 75.6h0M621.4 54h0M422 116.7h0M576 64.5h0M501.4 89.4h0M439.2 112.1h0M467.1 101.4h0M408.2 117.7h0M499.7 89.5h0M552.3 68.5h0M428.2 114.3h0M408.5 116.9h0M524.7 80.1h0M418.5 116.3h0M492.6 92.6h0M442.8 109.9h0M618.1 53.3h0M473.2 100.5h0M540 78.4h0M537.7 76.4h0M608.2 66.7h0M496.9 92.5h0M610.5 52.9h0M538 67.6h0M392.7 119.3h0M465.5 102h0M597.2 59.4h0M446.5 110.3h0M421.2 115.7h0M465.4 101.8h0M460.2 103.7h0M540.6 75.9h0M584.4 55.3h0M465.8 103.6h0M395.1 121.1h0M425.6 115h0M608.8 61.7h0M424.7 115.5h0M465.4 102.6h0M401.9 119h0M463.3 104.2h0M504 90.3h0M609.6 57.6h0M481.7 97.1h0M519.4 78.9h0M592.6 53.4h0M588.9 50.8h0M386.2 119.4h0M586.5 65.4h0M584.3 51.5h0M598.4 48.7h0M565.9 65.3h0M461 104.2h0M604.8 60.5h0M514.7 87.3h0M434.7 113.1h0M582 59.3h0M395.1 119.6h0M553.3 67.6h0M407.7 119.1h0M467.4 101.6h0M620.3 49.7h0M408.7 118.5h0M412.5 117.2h0M407.3 116.9h0M446.7 110h0M504.1 86.8h0M466.6 103.7h0M546.6 71.4h0M580.9 59.3h0M420.3 115.8h0M439.5 111.1h0M383.1 120.1h0M470 101.7h0M379.2 119.7h0M440.9 111.2h0M522.3 81h0M564.4 64h0M434.5 112.9h0M397.5 120h0M502.9 89.1h0M429.4 113.1h0M429.4 113.9h0M436.5 111.3h0M610 60.7h0M539.5 79.5h0M460 105.9h0M411.8 118h0M433.1 113.1h0M501.4 87.7h0M423.1 115.9h0M562.7 64.1h0M525.9 75.3h0M565.4 59.2h0M450.4 107h0M526.6 72.8h0M470.9 101.8h0M602.2 56.8h0M582.7 59.7h0M468 101.6h0M497.5 90.4h0M535.9 80.8h0M520.7 77.9h0M528.2 77.4h0M461.3 103.5h0M459.9 105.2h0M610 47.7h0M497.1 90.9h0M398.3 120h0M389.7 121.1h0M417 116.2h0M405.6 118.5h0M527.6 78.5h0M609.3 59.4h0M529 82.9h0M620.3 55.2h0M454.4 105.8h0M596 55.3h0M469.4 101.9h0M550.6 71.3h0M438.6 112h0M441.5 110.6h0M458.2 105.2h0M406.3 118.9h0M562.2 69.7h0M384.4 120.3h0M586.4 64.6h0M393.8 118.4h0M455.2 106.1h0M577.9 55.5h0M525.6 74.9h0M515.7 85.6h0M477.5 98.7h0M508.9 85.5h0M486.3 93.4h0M515.1 81.1h0M468.9 101.9h0M510 87.2h0M475.8 100.3h0M558.2 65.6h0M591.9 58.4h0M582.1 60.5h0M511.6 81h0M406.5 118.8h0M467.4 102.1h0M515.8 80h0M465.8 104h0M410.9 117h0M589.9 57h0M571.5 62.3h0M569.2 60.6h0M500.8 88.2h0M538.4 79.1h0M494.1 90.3h0M388.5 119.5h0M592.8 57h0M499.3 90h0M387.5 121.5h0M501.3 88.7h0M529.5 71h0M468.5 102.9h0M447 109.3h0M450.7 108.4h0M577.7 63.6h0M424.9 115.1h0M554.5 67.5h0M402.2 119.1h0M474.1 100.4h0"/>
</g>
<clipPath id="c3"><rect x="46.5" y="215.5" width="244.5" height="151"/></clipPath>
<g clip-path="url(#c3)">
<path class="dg" d="M171.4 311.9h0M137.1 320.8h0M111 328.8h0M134.9 322.9h0M180.1 309.8h0M251 292.2h0M133.4 324.3h0M226 296.2h0M256.7 292.1h0M255.7 291.7h0M114.5 325.1h0M263.9 287.7h0M142.6 321.2h0M171.8 310.6h0M240.7 290.9h0M262.9 293h0M230.6 294.3h0M90.4 332.4h0M224.4 295.8h0M275.2 291.1h0M139.7 323.4h0M65.8 334.4h0M190.9 306.4h0M282 283.4h0M265.3 287.5h0M197.6 303h0M231.7 292.2h0M243.6 290.7h0M262.6 287.4h0M163.2 314.5h0M69.8 334.7h0M189.3 308.3h0M110.2 327.1h0M266.7 289h0M125.2 324.6h0M66.7 333.8h0M272.5 286.2h0M191.2 307.3h0M153.5 315.2h0M288.4 288.3h0M185.4 308.4h0M175.6 310h0M153.6 316.1h0M90 330.3h0M243.5 290.9h0M165.7 313.4h0M242.8 289.8h0M132.6 323.9h0M147.5 319.5h0M147 320.3h0M74.1 331.3h0M76.8 332.7h0M235 293.1h0M47 334.5h0M104.9 328h0M137.1 321.8h0M58.8 335.9h0M216.1 298.4h0M253.7 291.6h0M228.4 293.1h0M254.2 290.5h0M285.6 288.4h0M78.2 335.3h0M140.4 319.3h0M271.4 289.8h0M84.5 332.6h0M170.8 312.5h0M247.7 292.8h0M100.8 330.9h0M58.6 336.9h0M183 306.3h0M153.2 319.6h0M219.6 298.2h0M221.3 299.3h0M64.2 334.9h0M56.7 334.3h0M152.7 317.5h0M183.1 307.6h0M56.6 334.9h0M205.6 299.2h0M202.5 302.2h0M178.9 308.9h0M184.2 309.7h0M104.2 328h0M61.2 333.2h0M253.1 292.2h0M54.8 333.3h0M269.8 289.6h0M239.4 293.1h0M118.1 325.3h0M171.1 314.1h0M52.8 335.7h0M85.2 331.9h0M123 327.1h0M210.9 297.9h0M51.1 336.1h0M91.3 332.7h0M130.6 324h0M214.2 298.4h0M235.8 294.5h0M115.6 329.1h0M100.5 328h0M109.1 326.8h0M259.4 291.1h0M92.7 330h0M269.4 286.3h0M167.7 312.4h0M130.3 322.7h0M286.3 285.9h0M73.3 335.2h0M146 321.1h0M93.1 332.6h0M177.1 310.7h0M258 289.8h0M93.2 330.9h0M146.4 319.7h0M243 290.6h0M281.7 287.4h0M267.4 289.8h0M165.9 312.7h0M178.5 309h0M171.2 311.6h0M131.7 325.2h0M135.9 322.9h0M65 332.7h0M215.3 300.2h0M139.8 321.6h0M71.2 332.3h0M249.9 294.8h0M133.1 321.4h0M240 292.2h0M249 290.4h0M198.6 302.3h0M85.6 330.1h0M255.1 293.1h0M103.6 327.8h0M228.2 296.7h0M100.4 328.1h0M225 296.1h0M87.6 332.2h0M130.2 322.3h0M170 313.6h0M247 289h0M73.4 334.8h0M143.1 322h0M224.5 296.4h0M212.2 299.4h0M195.1 306.4h0M174.6 310.9h0M119.5 327.4h0M253.4 288.5h0M250.8 294h0M121.1 327.5h0M168.9 311.1h0M118.1 326.3h0M227 297.3h0M201.6 303.3h0M197.9 306.2h0M183.1 309h0M173 311.8h0M270.4 291.7h0M100.5 327.4h0M102 331.8h0M79.8 332.7h0M180 307.2h0M249.1 293.9h0M198.2 304.4h0M285.7 286.5h0M272.9 290.2h0M107.2 328.5h0M111.9 327.6h0M51.7 333.3h0M159.1 315.4h0M279.7 287.9h0M50.7 336.9h0M287.4 287.8h0M197.1 303.7h0M195.4 305.6h0M288.9 288.1h0M112.6 327.9h0M180.1 307.9h0M210.4 299.5h0M145.1 321.1h0M183.5 308.4h0M286.1 290.9h0M107.2 328.2h0M138.6 321.4h0M216.6 297.1h0M141.1 319h0M246.8 289.5h0M216.6 299h0M129.6 325.8h0M67.8 331.2h0M107.5 328.3h0M208.7 299.5h0M106.2 327.4h0M94.8 331.1h0M96 332.6h0M137.3 321.7h0M111.2 327.7h0M255.7 288.5h0M275.3 289.3h0M239 292.3h0M147.7 319.4h0M166.6 314.2h0M130.3 325.9h0M81.7 333.8h0M227.6 295.9h0M80.4 335.5h0M53.2 335h0M196.2 303.8h0M232.3 296.9h0M189 308.3h0M288.7 284.7h0M233.1 294.3h0M239.1 293.3h0M122.9 327.1h0M148.2 321h0M282.7 286.8h0M236 293h0M240.8 294.2h0M101.2 331.5h0M150.1 320.5h0M101 332.6h0M60.1 332.5h0M157.7 315.7h0M200.3 304.3h0M176.3 311.1h0M91.3 331.7h0M273.4 286.6h0M215.3 298.5h0M223.8 295.7h0M227.7 297.9h0M69.2 333.1h0M253.3 289h0M259.6 287h0M230.6 294.6h0M180.9 309.4h0M181.9 310.6h0M228.5 295.5h0M57 332.4h0M281.3 288.1h0M48.5 333.8h0M208 300.1h0M87 333.4h0M212.5 298.2h0M84.6 335.5h0M171.7 311h0M203.7 302.3h0M286.4 287.2h0M101.2 328.5h0M122.4 325.9h0M278.7 286.3h0M91.2 332.9h0M224.7 297.7h0M129 324.3h0M130.8 325.7h0M90 332.2h0M59.8 335.1h0M241.3 292.3h0M115.3 328h0M181.9 309.8h0M87.7 332.4h0M95.2 330.5h0M187.3 309.3h0M176.9 309.7h0M124.1 325.3h0M258.5 287.8h0M138.2 321h0M119.3 327.2h0M145.8 319.8h0M202.2 300.9h0M264.3 291.4h0M262.5 293.5h0M65.4 333.9h0M74.9 332.4h0M105.7 327.5h0M194.2 305.8h0M281.9 289h0M240.3 292.8h0M278.2 287h0M191.6 304.7h0M168.1 312.7h0M187.3 306.1h0M168.7 311.5h0M104.6 328.9h0M174.9 311.3h0M201 303h0M188.1 307.5h0M101.8 328.8h0M117.4 325.9h0M160 314.5h0M136.9 322.9h0M141.2 320.1h0M172.4 313.2h0M259.4 288h0M58.3 335.8h0M51.5 334.5h0M47.4 332.3h0M282.2 286.5h0M251.8 290.4h0M53.5 337.2h0M82.4 330.7h0M149.5 320.6h0M94.6 330.8h0M47.7 334.6h0M221.1 295.9h0M115.3 328.1h0M151.3 319h0M122.1 324.1h0M263.3 292.2h0M130.4 324.7h0M105.4 331.2h0M278.7 287.3h0M149.4 320h0M290.1 288.1h0M49.1 333.1h0M240.5 295.8h0M101.5 330.8h0M127.6 323.3h0M67 332.8h0M250.9 291.8h0M96 331.8h0M192.5 306.3h0M91.9 331.2h0M168.9 313.2h0M249.4 291.3h0M183.6 309h0M68.9 332.9h0M156.4 316h0M125.3 324h0M69.2 332.7h0M109.5 327.7h0M240.3 291.6h0M60.9 335h0M261.7 290.6h0M149.1 317h0M273.7 286h0M98.2 331.4h0M131.1 324.5h0M69.3 333.9h0M149.2 320.5h0M137.2 323.6h0M173.4 310.2h0M181.2 309.2h0M253.4 289.8h0M247.2 290.7h0M263.2 287.5h0M209.6 300.9h0M234.1 297.1h0M266.8 290.9h0M205.7 302.7h0M147.8 320.4h0M186.4 306.6h0M186.6 307.5h0M93.6 331.8h0M75.6 334.3h0M55.2 332.6h0M117 327.6h0M263.3 290.1h0M91.4 333.3h0M96.8 331.7h0M156.2 316.5h0M195.8 303.8h0M133.5 322.7h0M193.9 305.6h0M214.1 297.9h0M120.9 327h0M239 292.9h0M63.7 333.9h0M190.3 306.6h0M146.7 317.3h0M157.1 316.6h0M162.6 313.8h0M236.8 294.6h0M266 288.6h0M118.8 326.8h0M85.3 333.3h0M168.3 312.5h0M257.5 290.6h0M81.7 331.1h0M139.5 323.2h0M252 288.3h0M237.5 291.2h0M289.1 289.2h0M273.8 287.2h0M224.4 293.4h0M122.8 326h0M132.1 321.9h0M246.7 290.3h0M170.7 313h0M207 300.4h0M67.7 335.3h0M145.6 319.9h0M161.2 315.7h0M90.8 331.3h0M247.1 288.5h0M248 291.1h0M260.6 285.9h0M127.9 323.6h0M245.7 294.5h0M55.4 334.9h0M175.3 310.7h0M196 303.2h0M222.5 296.1h0M236.5 293.4h0M107.5 330.7h0M277.2 290.2h0M257.2 292.3h0M181.4 308.6h0M147 320.9h0M118.4 328.6h0M76.7 332.8h0M261 290.9h0M90.7 333.2h0M223.2 297.7h0M111.3 330.5h0M86.7 333.1h0M63.5 336.8h0M285.4 287.4h0M108.3 327.6h0M147.3 320.4h0M144.6 321.6h0M182.3 306.6h0M126.8 324h0M153.9 315.6h0M186.1 309h0M150.1 318.2h0M207.8 302h0M72.6 334.8h0M207.5 301.3h0M51.4 336.2h0M230.3 297.8h0M51.5 333h0M144.3 321.7h0M114.6 326.2h0M72 332h0M117.2 327.1h0M222.2 299.1h0M94.8 328.9h0M134.8 324.8h0M124 327.3h0M198.4 302.4h0M172.6 312.6h0M100.1 330.7h0M134.5 323.4h0M176 309.5h0M108.1 328.2h0M127.2 326.3h0M72.4 335.2h0M86.4 332.9h0M205.7 301.1h0M64.1 333.7h0M77.5 333.9h0M135 323.2h0M104.6 329.3h0M251.7 290.3h0M265.3 290.3h0M94.8 330.9h0M131.3 322.1h0M50 336.5h0M171.5 310h0M112.2 328.7h0M159.7 313.3h0M203.6 301.8h0M132.8 323.7h0M143.8 318.6h0M224.6 295.4h0M80.6 332.3h0M120.1 327h0M123.7 325.8h0M108.6 329.9h0M137.3 322.8h0M202.3 304.4h0M246.1 292.3h0M88.1 331.6h0M63 333.6h0M254.9 293.7h0M268.7 291.1h0M193.1 306.5h0M215.9 297.8h0M62.6 332.8h0M62.1 336.2h0M61.7 336.6h0M59.8 332.2h0M249.7 292.3h0M267.1 288.5h0M207.2 301.8h0M53.8 332.3h0M274.2 285.8h0M219 299.2h0M217.4 297.7h0M60.9 336.3h0M153.4 319.4h0M87 330.7h0M61.7 336.2h0M51.8 333.4h0M133.1 322.9h0M184 308.6h0M211.1 300.8h0M63.7 335.5h0M64.7 333.8h0M255.5 289.9h0M174.4 310.7h0M83.2 332.8h0M72.6 333.5h0M56.2 333.9h0M153.8 317h0M121.3 324.6h0M150.6 317.3h0M104.5 328.3h0M75.3 332.7h0M142.3 322.1h0M159.6 316.3h0M229.1 295.8h0M62.1 336.5h0M255.2 290.8h0M93.4 329.3h0M52.2 337.9h0M258.7 291h0M215.2 300.8h0M200.9 301.8h0M279.4 287h0M281 287.3h0M148.3 319.3h0M249.3 290.9h0M196.2 304.6h0M58.4 332.1h0M188.2 307h0M203.8 302.5h0M54.7 333.3h0M125.9 325.1h0M77 330.8h0M277.3 288.7h0M159 315.9h0M117.7 327.3h0M60.4 334.1h0M167.5 312.4h0M73.7 334h0M268.5 284.2h0M186.1 306.9h0M279.9 284.7h0M63.8 336.8h0M173.7 312.1h0M286.1 289.2h0M173 312.3h0M198.5 305.5h0M219.1 297.9h0M84.7 333.4h0M262.1 288.8h0M251.5 288.8h0M203 301.3h0M154.4 316.5h0M94.9 332h0M178.9 310.3h0M161.6 317.3h0M280.1 289.8h0M247.8 290.1h0M207.1 302.5h0M266.9 288.1h0M258 287.3h0M77.8 334.5h0M248.3 289.8h0M56.1 336.8h0M193.6 304.6h0M268.2 291h0M276.3 287.1h0M58 334h0M183.7 307.2h0M240.8 291h0M139.9 321.8h0M202.9 300.6h0M64.7 336h0M112.6 326.1h0M252.9 290.4h0M140.3 323h0M77.9 332.9h0M258.1 290.3h0M104.5 331.8h0M182.6 309.5h0M93.6 331.8h0M113.3 327.5h0M209.5 299.5h0M220.9 296h0M85.3 333.3h0M81.9 334h0M259.2 286.6h0M228.4 294.5h0M206.3 302.4h0M232.5 294.1h0M242 294.7h0M246.2 293.4h0M165.6 314.2h0M270.7 290.6h0M101.7 329.7h0M76.5 333.9h0M198.3 305.3h0M177 309.4h0M92.9 332.9h0M139.7 320.2h0M166.2 313.8h0M80.7 334.3h0M53.5 333.9h0M224.3 294h0M74.4 333.5h0M91.1 333.8h0M252.6 291h0M182.1 310.2h0M286.1 283.8h0M224.2 294.8h0M92.8 329.6h0M143.2 318.4h0M262.6 286.5h0M273.2 287.9h0M238.7 290.6h0M186.3 309.1h0M146.2 318.1h0M183.8 306.5h0M108.3 329.8h0M119.8 327h0M177.2 310.2h0M165.2 313.3h0M71.6 333.5h0M232.2 295.3h0M223.4 294.6h0M269.4 288.9h0M170.6 312.7h0M149.4 318.4h0M80.3 332.2h0M226.3 298.2h0M279.5 287.6h0M93.3 330.9h0M108.8 328.3h0M210.2 301.2h0M95.2 331.9h0M122.3 326h0M285.5 283.7h0M256.3 289.3h0M70.9 333.7h0M50.5 335.2h0M271.7 286.6h0M142.8 319.6h0M279.4 286.2h0M72.3 332.4h0M151.1 317.5h0M86.3 334.1h0M204.3 301.8h0M245.9 291.2h0M83.4 333.5h0M93.9 329.2h0M47.1 332.3h0M135.7 324h0M108.9 328h0M179.2 308.5h0M279.5 288.3h0M159.6 315h0M55.1 336.1h0M289.9 290.2h0M165 312.3h0M272.8 285.4h0M150.6 317.8h0M182.6 308.2h0M133.9 322.7h0M215.2 300.9h0M84.4 330.7h0M267 288.8h0M256.4 290.8h0M88.7 331.1h0M267.3 285.3h0M209 302.4h0M150.8 317.6h0M111.6 328h0M105.9 327.1h0M227.1 293.9h0M231 295.3h0M105.2 330.6h0M141.1 320.8h0M237.3 292.7h0M126.3 327h0M234.1 295.7h0M222.6 297.6h0M116.2 326.2h0M269.6 290.3h0M90.3 332.3h0M288.1 287.3h0M111 330.2h0M92 332.2h0M115.2 328.6h0M59.9 335h0M80.8 334.9h0M246.2 288.5h0M137.4 322.7h0M205.1 302.9h0M216.5 300.6h0M257.6 292h0M281.3 290.2h0M180.9 308.7h0M209.8 302.9h0M74.1 334h0M206.7 299.9h0M173.1 312.6h0M68.6 334.4h0M265.7 286h0M201.2 303.9h0M201.4 300.8h0M143.8 321.1h0M242.8 293.9h0M152.7 316.3h0M248.6 292.8h0M107.9 328.1h0M76.9 332.6h0M239.1 294.5h0M136.8 320.5h0M242.5 292.5h0M288 289.3h0M246.3 292.1h0M90 331.7h0M121.5 325.6h0M242.5 289.7h0M172.5 312.3h0M170.5 310.9h0M230.3 295.5h0M216 299h0M196.7 304h0M285.8 288.6h0M106.8 329.5h0M101.3 329.9h0M92.2 329.2h0M52.9 335.5h0M102.1 330h0M47.2 334.8h0M177.3 309.8h0M183.8 307h0M86.5 332.4h0M245.3 294.7h0M198.8 305h0M257.9 289h0M229.1 294.7h0M94.7 331.6h0M284.2 289.1h0M275.5 288.6h0M90.9 333.1h0M208.2 298.9h0M60.4 336.1h0M57.9 337.2h0M224.7 296.4h0M229.7 295.5h0M74.7 333.9h0M110.5 327.1h0M284.1 288h0M55.7 332.5h0M201.2 301.2h0M246.8 293h0M199.9 303.6h0M235.1 291.7h0M143.4 319.4h0M57.4 331.9h0M255.4 290.3h0M223 299.6h0M213 301.8h0M278.3 289.4h0M113.9 329.3h0M121.7 325.6h0M237.7 290.4h0M126.4 325.5h0M267.3 287.3h0M253.1 292.5h0M166.5 313.9h0M204.4 301.8h0M107.8 330.9h0M72.7 334.7h0M97.8 330.6h0M65.2 336.3h0M215.2 299.9h0M109.4 329.3h0M60.9 334.9h0M122.4 326.5h0M98.3 329.3h0M277.5 284.2h0M71.1 333.5h0M270.1 291.9h0M241.1 289.9h0M110.3 326.4h0M274.3 284.5h0M170.2 313.5h0M162.2 315h0M76.9 334.6h0M53.4 332.5h0M259.4 288.9h0M185.2 307.4h0M90.5 331.1h0M275.1 286.2h0M210.9 301.2h0M266.6 292.4h0M116 325.6h0M98.8 332.6h0M107.5 328.6h0M151 319.6h0M252.5 289.6h0M121.4 327.3h0M124.9 323.6h0M123.6 324.5h0M132 321.5h0M221.8 295.2h0M190.8 304.5h0M101.5 332h0M280.4 284h0M259.2 293.5h0M93.5 330.2h0M231.3 292h0M57.5 333.8h0M96.8 331.3h0M98.7 328.5h0M161.6 313.8h0M290.7 287.7h0M203.1 303.6h0M188.7 305.5h0M154.9 316.3h0M250.7 292.1h0M283.6 289.3h0M234.4 293h0M190.8 303.3h0M281.4 284.6h0M116.2 328.8h0M162.4 314.9h0M54.4 337.2h0M133.6 320.9h0M117.9 326.9h0M269.9 286.9h0M50.1 338.6h0M280 289h0M249.8 292.1h0M131.4 324.3h0M104.3 332.3h0M180.1 309.6h0M188.3 308.6h0M75.4 332.2h0M268.4 287.4h0M77.2 336h0M65.4 333.6h0M191.7 307.2h0M209.4 302.5h0M106 327.4h0M139.7 322.3h0M263.5 289.3h0M123 326.3h0M276.1 286.7h0M165.3 312.9h0M275.1 285.4h0M142.5 317.7h0M104.6 329.4h0M187.6 307.8h0M64.3 336.8h0M62.8 334.2h0M86.3 332.8h0M84.7 333.2h0M71.3 334.5h0M115.9 327.1h0M184.5 309h0M277.2 285.2h0M266.5 291.9h0M173.5 310h0M155.5 315.8h0M208.2 300h0M198.8 304.2h0M80.2 332.7h0M114.1 326.5h0M216.7 297.4h0M154.2 317.6h0M216.3 300.2h0M46.9 335.9h0M260.6 287.3h0M216.2 297.1h0M107.3 328.7h0M253.5 291.2h0M55.2 333.4h0M174.4 310.2h0M69.5 336.6h0M269.7 284.6h0M139.3 321.7h0M218.4 297.6h0M190.4 304.9h0M69.3 331.5h0M188.1 306.1h0M108.8 328.8h0M178.6 309.9h0M289.5 285.8h0M106.1 328.4h0M236.1 293h0M162.3 314h0M54.2 337.8h0M46.9 333.9h0M112.5 328.4h0M232.6 295.3h0M196.3 304h0M138.7 322h0M273.4 288.1h0M272.5 291.4h0M184.5 307.2h0M244.8 293.1h0M189.6 306.4h0M137.1 322.2h0M235.5 295.5h0M174.3 311.6h0M256.5 290.1h0M251.4 292.3h0M225.3 295h0M216.6 299.6h0M267.8 289.1h0M221.1 299.7h0M198.2 305.9h0M70.7 336.9h0M223.4 299.1h0M117 327h0M80.4 335.6h0M255.5 291h0M268.3 287.3h0M57.6 334.7h0M130.3 324h0M231.3 296.3h0M257 290.3h0M244.1 293.5h0M184 307.9h0M157.7 315.9h0M214 298.3h0M122.6 327.9h0M65.1 335.6h0M194.6 305.5h0M66.7 334.4h0M270.5 289.8h0M92.6 328.9h0M164.8 314h0M190.1 306.2h0M54.2 333.7h0M259 287.6h0M76.7 336h0M91.4 330.6h0M273.1 285.1h0M194.8 306.9h0M249.6 293.2h0M123.5 324.7h0M99.2 329.9h0M99.4 329.6h0M182.1 308.5h0M204.6 302.9h0M224.3 297.9h0M113.8 330.1h0M107.2 330.9h0M68.5 332h0M66.4 334.1h0M185.1 309.3h0M105.5 331.1h0M49.6 334.6h0M48 335.7h0M111.8 327.8h0M158.4 316.6h0M91.8 331.4h0M240.5 294.1h0M51.7 332.8h0M246.3 290h0M144.1 318.5h0M121.4 326.2h0M167.7 313.9h0M198.8 301.6h0M204 301.2h0M68.2 335.2h0M125.1 326.2h0M196.2 304.3h0M265.3 292.7h0M217.7 300.1h0M285.4 289.5h0M177.2 310.8h0M272.3 286.2h0M287.6 286.4h0M187.6 306.7h0M136.2 320.1h0M284.7 289.5h0M129.6 323.9h0M116 329.4h0M175.7 312h0M224.8 297.8h0M150.3 318.3h0M117.9 324.1h0M270.7 288.2h0M99.8 329.3h0M86.1 331.7h0M110.2 325.9h0M88.5 331.9h0M273.1 291h0M93.8 331.3h0M225.8 298.2h0M252.1 292h0M139 321h0M275.3 287.9h0M224.2 296.3h0M88.9 331.8h0M257 287.7h0M278 287.4h0M80.8 334.6h0M243.3 292h0M101.9 332.2h0M147.5 319.3h0M125.8 325.2h0M91.4 332.9h0M240.1 290.4h0M50.8 335.8h0M279.4 291h0M74.3 332.2h0M256.5 291.7h0M175.8 310.7h0M203.3 303.1h0M65.5 334.1h0M221.2 297.7h0M48 334.2h0M210.4 300.5h0M192.2 303.3h0M262.5 286.7h0M130.6 322h0M224.7 294.4h0M46.7 335.1h0M77.4 332h0M135.7 322.7h0M217.1 297.7h0M79.7 334.1h0M194 303.1h0M246 290.8h0M65.4 335.8h0M212.4 302.1h0M129.3 325.8h0M76.6 334.4h0M100.7 328.2h0M75.6 332.1h0M76.4 333.5h0M243.5 291.8h0M160.8 315.6h0M62.6 334.5h0M212.9 297.8h0M277.6 290.2h0M232.2 294.8h0M117.6 326.5h0M154.4 317.6h0M58.1 335h0M181.4 308.9h0M72.2 336.3h0M133.9 322h0M240.6 295.5h0M219.7 296.4h0M173.7 309.3h0M269.6 288.6h0M254.7 289.3h0M73.2 334.5h0M63.6 333.1h0M190.3 305.1h0M189.2 305.8h0M187.4 305.4h0M227.3 297.5h0M172.7 312.6h0M249 288.4h0M234.7 294.9h0M275.7 287.9h0M69.6 336.2h0M131.9 323.8h0M237.1 292.1h0M143.9 319.1h0M84.1 332.6h0M203.8 300.7h0M147.3 318.9h0M225.9 297.8h0M244.6 292.7h0M149.7 318.4h0M55.4 336.2h0M113.1 328.9h0M103.7 329.2h0M176 308.4h0M99.7 329.1h0M74.1 334.8h0M48.1 335.1h0M196.7 304.1h0M58 335.5h0M84.2 334.9h0M153.6 318.9h0M46.6 337.4h0M230.1 296.5h0M209.9 301.5h0M216.6 298.9h0M103.7 330.8h0M247.3 292.9h0M99.2 331.1h0M136.2 323.7h0M191.3 304.1h0M137.1 319.8h0M200 303.9h0M245.3 295.1h0M256.5 289.7h0M182.6 309.3h0M189.2 305.7h0M183.7 308.2h0M286.9 287.4h0M137.6 321h0M198.4 302.4h0M102.1 328.3h0M206.9 303.7h0M101.5 328.1h0M264.1 290.5h0M179.9 309.3h0M97.5 331.3h0M110.1 330.8h0M106.4 331.2h0M177.5 311.6h0M66.1 333.2h0M276.8 287.2h0M85.7 334.3h0M203.5 302.1h0M77.6 332.7h0M219.1 300.3h0M58.5 332.6h0M210.5 301.8h0M129.5 324.3h0M180.1 310.6h0M206.8 300.3h0M166.1 313.2h0M222.8 294.7h0M179.6 307.3h0M251.8 291h0M171.7 312.2h0M99.8 330.8h0M159.4 314.5h0M143.1 319.6h0M113.9 328.9h0M89.3 330.5h0M130.8 321.9h0M55.6 337.8h0M205.6 301.6h0M147.3 318h0M131.1 323.3h0M279.2 289.3h0M221.3 297.9h0M115.1 325.5h0M248.6 292h0M285 286.5h0M269.8 291.1h0M48.8 334.6h0M248.2 291.4h0M264.4 293.2h0M90.3 333h0M203.2 301.8h0M266.2 289.9h0M208.3 299.2h0M288 285h0M208.7 301.9h0M288.8 283.2h0M285.8 287.5h0M237.4 294.8h0M265.4 291.6h0M154 315.6h0M234.4 296.7h0M177.1 312.2h0M272.3 288.8h0M284.4 286.2h0M267.4 285.5h0M154.5 316.1h0M55.7 336.8h0M233.5 293.2h0M57.3 337.3h0M193.2 307.4h0M73.9 334.3h0M154.6 317.9h0M146.6 318.8h0M133 323.2h0M153.3 317.6h0M232.7 293.9h0M65.6 333.6h0M265 291.2h0M185.1 305.3h0M250.8 289.6h0M168.3 310.7h0M239.1 291.6h0M247.5 290.7h0M281.3 283.8h0M257.4 292h0M100.3 333.2h0M264 289.3h0M89.4 332h0M48.7 337.3h0M165.5 314.2h0M198.7 302h0M236.5 295.3h0M88 330.6h0M162.9 315.8h0M205.6 301.9h0M237.7 291.1h0M97.1 331.9h0M262.8 290.7h0M125.3 325.4h0M150.5 317.6h0M239 292.4h0M269.1 290.8h0M271.3 289.7h0M54.4 333.5h0M151.5 318.4h0M147.6 318.7h0M243.3 291.5h0M198.4 302.6h0M194.8 306.2h0M241.5 293.4h0M247.8 292.4h0M289.7 285.9h0M120.3 326.3h0M226.5 294.4h0M223.9 295.2h0M97.9 331.8h0M219 298.5h0M133 324.2h0M121.4 326.9h0M120.4 325.1h0M193 304.7h0M158.9 317.3h0M185.6 308.4h0M143.3 322h0M249.4 293.6h0M238.5 293.6h0M243.3 293.8h0M188.1 308h0M214.9 296.8h0M268.3 292.4h0M111.8 327.2h0M71.9 335.1h0M244.9 294.5h0M263.7 288h0M229.4 295.1h0M69.1 336.9h0M244.5 289.5h0M183.9 307.4h0M234.5 293.4h0M206.1 302.5h0M167 313.3h0M113.8 328.8h0M149.4 318.4h0M224.3 294.2h0M247.3 292.6h0M148.7 318.4h0M202.5 303.4h0M216.8 299.4h0M188.7 307h0M195.4 305.9h0M219 297.3h0M282.6 288.6h0M216.4 298.6h0M223.8 295.9h0M175.8 312.6h0M130 322h0M197.4 302.3h0M277.8 291h0M247.5 289.1h0M198.4 305.3h0M48.2 335h0M122.3 325.8h0M61.3 335.9h0M173.3 312h0M192.9 305.2h0M216 297.4h0M159.6 316.1h0M172.1 313.9h0M277.9 288h0M272 288.9h0M118.7 327.9h0M244.3 290.5h0M238.1 295h0M72.8 333.4h0M194.1 303.9h0M85.5 332.5h0M81.9 331h0M165.7 313.3h0M186 305.8h0M200.3 303.7h0M279.8 286h0M192.7 304.1h0M104.6 328.6h0M89.2 331.9h0M49.7 333.1h0M58.6 332.8h0M60.8 332.1h0M63.2 334.3h0M143.7 319.9h0M194.3 305.7h0M200 302.2h0M164.7 313h0M196.7 303.6h0M208.5 299.9h0M221 297.3h0M133.4 323.7h0M84.7 334.2h0M189.5 304.6h0M181.2 309.7h0M289.9 286.3h0M278.9 284.9h0M96.8 331.7h0M243.8 292.9h0M149 316.9h0M141 321h0M139.9 320.4h0M256.4 292.2h0M53.4 335.6h0M87.4 329.6h0M156 317.1h0M141.5 321.1h0M61.1 335.8h0M250.8 289.3h0M215.2 297.3h0M257.9 293.8h0M181.3 307h0M105.3 331.2h0M251.1 288.2h0M178.4 310.7h0M142.6 318.2h0M259.6 288.8h0M236.1 296.2h0M95.8 332.8h0M95 332.1h0M150.2 319.5h0M58.8 337h0M201.6 304.4h0M131.5 322.7h0M208.6 299.6h0M52.1 333.6h0M275.1 289.5h0M178.9 308.6h0M175.6 310.3h0M90.5 331.7h0M154.9 318h0M203.5 302.2h0M284.3 286.4h0M85.7 335h0M225.3 297.3h0M254.1 289.3h0M80.6 333.8h0M69.1 333.7h0M164.7 315.2h0M85.1 330.1h0M112.1 327.6h0M78 334.6h0M186.6 307.3h0M179.5 311.2h0M169.2 311.9h0M218.7 300.6h0M164.4 312.3h0M148.2 318.1h0M223.9 296h0M259.4 287.5h0M196.7 305.6h0M243.3 290.1h0M115.8 328.6h0M244.6 291.7h0M171.4 312.7h0M177.5 311h0M187.2 307.1h0M192 305.1h0M289.1 287.4h0M243.5 291.3h0M76 335.8h0M200.3 301h0M239 296h0M150.3 316.8h0M95.5 331.4h0M72.5 332.2h0M275.3 290.2h0M108.5 331.1h0M181.5 307.8h0M214.7 300h0M208.5 299.5h0M84.8 332.3h0M196.8 305.9h0M69.9 334.8h0M80.5 333.8h0M263.8 290.6h0M268.1 284.8h0M55.8 334.8h0M274.5 285.7h0M117.6 329h0M175.6 310.7h0M262.2 288.1h0M250.4 292.9h0M116.5 327.6h0M230.3 294.7h0M154.7 315h0M96.8 329.3h0M107.9 330.8h0M211 298.6h0M146 321.2h0M248.5 292.5h0M209.4 302.9h0M94.8 331h0M184.3 309.7h0M243.8 290.7h0M77.6 331.8h0M120.9 327.3h0M181.4 307.5h0M120.5 325.9h0M50.2 337.3h0M106.5 328h0M94.6 329.6h0M108.8 330h0M250.9 292.4h0M166 313.9h0M101.8 329h0M252.9 289.9h0M241.8 290.8h0M123.1 324.4h0M121.9 325.7h0M100.5 328.5h0M51.4 332.9h0M68.6 336h0M242.3 292.2h0M119.5 328.2h0M65.3 334.6h0M65.7 334.7h0M162.5 312.6h0M145.9 318.3h0M272.3 284.9h0M76.3 335.1h0M157.8 314.1h0M202.5 302.8h0M121.9 327.5h0M219.6 297.2h0M144.4 320.7h0M263.6 288.7h0M201.9 304.7h0M212.7 300h0M260.7 289.3h0M205.5 303.3h0M172.6 309.7h0M207.3 302.8h0M112.9 328.8h0M171.6 311.9h0M262.6 287.4h0M273.7 286.2h0M208.3 302.8h0M240.7 289h0M98.8 333h0M243.5 292.4h0M223.2 297.1h0M278.7 284h0M119.8 326.2h0M68.3 334h0M155.2 314.8h0M237 297.1h0M203.5 301.2h0M56.1 334.1h0M182 309h0M210.1 298.6h0M107.1 329.5h0M175.1 311.6h0M290.7 287.6h0M224.2 299.1h0M195.5 304.1h0M78.1 331.5h0M144.7 319.5h0M182.4 310.2h0M59 332.2h0M112.3 328h0M121 326.1h0M132.6 321.1h0M175.8 308.9h0M158.6 318h0M51.3 337.1h0M152.5 315.7h0M226.5 296h0M73.7 333.3h0M221.7 298.8h0M129.4 326.2h0M261.4 291.3h0M193 304.2h0M101.3 328.1h0M50.9 332.4h0M123.5 326h0M266.5 292.5h0M174.9 312.9h0M242.9 295.6h0M78.4 330.9h0M88.5 333.8h0M93.3 330.9h0M278 289.9h0M261.4 285.3h0M79.8 331.4h0M92.5 333.3h0M191.2 308.1h0M89.3 329.5h0M200.7 302.6h0M170.6 311.7h0M230.8 292.4h0M195.9 305.2h0M214.4 299.5h0M189.5 305.6h0M212.1 299.7h0M135.3 324.5h0M221.4 295.9h0M159.3 317.2h0M210.4 300.2h0M267.4 291h0M272.6 288.8h0M240 293h0M50.5 332.7h0M74 335h0M235.3 296.9h0M149.3 320.3h0M46.8 335.1h0M67.8 335.3h0M273.9 288.9h0M201.2 302.4h0M197.9 302.1h0M78.5 333.8h0M247.2 287.5h0M264.4 290.2h0M282.4 284.8h0M191.1 303.8h0M127.4 322.7h0M218.3 297.6h0M199.7 302.3h0M58.1 337.4h0M281.6 287.1h0M158.4 315.5h0M208.6 302.5h0M277.4 286.8h0M62.8 333.6h0M128.2 325.1h0M205.1 303.4h0M169.5 310.8h0M208.5 299.9h0M46.8 334h0M228.1 296.9h0M52.4 334.7h0M54.3 336.2h0M285.5 285.2h0M240.1 294.2h0M200.8 301.9h0M240.8 295.5h0M85.2 330.6h0M120.6 325.9h0M166.8 313.8h0M114.4 328h0M74.6 332.2h0M198.9 302.9h0M106.4 328.3h0M126.2 323.6h0M118.5 324.2h0M152 316.4h0M252.6 288.7h0M118.1 327.3h0M246.3 291.8h0M146.1 318.6h0M159.1 315.8h0M159 317.7h0M92 329.7h0M205.1 301.9h0M133.4 323.4h0M171.8 311.2h0M289.8 287h0M248.7 289h0M274.5 284.8h0M84.7 331.7h0M211.5 300.2h0M287.1 287.5h0M215.9 299h0M59.7 337.7h0M221.8 295.8h0M128.5 326.3h0M72.6 334.3h0M235 294.8h0M191.7 307.7h0M148.6 320h0M283.5 290.9h0M193.3 305.5h0M124.1 323h0M157.7 315.5h0M162.6 314.3h0M152.9 316.9h0M65.7 335.9h0M262.1 286.8h0M227.3 294.6h0M207.4 301.6h0M279.8 289.6h0M154.9 317.9h0M195.4 305.5h0M229.9 295h0M235.2 297h0M198.2 303.6h0M94.1 329.8h0M211.9 302.7h0M85.2 334.1h0M130 326h0M153.1 317.6h0M186.7 305.5h0M285.2 285.3h0M113.5 326.3h0M107.8 328.8h0M124 323.7h0M141.1 321.4h0M199 303.5h0M67.2 335.2h0M243.7 292.4h0M127.1 324.7h0M152 318.8h0M121.5 327.4h0M286.4 284.2h0M259.9 289.3h0M172.4 310.3h0M230.9 292.8h0M234.4 297.4h0M269.4 288h0M253.6 288.9h0M247.9 288.5h0M184.2 309h0M53.2 334.7h0M266.2 288.6h0M257.9 292.1h0M217.4 298.2h0M104.6 329.8h0M139.6 323.4h0M211.7 301.5h0M99.1 330.5h0M49.8 333.3h0M252.1 291.5h0M235.6 291.6h0M285.5 286.5h0M95.2 331.4h0M75.6 332.2h0M255.4 287.7h0M220.3 296.1h0M257.5 290.1h0M213.9 296.8h0M141.4 322.7h0M133.7 322.3h0M206.3 302.3h0M264.9 288.9h0M168.2 313.7h0M202.3 303.8h0M132.9 323.3h0M155.4 316.8h0M207.6 299.7h0M145.6 321.9h0M192.8 304.5h0M112.5 328.5h0M96.9 331.7h0M152.7 318.5h0M110.4 329.4h0M272.9 287.3h0M197.4 305.3h0M53.9 336.5h0M119.7 325.8h0M88 332.8h0M229.8 296h0M255.2 288.5h0M169.5 310.7h0M224.7 297.5h0M91.9 330.5h0M285.8 290.4h0M171.6 313.1h0M202.4 301.8h0M227 296.1h0M81.8 330.5h0M209.5 301.5h0M67.6 331.7h0M174.9 311.2h0M151.4 319.3h0M112.2 330.6h0M177.2 310.7h0M97.5 330.8h0M161.4 315h0M144.4 319.8h0M222.7 299.2h0M193.2 305.2h0M256.7 290.1h0M72.7 333h0M179.1 309.4h0M81 331.5h0M261.6 291.7h0M255.9 290.6h0M71.9 331.5h0M275 288.2h0M206.4 301.7h0M87.5 333.8h0M167.1 313.5h0M155.3 316.9h0M146.4 318.8h0M101.7 330.2h0M288.5 286.5h0M128.8 326.2h0M134.1 324.1h0M244.9 292.1h0M74.4 334h0M76.3 335.3h0M158.4 314.3h0M196.7 306.4h0M223.7 296.2h0M192 305.9h0M102.6 327.7h0M135.1 320.8h0M101.5 330.6h0M80.3 333.3h0M147.4 318h0M66.7 331.9h0M152.4 315.7h0M282.4 287.8h0M128.9 322.1h0M218.1 298.3h0M165.7 313.3h0M107.4 328.6h0M175.6 310.6h0M268.6 291.9h0M205.3 303.4h0M174.9 309.3h0M142.1 318.5h0M114.8 327.7h0M208.6 303.1h0M245.9 292.9h0M125.6 325h0M137.6 321.8h0M122 325.5h0M93.1 333.2h0M268 285.2h0M190.1 307.6h0M75.8 331h0M278.6 287.4h0M218.7 297.8h0M260.7 287.5h0M238.7 293.1h0M278.3 285.2h0M50 333.8h0M109.3 327.7h0M277.6 290.7h0M125.2 326.1h0M48.8 333.4h0M138.6 321.2h0M242.7 294.5h0M91.6 329.5h0M212 301.1h0M129.6 323.7h0M146.1 319.1h0M156.7 316.8h0M277.3 284.6h0M269.9 292.3h0M227.3 296.1h0M261.6 290.5h0M204.9 302.1h0M132.7 322.9h0M52.2 336.2h0M62.9 333.2h0M228.6 295.1h0M187.7 308.8h0M125.8 323.2h0M219.3 295.6h0M59.5 336.1h0M258.9 287h0M241.5 290.5h0M104.5 327.7h0M231.2 295.8h0M127.9 326.3h0M142.7 321.5h0M170.7 313.6h0M248.6 289.1h0M141.7 319.2h0M128.2 325.6h0M164.6 314h0M149.8 317.3h0M243.8 292h0M73.3 331.5h0M262 286.9h0M268.2 288.4h0M145.5 318.4h0M90.7 331.3h0M242.7 293.4h0M84.6 333.4h0M245.2 289h0M272.8 286.6h0M191.7 305.1h0M142.4 321.5h0M266.1 289.8h0M244.2 289.5h0M60.8 331.9h0M167.3 313.4h0M280.5 285.9h0M238.4 294.7h0M118.9 325.8h0M173.1 309.1h0M171.2 311.6h0M285.7 288.9h0M76.8 332.3h0M144.4 319.5h0M228.8 298.1h0M216.5 297.1h0M153.5 318.9h0M88.5 331.2h0M100 332.7h0M250.5 290.1h0M148.5 320h0M264.8 286.8h0M130.7 324.6h0M210 300.7h0M222 298h0M279.1 285.2h0"/>
<polyline points="46.5,341.1 47.9,341.1 49.2,341.1 50.6,341.1 51.9,341 53.3,341 54.6,340.9 56,340.9 57.4,340.8 58.7,340.7 60.1,340.6 61.4,340.5 62.8,340.4 64.2,340.3 65.5,340.2 66.9,340 68.2,339.9 69.6,339.7 71,339.6 72.3,339.4 73.7,339.2 75,339 76.4,338.8 77.7,338.6 79.1,338.4 80.5,338.1 81.8,337.9 83.2,337.7 84.5,337.4 85.9,337.1 87.2,336.9 88.6,336.6 90,336.3 91.3,336 92.7,335.7 94,335.4 95.4,335 96.8,334.7 98.1,334.4 99.5,334 100.8,333.6 102.2,333.3 103.6,332.9 104.9,332.5 106.3,332.1 107.6,331.7 109,331.3 110.3,330.9 111.7,330.5 113.1,330.1 114.4,329.7 115.8,329.2 117.1,328.8 118.5,328.3 119.9,327.9 121.2,327.4 122.6,326.9 123.9,326.5 125.3,326 126.6,325.5 128,325 129.4,324.5 130.7,324 132.1,323.5 133.4,323 134.8,322.5 136.2,321.9 137.5,321.4 138.9,320.9 140.2,320.3 141.6,319.8 142.9,319.3 144.3,318.7 145.7,318.2 147,317.6 148.4,317 149.7,316.5 151.1,315.9 152.4,315.3 153.8,314.8 155.2,314.2 156.5,313.6 157.9,313 159.2,312.5 160.6,311.9 162,311.3 163.3,310.7 164.7,310.1 166,309.5 167.4,308.9 168.8,308.3 170.1,307.7 171.5,307.2 172.8,306.6 174.2,306 175.5,305.4 176.9,304.8 178.3,304.2 179.6,303.6 181,303 182.3,302.4 183.7,301.8 185.1,301.2 186.4,300.7 187.8,300.1 189.1,299.5 190.5,298.9 191.8,298.3 193.2,297.8 194.6,297.2 195.9,296.6 197.3,296.1 198.6,295.5 200,294.9 201.3,294.4 202.7,293.8 204.1,293.3 205.4,292.7 206.8,292.2 208.1,291.7 209.5,291.1 210.9,290.6 212.2,290.1 213.6,289.6 214.9,289 216.3,288.5 217.7,288 219,287.5 220.4,287.1 221.7,286.6 223.1,286.1 224.4,285.6 225.8,285.2 227.2,284.7 228.5,284.3 229.9,283.8 231.2,283.4 232.6,283 234,282.5 235.3,282.1 236.7,281.7 238,281.3 239.4,280.9 240.7,280.6 242.1,280.2 243.5,279.8 244.8,279.5 246.2,279.1 247.5,278.8 248.9,278.5 250.2,278.2 251.6,277.9 253,277.6 254.3,277.3 255.7,277 257,276.7 258.4,276.5 259.8,276.2 261.1,276 262.5,275.7 263.8,275.5 265.2,275.3 266.6,275.1 267.9,274.9 269.3,274.7 270.6,274.6 272,274.4 273.3,274.3 274.7,274.1 276.1,274 277.4,273.9 278.8,273.8 280.1,273.7 281.5,273.6 282.9,273.5 284.2,273.5 285.6,273.4 286.9,273.4 288.3,273.4 289.6,273.3 291,273.3" fill="none" stroke="#ff2020" stroke-width="0.95" stroke-dasharray="3.7 2.0"/>
<path class="db" d="M268.6 289.5h0M285.2 285.8h0M70.3 333.3h0M255.4 288.4h0M183 307.9h0M46.6 336h0M224.3 296.5h0M85.9 331.9h0M170.7 312.9h0M136.6 323.4h0M227.4 294.8h0M185.7 307.6h0M104.2 329.6h0M117.9 326.7h0M271.1 289.2h0M210.6 299h0M91.6 332.7h0M259.4 288.5h0M281 288.8h0M241.5 291.7h0M248.1 290.4h0M206.8 300.4h0M87.5 332.9h0M61.4 334.2h0M137.7 322.1h0M266.1 288.8h0M89.3 332h0M271.1 286.9h0M118.8 326.1h0M185.7 307.1h0M54.1 334.7h0M203.9 302h0M56 334.4h0M204.8 302.7h0M162.3 315.8h0M240.1 292.5h0M171.7 311.9h0M95.7 332.1h0M106.5 328.4h0M272.7 289.6h0M172.7 311.8h0M111.7 326.4h0M52 337.1h0M179.8 309.8h0M57.9 333.8h0M222.5 296.9h0M277 287.5h0M80.8 334.8h0M239.6 292.8h0M290.2 286.2h0M126 325.4h0M239.9 293.7h0M216.8 298.5h0M244.9 290.7h0M233.5 293.3h0M88 331.1h0M188.3 306h0M46.7 335.3h0M165.4 315.1h0M218 298.9h0M98.2 330.9h0M117.1 326.1h0M169.3 311.6h0M165.4 313.5h0M70.8 335.4h0M120.6 327.3h0M208.8 300.6h0M156.2 317.4h0M212.7 299.8h0M68.3 335.5h0M265.4 290.8h0M249.3 291.5h0M130.6 322.3h0M284 285.7h0M203.4 301.9h0M161.4 314.9h0M218.5 297.4h0M83.1 331.5h0M153.4 317.8h0M109.8 328.6h0M103.7 330.3h0M139.9 321.8h0M60.1 335.1h0M56.3 334.1h0M138.5 322.4h0M217.7 296.5h0M138.3 322h0M134.1 323.6h0M284.3 288.5h0M172.9 311.5h0M201.2 301.6h0M129.2 324.8h0M134.2 322.3h0M270.5 287.5h0M210.6 301.6h0M88.7 331.4h0M49.3 335.4h0M72.9 335.7h0M61.9 333.8h0M151.1 317.6h0M110.9 328.7h0M159 314.5h0M115.6 327.2h0M125.2 324.6h0M288 286.6h0M193.6 305.2h0M148.2 318.8h0M268.5 287.8h0M284.4 286.8h0M114 326.1h0M237.9 295h0M212.5 299.4h0M208.5 301.2h0M233.5 292.8h0M135.4 322.3h0M120.5 325.7h0M143.4 319.5h0M77.6 331.9h0M49.8 334.2h0M208.6 300.1h0M69.3 332.9h0M213.5 300.4h0M70.6 333.4h0M106.8 329.3h0M60.4 334.1h0M160.5 315.5h0M280.4 286.8h0M215.6 299.2h0M141.5 320.8h0M102.2 330.8h0M128.2 323.6h0M258.7 291.2h0M177.2 310.6h0M269.7 286.8h0M221.2 297.3h0M211.1 301.4h0M266 290.1h0M182.1 309.4h0M64.6 335.5h0M76 334.9h0M162.6 314.6h0M55.4 336.4h0M187.6 306.3h0M88.6 331.5h0M167.3 313.6h0M223 297h0M182.5 308.1h0M238.4 295.6h0M257.9 290.7h0M75.7 333.5h0M145.4 319.6h0M217.7 298.2h0M219.6 296.5h0M142.1 321.4h0M234.7 295.2h0M170.6 311.7h0M161.5 315.9h0M64.5 334.3h0M212.6 300.4h0M141.3 320.8h0M69.6 332.3h0M156.4 316.9h0M92.1 332.6h0M58.7 336h0M109.3 327.9h0M166 312.9h0M208.3 301.1h0M281.2 286.2h0M149.2 318.5h0M259.2 290.4h0M71 334h0M73 333.8h0M66.8 333.6h0M84.6 332.4h0M215.5 297.6h0M74.1 335h0M107.6 329.1h0M246.8 292.4h0M222.4 297.5h0M263.8 288.2h0M110.8 327.5h0M174.8 311.4h0M147.6 318.6h0M206.6 301.3h0M88.7 333.3h0M136.4 321.3h0M125.2 324.7h0M219.3 299.4h0M215.3 297.5h0M276 289.3h0M80.1 331.5h0M128.5 323h0M97.4 331.4h0M178.1 309.5h0M215.7 297.4h0M263.3 288h0M214.8 300.4h0M110.4 328.7h0M234.6 293.9h0M223.5 297.4h0M249.8 292.5h0M62.9 333.1h0M122.3 324.3h0M83.2 332.2h0M79.7 334.5h0M258 289.9h0M244.8 292.6h0M95.9 331h0M280 288.3h0M179.3 310.3h0M90.7 332.6h0M104.7 329h0M126.8 325.1h0M249.9 290.8h0M200.3 303.3h0M53 334.7h0M202.6 302.3h0M72.4 333.9h0M225.5 297.7h0M191.2 306h0M179.6 309h0M285.7 286.7h0M144.7 320.2h0M209.6 299.6h0M277.2 285.6h0M208.6 301.6h0M140.6 320.9h0M284.3 289.3h0M99.3 330.1h0M172.5 312.5h0M274.1 287.1h0M220.7 295.6h0M275.3 286.5h0M240.6 291.5h0M54.3 336h0M116.6 325.9h0M287.6 290.1h0M225.2 296h0M240.8 290.7h0M50.3 335.9h0M260.3 290.8h0M134 323.1h0M120.9 327h0M200.7 303.8h0M84.3 331.2h0M245.4 290.3h0M140.5 321.2h0M249.3 289h0M65.9 334.4h0M89.5 331.4h0M270.4 286.9h0M116.5 327.8h0M214.8 298.5h0M90.5 332.8h0M268.9 289.2h0M220.4 298.3h0M270.2 287.8h0M253 288h0M135.1 322.9h0M281.7 286h0M263.8 288.5h0M240.2 292.8h0M240 293h0M131.4 322.4h0M206 301.5h0M114.3 327.5h0M95.7 330.2h0M84.4 331.7h0M177.8 310h0M75.1 334.7h0M205.2 301.4h0M247.4 291.6h0M159.5 316h0M237.8 293.3h0M207.7 301.8h0M262.9 289.9h0M72.1 333.9h0M254.8 292.5h0M158.1 316.7h0M246.9 293.3h0M56.5 335h0M87.2 332.6h0M149.5 319.2h0M262.2 290.3h0M247.8 292.3h0M85.2 331.1h0M90.2 331.8h0M101.3 330.7h0M139.7 320.9h0M227.8 297.7h0M187.1 307.6h0M134.6 322.1h0M100.6 329.6h0M252.3 291.4h0M78.1 334.2h0M230.4 293.3h0M271.4 288.5h0M69.7 332.3h0M207.3 300.4h0M196.9 305h0M200.8 303.1h0M141.7 321.5h0M84.5 334.2h0M51.3 336.3h0M266.5 291.5h0M162.1 314.6h0M153.2 316.3h0M218.6 296.2h0M180 309.2h0M158.7 314.8h0M197.1 303.7h0M142.6 320.1h0M172.2 312.4h0M287.9 287.6h0M275 287.7h0M287.8 286.1h0M234.5 294.5h0M240.9 292.8h0M157.1 317.2h0M185.8 306.7h0M281.5 285.1h0M138.4 321.6h0M53.4 333.1h0M131.5 321.9h0M139.5 321.1h0M243.5 293.8h0M177 311.1h0M221.6 297h0M117 328.5h0M259.3 289.5h0M166.2 313.2h0M147.5 318.1h0M198.1 303.4h0M167 313.5h0M122.1 325.8h0M91.7 333.2h0M243.3 290.8h0M199.9 303.9h0M196.3 304.5h0M143 319.1h0M240.4 293.1h0M129.7 324h0M177 310.6h0M66.4 335.6h0M146.7 319.9h0M120.9 324.5h0M281.5 288.3h0M100.6 330.3h0M116.2 327.3h0M63.6 334.4h0M85.2 333h0M264 290.1h0M177.6 310.4h0M214.6 300h0M150.9 317h0M202.9 302h0M71.8 333.6h0M143.3 320.1h0M78.6 333h0M144.1 320.6h0M215.6 297h0M109.2 327.7h0M188 306.6h0M63.5 333.5h0M125.5 323.6h0M141.4 319.7h0M57.9 336.3h0M55.8 335h0M124.2 325.3h0M150.4 318.2h0M81.8 334.2h0M48.2 334.9h0M158.3 316.2h0M57.2 333.5h0M82.2 333.9h0M232.7 292.9h0M224.7 297.5h0M88.3 332.1h0M97.7 330.7h0M164.8 313.8h0M156.9 315.3h0M157 315.5h0M47.9 334.9h0M119.6 326.7h0M86 332.7h0M125.7 325.3h0M234.9 295.6h0M113.7 328.3h0M128.7 324.7h0M264.7 288.6h0M230.5 294.3h0M125.3 324.5h0M58.8 334.2h0M230.8 294.2h0M201 301.8h0M169.5 312h0M206.4 300.7h0M158.7 316.1h0M208.2 300.9h0M110.8 328.4h0M254.2 289.6h0M79.7 333.4h0M63.6 333.5h0M116 326.7h0M169.9 312.8h0M55.9 335.6h0M67 333.9h0M251.6 290.9h0M120.8 325.1h0M181.1 309.6h0M150 318.3h0M142.8 319.3h0M66.1 335.4h0M223.8 297h0M174.2 310.8h0M137.9 321.2h0M270.8 286.2h0M170.6 311.4h0M168.6 312.4h0M46.6 334h0M140.6 322.4h0M203.9 302.5h0M55.9 334.7h0M215.7 297.7h0M236.6 293.2h0M200.7 301.6h0M173.6 310.1h0M261.7 290.4h0M229.4 293.3h0M281.5 288.7h0M103.5 330.3h0M148.8 318.7h0M80.2 332.3h0M144 320.3h0M105.9 329.1h0M155.1 315.4h0M220.2 296.5h0M223.9 296.2h0M220.7 296.8h0M58.1 333.5h0M253.6 288.1h0M125.4 326h0M265.3 290.2h0M106.1 330.4h0M80.4 331.3h0M114.3 327.8h0M82.1 332.5h0M136.5 322.5h0M244.3 289.8h0M138.3 320.5h0M76.5 333.8h0M133.1 323h0M139.5 322.7h0M133.8 321.8h0M203.3 302.2h0M269.3 288.8h0M242.4 292.7h0M209.7 300.5h0M165 313.5h0M191.4 305.9h0M56.2 336.1h0M94.9 331.3h0M247.4 292h0M118.7 326h0M196.6 304.2h0M271.1 288.7h0M77.6 332.6h0M232.5 296.1h0M266.9 289.2h0M270.5 289.1h0M52.2 335.3h0M80.3 332.7h0M238 293.8h0M105.5 329.2h0M90.5 331.3h0M110.9 327.5h0M265.9 287.9h0M99.6 329.4h0M195.6 305.4h0M149.7 319.1h0M136.6 322.9h0M242.3 294.2h0M117.8 327.8h0M67.6 333.6h0M118.7 327.8h0M278.6 289.5h0M99.7 330h0M71.2 334h0M171.8 311.1h0M117.8 326.3h0M124.7 324.9h0M239.9 293.2h0M269.6 288h0M160.8 315.1h0M136.1 322.7h0M147.8 319.4h0M57.2 336.2h0M84.8 333.6h0M212.4 299.5h0M138.1 322.4h0M184.8 307h0M56.6 335.2h0M242.4 292.5h0M128.7 324.5h0M176.3 309.3h0M288.2 287.8h0M257 290h0M284.8 286.9h0M195.1 303.8h0M204.3 302.1h0M113.5 328.1h0M227.8 296.2h0M180 309.9h0M162.5 315.4h0M242.4 292.4h0M259.1 291.5h0M139.1 320.9h0M67.3 332.6h0M251.1 293.1h0M117.5 326.8h0M166.7 314.1h0M200.8 303.4h0M47.7 336.2h0M74.7 334.3h0M100.3 328.9h0M225.1 298h0M250 290.7h0M212.8 299.1h0M209.3 301.3h0M106.7 330.7h0M63.5 334.5h0M83 332.9h0M136.6 321.9h0M135.5 322.8h0M87.9 333.2h0M194.7 304.8h0M190.4 306.2h0M76.3 334.2h0M274 290.9h0M285.1 286.9h0M114.6 327h0M260.7 289h0M125 326.3h0M140.9 321h0M78 334.7h0M223.1 296.3h0M124.2 325.6h0M94.4 330.4h0M131.1 322.8h0M136.8 320.9h0M204.8 300.4h0M203.1 303.6h0M53.6 336.2h0M160.6 315.5h0M276.1 289.5h0M115.1 327.1h0M59.7 335.4h0M57.3 334h0M198 304h0M289.2 287.5h0M283.6 288.9h0M227.3 297.3h0M143 320h0M113.6 327.8h0M137.4 322.5h0M105.1 329h0M73.2 335.8h0M236.1 295.4h0M290.9 289.5h0M62.4 333.7h0M257.5 289.4h0M124.8 325.9h0M85.6 333.5h0M170.4 313h0M196.8 304.7h0M136.4 322h0M270.6 289.8h0M69 334.2h0M235.8 292.3h0M232.9 293.4h0M69.7 333.8h0M167.2 313.5h0M143.2 319h0M260.8 287.5h0M194.7 305.9h0M145.4 319.4h0M246.6 291h0M200.6 302.4h0M78.7 333.9h0M91.5 333.2h0M258.9 290.3h0M223.3 296.4h0M190.5 306.1h0M90.4 332.4h0M142.5 319.9h0M197 303.1h0M239.2 292.2h0M264.9 290.5h0M178.3 310.9h0M266 287.2h0M232.6 295.4h0M157.7 314.8h0M286.4 286h0M236.3 293.7h0M256.1 288h0M70.2 333.1h0M144.1 319.5h0M54.5 336.5h0M188.1 307.5h0M267.8 287.4h0M137.9 323h0M179.5 308.5h0M139.4 321.7h0M184.4 307.4h0M280.4 285.8h0M286.6 289.6h0M281.1 289.4h0M220.6 298.4h0M105.6 329.2h0M181.3 309.1h0M81.2 333.6h0M276.1 288.8h0M183.8 307.2h0M179.2 309.2h0M130.5 323.9h0M134.4 323h0M271.9 288.2h0M213 297.8h0M53.4 335.9h0M244 293.9h0M131.4 323.5h0M219.9 299.5h0M79.2 331.9h0M248.6 291.9h0M103 330.3h0M55.4 335.9h0M183.1 307.5h0M83.7 333.3h0M182.3 307.9h0M129.2 324.9h0M195.9 305.7h0M88.4 333.2h0M232.4 293.7h0M247.1 291.5h0M65.6 333.2h0M248.2 289.7h0M155.3 316.8h0M225.4 296.6h0M121.2 326.2h0M105.7 329.2h0M277 287.3h0M192.1 306.3h0M158.2 316h0M229 296.6h0M138.1 322.2h0M231.3 294.4h0M63.9 332.8h0M170.7 312.8h0M49.8 334.1h0M120.4 324.8h0M188.9 307.2h0M97.4 330.9h0M224.7 298.1h0M172.1 310.6h0M281.1 287.6h0M124.3 325.7h0M88.9 330.3h0M103.5 330.6h0M141.4 319.9h0M151 316.6h0M281.2 287.8h0M252.6 291.5h0M66.3 335.2h0M209.6 301.6h0M271.1 289.3h0M203.7 303.1h0M243.5 290.2h0M133.6 324.3h0M175.4 309.7h0M106.8 329.5h0M284.2 289.2h0M59 334.9h0M62.7 334.8h0M96.3 330.1h0M272.4 287.7h0M210.1 301h0M255.3 291.4h0M279.1 287.4h0M172.4 311.8h0M145.8 320.8h0M205.6 302h0M109.1 327.4h0M188.6 306.7h0M284.3 288.1h0M124.5 326.4h0M271.4 289h0M112.6 328.9h0M202 302.2h0M72.9 334.3h0M211.8 299.5h0M181.5 307.7h0M77 334.3h0M64.3 334.8h0M204.4 300.5h0M261.1 286.7h0M84.6 333.4h0M132.3 322.1h0M179.7 308.9h0M161.1 314.1h0M194.8 303.8h0M229.8 295.8h0M59.9 335.4h0M279.6 287h0M148.5 318.8h0M94.9 331.4h0M258.7 292.4h0M116 327.4h0M202 303.1h0M65.1 335.2h0M274.7 289.3h0M141.3 321.5h0M118.9 325.1h0M163.4 312.9h0M268.5 286h0M163.3 314.4h0M126.4 326.3h0M283 285.3h0M104.2 329.4h0M90.4 332.6h0M203.3 301h0M224.3 295.8h0M284.3 285.8h0M255.4 290h0M96.6 329.6h0M165.1 313.9h0M52.4 334.3h0M144.5 319.1h0M214.4 299.6h0M180 309.7h0M257.8 289.6h0M160.1 314.8h0M74.8 335.1h0M250.9 289.7h0M278.2 288.8h0M220.7 297.5h0M179.3 310.4h0M211.7 299.9h0M73 334.3h0M169.8 313.1h0M97.4 331.4h0M192.8 305h0M56.3 333.3h0M80.5 334.4h0M147.2 319.7h0M114.1 328.2h0M101.4 329.4h0M119.7 326.1h0M205.6 301.5h0M214.1 300.7h0M116.3 326.6h0M191.5 305.6h0M119.5 325.8h0M145.7 318.5h0M194 306.5h0M211.6 299.3h0M114.6 326.1h0M110.4 328.2h0M160.6 315.4h0M106.1 329.3h0M53.4 334.2h0M85 331.2h0M164.9 312.7h0M205.3 300.4h0M63.6 333.9h0M69.8 335.1h0M82.3 331.2h0M80.7 334.3h0M189.3 306.5h0M199.8 302.6h0M270.2 285.9h0M93.2 331.8h0M215.2 298.1h0M191.8 305.6h0M209.6 301.4h0M225.6 296.4h0M154.2 318.2h0M124.8 325.9h0M290.8 288.4h0M288.3 285.8h0M134.3 322.4h0M232.9 295.6h0M61.6 336h0M174.6 311.1h0M92.2 330.9h0M177.6 309.9h0M102.2 330.5h0M49.4 336.2h0M207.6 301.3h0M275 290.1h0M173.6 311.8h0M270.7 291.1h0M94.1 330.2h0M260.5 288.9h0M280.9 287.9h0M151.6 318.6h0M242.7 293h0M57.9 333h0M154.2 316.2h0M71.8 335.7h0M153.7 318h0M96.9 330.8h0M159.8 315h0M118.7 325.4h0M193 305.5h0M117.8 327.4h0M139.8 321.6h0M260.8 288.6h0M196.8 305.2h0M88.5 332.1h0M163.7 313.1h0M162.3 315.1h0M272.3 286.9h0M72.4 333h0M194.9 304.4h0M96.8 332.3h0M143.5 320.2h0M218.3 297h0M46.7 335.3h0M74.5 335.3h0M134.2 322.6h0M180.8 308h0M233.2 293.8h0M285.4 290.4h0M67.6 333.5h0M129.3 323.9h0M181.4 308h0M133 323.2h0M125.2 326.4h0M68 333.4h0M251.4 291.2h0M174.3 311.1h0M145.9 320.4h0M188.1 305.7h0M262.5 288.7h0M185.6 307.6h0M63.8 334.4h0M282.1 288.4h0M69.5 334.2h0M78.4 333.6h0M123.7 326.4h0M188.2 305.5h0M199.2 304.7h0M100.6 331.1h0M146.5 320.7h0M67.6 333.8h0M192.2 305.1h0M157.1 316.8h0M247.2 290.8h0M124.6 326.1h0M99 329.9h0M89.5 331.7h0M68.6 334.6h0M66.3 335.1h0M140.4 322.5h0M138.3 321.2h0M136 321.1h0M143.5 320.5h0M203.4 301.5h0M235.1 295h0M280.2 288.6h0M155.8 317.3h0M121.8 325.9h0M194.1 306h0M95.7 332.6h0M123.2 325.9h0M203.3 302h0M72.9 332.2h0M121.6 326.2h0M174.8 310.4h0M124.3 323.7h0M253.6 291.1h0M72.8 333.8h0M254.6 288.7h0M106.1 329.3h0M109.6 328h0M235.9 295.1h0M229.5 294.5h0M107.6 327.7h0M283.5 286.3h0M63.6 333.9h0M228.2 295.6h0M241.3 291.5h0M120.2 326.4h0M117.2 325.3h0M276.6 290.7h0M54.7 334.8h0M159.6 315h0M61 333.1h0M169.4 313.5h0M237.8 292.8h0M185.5 308h0M222.8 297.2h0M150.6 316.8h0M127.7 324.4h0M175.3 309.6h0M252.1 288.8h0M53.8 336.9h0M143.3 321.3h0M93.3 331.6h0M199 304.9h0M178.9 310.1h0M167.4 312h0M199.6 304.3h0M200.3 303.8h0M136.6 321.8h0M178.5 311.1h0M256.1 290.4h0M128.4 324.4h0M51.2 337.1h0M114.2 327.5h0M111.3 328.2h0M264.9 290.1h0M222 298.3h0M111.8 327.4h0M159.3 316.4h0M109 328.4h0M230.9 295.8h0M162.3 314.4h0M53.7 335.6h0M50.9 335.2h0M113.8 327.3h0M239.7 292.7h0M217 296.7h0M213.2 299.2h0M218.6 297.9h0M178.7 309.4h0M255.8 291.1h0M199.7 303.6h0M171.2 310.9h0M220.2 298.3h0M53.6 335.4h0M105.4 329.5h0M280.2 287.8h0M189.9 305.5h0M282.4 289.2h0M190.3 307h0M201 303.4h0M70.2 335.4h0M88 332.2h0M203.6 302h0M91.8 333.3h0M186.4 306.3h0M233.4 293.4h0M224.6 297.5h0M202.4 302.4h0M103.5 329.9h0M87.6 332.3h0M248 290.1h0M221.8 296.1h0M76.3 334h0M251.5 292.4h0M211.8 300h0M238.6 292.3h0M140.1 320.7h0M50.7 335h0M217.5 298.9h0M217.3 297.5h0M183.7 308.5h0M275.8 289.9h0M54 335.6h0M121.8 326.1h0M68.7 334.1h0M122.7 325.2h0M177.6 309.6h0M270.5 288.2h0M97 329.4h0M52.6 334.1h0M102.4 330.5h0M151.3 318.1h0M247.6 291.4h0M181.7 309.6h0M157 315.3h0M171.6 311.9h0M238.7 295.1h0M109.5 329.8h0M119 326.3h0M118.7 327.2h0M127.6 325.6h0M280 290.2h0M77.7 334.3h0M280.3 288.6h0M267.4 287.4h0M103.8 330.3h0M182.9 307.5h0M230.5 295.6h0M177.2 309.1h0M138.1 322.3h0M117.1 327.5h0M161.3 314.2h0M152.9 317.2h0M88.1 332h0M60.2 335.5h0M282.4 290.3h0M228.9 296.3h0M119.5 327h0M286.3 287.8h0M279.5 285.8h0M251.2 290h0M238 292.9h0M122.9 325.2h0M111.5 326.7h0M102.9 331.2h0M116.6 327.1h0M208.5 300.5h0M55 334.1h0M100.6 330.6h0M233.7 294.8h0M210.1 301.7h0M150.4 319.2h0M211.5 300.4h0M124 324.6h0M138.6 321.4h0M133.2 321.8h0M236.4 292.8h0M66 334.1h0M169.5 311.8h0M167.2 312.8h0M222.9 297.5h0M262.1 289.3h0M213.2 298.9h0M86.7 333.8h0M286.8 287.9h0M217 299.5h0M111.7 328.6h0M202.7 301.2h0M70.6 332.2h0M129.1 323.2h0M70.1 333.2h0M290.4 285.5h0M227.5 295.1h0M170.5 312.6h0M59.2 334h0M232.4 295.4h0M150.6 317.3h0M188 307.3h0M191 305.2h0M81.6 332.3h0M238.4 294.5h0M283.3 286.5h0M244.6 290.5h0M92.5 331.8h0M129.5 323.7h0M284.6 288.6h0M72.7 333.3h0M219.4 299.2h0M138.8 322.1h0M160.1 315.4h0M274.6 288.8h0M272.6 290.3h0M81.6 332.8h0M70.4 335.5h0M154.1 317.8h0M63 333.5h0M238.7 293.2h0M112.1 329.3h0M238.7 293.7h0M126.4 326.2h0M262.1 291.9h0M119.2 327.5h0M118.8 327.3h0M175.1 311.8h0M50.2 335.6h0M119.6 325.3h0M143.2 320.4h0M151.3 317.7h0M103.9 328.4h0M259.8 288.2h0M65.1 334h0M174.6 310.8h0M106.4 328.9h0M191.9 307.1h0M167.3 314.1h0M245.1 292h0M112.4 328.1h0M170.2 313h0M245.9 290.8h0M269.5 287.8h0M108.5 329.6h0M65.3 334.5h0M150.2 318.5h0M231.3 294.4h0M181.3 308.3h0M65.1 334h0M220.4 297.7h0M46.8 335.1h0M204.9 301.9h0M228 294.7h0M267.8 288.6h0M114.3 328.2h0M223.6 295.3h0M104.6 330.1h0M179.5 309.4h0M244.1 292.9h0M50.7 335.2h0M215.7 297h0M100 330h0M188.3 306.8h0M278.1 287.8h0M158.7 315.3h0M258.5 290.4h0M204.5 301.4h0M212.3 299.5h0M63.1 334.7h0M94.9 331.3h0M253 290.9h0M233 295.2h0M220.6 296.9h0M176.3 309.2h0M90.4 331.5h0M154.4 316.7h0M174.8 312h0M170.1 311.3h0M244.5 291.9h0M71.1 332.8h0M124.9 325.3h0M79.2 333.9h0M123.7 326.1h0M130.6 323.4h0M217.5 297.3h0M138.6 321.9h0M251.5 291h0M83.6 333.8h0M48.8 334.2h0M180.6 310.4h0M233 294.1h0M177.9 310.1h0M286.9 288.8h0M276 285.7h0M283.6 287.8h0M125.9 325.6h0M251.8 289.3h0M222.6 297.4h0M163.2 315h0M159 315.7h0M265.3 289.8h0M277.1 290.5h0M215.3 300.4h0M158.2 317.3h0M69.5 332.4h0M122.7 326.6h0M255.6 289.3h0M241.8 293.4h0M121.4 324.7h0M175.6 310.5h0M143.8 319.5h0M71.6 332.5h0M132.5 322.5h0M58.6 336.7h0M86 332.4h0M90.6 333.4h0M123.5 324.5h0M176.2 310.4h0M230.6 294.4h0M228.7 293.6h0M135.1 323.5h0M111.7 327.7h0M134 322.7h0M273.5 285.5h0M252.1 289.7h0M161.5 315.5h0M83.3 334h0M85.5 334h0M272.1 287.7h0M209.1 301.2h0M61 332.8h0M224.2 295.9h0M214.1 300.3h0M91.9 330.9h0M171.8 310.8h0M225.7 296.2h0M153.8 316.7h0M283 288h0M242.3 291.3h0M75.3 334h0M182.7 307.4h0M288.8 289.8h0M120.1 326.2h0M71.1 333.1h0M192.1 305.1h0M52.4 335.3h0M205.7 301.2h0M103.7 329.9h0M196 305.5h0M189.8 307.2h0M187.3 307.5h0M290.4 290h0M210.3 299.7h0M77.5 334.5h0M130.1 324h0M164.4 315.3h0M268.2 290.8h0M164.4 314.2h0M99.3 329.7h0M126.4 324.3h0M251.2 291.3h0M197 304.8h0M169.4 312.1h0M226.4 295h0M243.4 290.4h0M167.4 313h0M259.1 289.9h0M59.9 335.9h0M74.9 333.6h0M290.4 287.5h0M73.6 333.7h0M159.2 316.8h0M110.2 327.8h0M258.2 288.9h0M254.6 290.8h0M272 288.4h0M127.7 324.7h0M194.3 303.7h0M153.6 317.9h0M86.1 334h0M279.7 286.5h0M98.4 329.5h0M136 323.5h0M267.5 290.5h0M278.6 288.8h0M60.9 332.8h0M261 289.4h0M98.5 331.5h0M274.2 288.4h0M77.9 332.7h0M248.4 293.3h0M101.6 330.4h0M98.3 330.4h0M93.1 332.2h0M148.6 318h0M104.6 329.1h0M138.7 321.8h0M130.5 323.2h0M259.6 287.8h0M183 309.8h0M69.4 333.3h0M152.7 317.7h0M289.3 289.2h0M231.9 295.7h0M185.1 307.9h0M70 333.1h0M289.4 290.3h0M47.2 336.9h0M48 334.6h0M115.8 327.1h0M222.3 297.8h0M162.8 315.2h0M78.9 333.4h0M73.4 334h0M238.9 294.9h0M92.2 331.3h0M221.4 298.1h0M137.6 321.2h0M132.4 322.8h0M231.6 296.1h0M100.6 330.4h0M214.3 299.1h0M230.3 296.1h0M167 312.2h0M221.2 298.5h0M285.3 289.9h0M218.8 298.1h0M66.7 332.8h0M199.7 303.6h0M243.3 291.8h0M107.3 329.3h0M85.8 331.2h0M233.4 295.8h0M123.3 326.2h0M138.2 323.1h0M95.6 331.2h0M216.3 299.7h0M115.2 327.7h0M186.6 306.8h0M223.6 296h0M94.7 330.1h0M138.6 323h0M159.5 315.1h0M169 313.5h0M196.7 304.1h0M63.5 335.9h0M165.6 314.2h0M118.3 325.3h0M135.8 321.1h0M48.3 334h0M272 287.6h0M83.9 333.1h0M228 297.5h0M157 315.7h0M98 331.7h0M97 329.4h0M140.6 320h0M187.1 307.2h0M53.4 335h0M74 333.5h0M228.6 294.5h0M252.4 290.2h0M201.4 302.8h0M89.4 332h0M98.6 330.2h0M187.1 308h0M61.2 335.7h0M170.7 311.8h0M73.5 335.7h0M215.4 297.9h0M244.5 289.8h0M98.8 330.2h0M150 317.3h0M122.9 325.4h0M98.9 330.7h0M136.4 321.7h0M264.7 288.1h0M47.3 333.6h0M219.2 297.7h0M106.1 328.9h0M223.9 295.8h0M259.1 287h0M184 307.4h0M184.7 307.4h0M162.1 315h0M214.7 299.5h0M114.9 327.4h0M130.4 324.7h0M246 291h0M222.5 298h0M134.3 321.6h0M173.8 311.1h0M270.7 287.9h0M173.5 311.1h0M58.9 335h0M176.8 311.5h0M270.5 288.5h0M164.7 312.6h0M164.5 313.9h0M68.5 334.2h0M212.4 298.4h0M69.1 335.9h0M106.4 328h0M76.2 335.2h0M230.6 293.5h0M290.7 284.9h0M137.5 323.1h0M105.9 329.9h0M147.1 320.2h0M224.1 297.3h0M70.7 335.5h0M287.1 287h0M153.5 317h0M142.9 320.3h0M154.6 317.2h0M87.2 332.7h0M148.8 319.4h0M253 289.5h0M97.9 330.7h0M189.7 306.2h0M192.7 306.2h0M194.1 304.8h0M157.5 316.1h0M161 314.4h0M248.1 290.3h0M188.8 305.6h0M246.5 290.6h0M176.3 311.7h0M226.1 295.1h0M225.8 296.8h0M220.6 297.5h0M257.8 289h0M213.9 299.3h0M257.3 288h0M144.3 321.2h0M83.2 331.4h0M259.8 288.4h0M253.1 289.1h0M175.5 310.3h0M126.1 325.2h0M54.7 334h0M111.7 326.7h0M107.3 329.4h0M47.4 335.8h0M253.1 289.7h0M259.7 286.9h0M118 325.5h0M93.9 331.1h0M269.5 288.4h0M262.8 288.9h0M261 290.7h0M101.2 328.4h0M187.5 306.7h0M226 295.2h0M233.8 295.6h0M70.1 335.1h0M124.3 325.7h0M221.9 296.6h0M98.9 330.4h0M114.1 328h0M261.7 291.5h0M209.9 302h0M191.4 305.3h0M72.6 335.3h0M61.1 335.1h0M187.1 306.5h0M254.8 291.5h0M189.4 306.2h0M74.5 333.4h0M113 328.4h0M263.1 286.7h0M55.3 335h0M161 313.9h0M178.3 308.8h0M214 300.9h0M132.8 324.1h0M268.7 286h0M197.6 303.6h0M83.9 332.8h0M54.6 335.6h0M281.4 289.9h0M193.5 304.2h0M55.8 336.9h0M46.5 335.7h0M65.4 335.3h0M70.2 334.5h0M85.3 332.7h0M230.6 295.9h0M256.6 288.2h0M57.2 335.9h0M159.1 316.9h0M242.5 293.6h0M277.6 288.6h0M79.6 333.2h0M93.2 331.3h0M148.7 318h0M252.7 289.5h0M156.3 315.9h0M64.3 334.3h0M233.3 293.4h0M62.3 333.4h0M255.7 288.1h0M206.3 301.1h0M284 289.2h0M98.3 329.2h0M191.8 306.4h0M60.5 334.2h0M128.5 323.9h0M99.4 332.1h0M138.7 320.3h0M163.3 315.7h0M77.3 334.1h0M131.5 322.6h0M253.9 290.1h0M168 314h0M182.9 307.8h0M170.8 311.7h0M198.8 303.4h0M259 289.2h0M187 306h0M150.4 317.2h0M237.8 294.7h0M129 324.8h0M171 310.7h0M182.3 308.2h0M279.7 285.6h0M236.5 292.9h0M231.2 295.1h0M237.7 292.2h0M284.7 288.2h0M80.9 333.1h0M94.4 331.2h0M175.7 310.7h0M107.4 330.2h0M179.5 309.4h0M207.1 301.5h0M231.7 293.5h0M255.6 290.6h0M245.6 292h0M117.1 328h0M282 287.2h0M74.7 333h0M220.4 297h0M83.7 333.1h0M49.8 334.1h0M106.2 329.8h0M242.4 292.8h0M289.4 289.4h0M56.5 336h0M152.9 316.7h0M262.4 290.4h0M237.9 294.5h0M164.2 314.2h0M288.4 287.2h0M78.2 333.4h0M88.9 333.6h0"/>
</g>
<clipPath id="c4"><rect x="377.5" y="215.5" width="244" height="151"/></clipPath>
<g clip-path="url(#c4)">
<path class="dg" d="M459.7 310.6h0M421 322.9h0M446.2 314.7h0M485.6 301.3h0M476 303.7h0M380.4 326.3h0M545.6 279.3h0M451.6 314.4h0M577.6 248.8h0M489.9 298.3h0M554.5 261.9h0M455.2 313.5h0M455.9 312.3h0M392.3 327.4h0M595.1 257.4h0M456.8 312h0M512.9 289.7h0M535.8 274.2h0M606.1 259h0M441.1 318.6h0M419.6 323.4h0M534.8 284.7h0M518.4 282.4h0M457.1 311.7h0M397.6 323.6h0M478.1 304.3h0M542 266.5h0M570.9 259.3h0M387.6 326.3h0M498.3 292.8h0M485.8 294.9h0M392 326.6h0M520.7 284h0M448.3 314.7h0M499.3 291.6h0M540.7 273.9h0M392.8 327.9h0M470.8 306h0M525.8 276.8h0M603.9 258.8h0M432.5 320.1h0M484.7 302.5h0M389 325.6h0M390.4 326.5h0M576.3 257.1h0M548.3 259.9h0M535.6 273.5h0M582.2 247.3h0M529.5 282.7h0M388.1 326.1h0M484.6 299.6h0M493.9 293.6h0M529 277.1h0M435 318.4h0M470.7 306h0M387.7 327.5h0M416.8 325h0M576.9 248.3h0M600 251.6h0M388.4 324.7h0M574.4 238.5h0M525.6 272.4h0M415.4 323.8h0M425.7 321.3h0M466 306.2h0M569 260.1h0M599.4 262.2h0M390.2 325.9h0M558.3 265.3h0M490.8 298h0M487.4 295.9h0M619 261.9h0M455 313.1h0M475.7 304.9h0M544.7 267.8h0M594.3 232.8h0M524.5 284.6h0M455.9 312.6h0M403.6 327.1h0M431.3 318.9h0M532.1 273h0M509.6 288.9h0M535.9 273.2h0M379 329.3h0M379.4 326.1h0M528.8 272.7h0M457.6 310.1h0M479.1 299.8h0M503.1 286.2h0M530.5 276h0M496 295.6h0M585.2 248.9h0M551.4 264.3h0M422.1 323.6h0M573.5 265.9h0M423.7 321.5h0M567.5 262.1h0M565.4 259.8h0M581.4 260.5h0M494.6 294.5h0M509.5 281.4h0M572 265.3h0M576.2 256.6h0M404.7 325.1h0M418.7 323.7h0M458.3 309.5h0M398.2 327.5h0M383.7 327h0M505.3 288.9h0M603.5 258.5h0M447.5 315.1h0M557.6 270.8h0M415.2 322.3h0M523.7 279.8h0M528 286.9h0M573 255.4h0M428.2 321.1h0M380.7 329.5h0M381.3 327.8h0M408.1 324.7h0M417.8 323.4h0M516.6 290.7h0M510.1 294h0M480.1 300.9h0M503.2 286.7h0M457.7 311h0M565.8 272.9h0M542.2 266.9h0M469.1 308.3h0M438.2 317.4h0M609.9 258.5h0M504.8 289.8h0M513 290.3h0M457.7 312.6h0M584.4 271.1h0M503.7 289.8h0M439.7 318.3h0M518.2 275.2h0M391.7 327.4h0M597.4 249h0M489.2 298.7h0M585.2 246.4h0M400.7 327.9h0M472.5 304.8h0M524.8 281.2h0M452.6 313.9h0M621 257.7h0M547.8 261.1h0M562.8 262h0M461.3 311.3h0M466.7 309.2h0M602.5 251.5h0M437.8 317.8h0M521.9 285.8h0M573.6 253.8h0M606.7 256.3h0M553.9 272.8h0M457.1 310.7h0M608.9 252.5h0M484.1 297.9h0M481.8 300.9h0M382 326.4h0M581.1 246.6h0M617.7 242.7h0M433.8 320.1h0M509.8 279.2h0M613.4 235.7h0M494.1 294.7h0M436.2 319.1h0M444 315.4h0M588.8 251.8h0M380 327.9h0M381.2 326.4h0M506.7 289.6h0M603.8 245.2h0M539.8 256.3h0M389.1 330h0M421.9 322.6h0M574 256.6h0M474.3 304.6h0M382.3 329.2h0M489.4 296.3h0M575.4 249.5h0M490.8 300.2h0M432.5 320.3h0M383 327h0M600.7 257.1h0M458.9 309.2h0M536 270.2h0M582.9 241.2h0M565 261.6h0M489.9 296.4h0M440.8 318.1h0M556 274h0M618.5 231.8h0M593.6 243.4h0M529.4 283.2h0M545.9 266.1h0M584.5 254.5h0M532.6 269.8h0M378.9 329.2h0M447.9 314.6h0M489.6 297.8h0M563.6 254h0M434.1 319.3h0M613.5 257.2h0M533.2 285h0M579.8 246.3h0M540.2 258.1h0M389.3 325.8h0M475.2 303.6h0M607.5 242.5h0M438.4 318h0M474.7 304.4h0M570.4 260.1h0M418.7 322.7h0M472.3 304.4h0M410.5 325.8h0M501.7 291.1h0M541.9 270.1h0M548.2 273.7h0M545.4 271.5h0M592 243.4h0M388.8 327.1h0M402.6 326.2h0M439.7 319.1h0M412.5 325.3h0M606.2 256.8h0M380.7 327h0M380.8 329.6h0M429 321.1h0M463.5 308h0M410.9 324h0M530.8 281.8h0M460.8 310.8h0M485.7 299.3h0M386.6 325.1h0M509.4 290.8h0M527.7 275.7h0M412.9 324.9h0M519.1 277.7h0M381.3 328.9h0M575.1 258.3h0M404.2 327.7h0M492.4 297.7h0M471.2 306.1h0M563.3 262.9h0M612.5 263.3h0M586.3 247.2h0M412 324.9h0M554.8 253.3h0M394.9 327.3h0M588.5 247.2h0M565.9 266.1h0M448.3 315.2h0M387.3 326.2h0M506.7 290.4h0M448.2 314.3h0M489.4 296h0M432.7 319.6h0M620.5 250.3h0M544.9 269.9h0M473.8 303.6h0M392 325.4h0M589.3 234.7h0M569.6 256.2h0M517.1 279.6h0M522.4 276.6h0M582.7 251.1h0M604.2 265.6h0M608.4 250.5h0M548.4 263.9h0M449.5 313.6h0M450 313.7h0M473.5 306.8h0M461.8 309.2h0M492.1 295.5h0M456.5 311.2h0M557.6 263.1h0M403.8 326.9h0M386.9 328.4h0M621.2 249.9h0M575.2 249.9h0M533.2 275.8h0M417.2 322.9h0M547 276.7h0M515.3 289.3h0M584.9 271h0M527.8 273.5h0M621.3 251.9h0M399.6 327.4h0M389 328.8h0M378 327.3h0M434.9 318.8h0M618.5 250.3h0M442.3 317.1h0M397.9 326.9h0M598.2 241.4h0M550 259.4h0M565.7 268.1h0M503.9 284.1h0M455 312.4h0M430.4 320.1h0M469.2 308.2h0M600.7 246.7h0M495.4 295.1h0M566.6 259.6h0M386.2 327.1h0M618.5 263.2h0M566.6 277h0M486 302.9h0M383.9 328.9h0M539.1 272.7h0M601.3 253.4h0M573.9 263.4h0M553.2 265.3h0M439.9 317.5h0M398.1 328.4h0M589.4 253.3h0M387 326.2h0M407.5 324h0M572.7 259.6h0M533.5 277.3h0M566.5 260.9h0M574.6 262.9h0M571.6 273.4h0M429.6 320.3h0M472.3 303.4h0M575.1 250.4h0M408.8 327.4h0M616.5 235h0M538.5 269.4h0M591.6 253.4h0M562.7 257.4h0M484.9 300.5h0M618.6 254.4h0M587.8 257.7h0M387.5 327.8h0M538.8 275.5h0M489.5 295.7h0M529.6 282.9h0M388.1 326.7h0M613.1 265.3h0M507.6 284.2h0M597.1 243.5h0M404.9 326.5h0M533.5 278.2h0M603.2 252.4h0M546.9 265.4h0M381.8 327.3h0M507.4 287.9h0M417 325h0M531.5 268.7h0M463.6 310.4h0M428.4 320.5h0M465.7 310.2h0M424.5 320.9h0M522.4 282h0M516.8 284.1h0M473.9 305.3h0M494.9 294.3h0M464.6 308.8h0M401.1 328.2h0M430.7 321.9h0M575.9 255.3h0M601.4 248.1h0M393.1 324.6h0M476.5 301.5h0M414.7 325.9h0M492.1 298.4h0M460.5 310.8h0M586.7 251.3h0M493.6 296h0M392 325.1h0M525.8 275.2h0M419.5 323.5h0M593.3 260.9h0M402 327.4h0M380.3 327.1h0M434.5 317.9h0M382.1 328.9h0M609.8 245.1h0M582.8 269.3h0M404.4 325.3h0M509.6 286.1h0M403 324h0M604.5 252.3h0M592.3 241.7h0M407.7 325.2h0M503.9 290.4h0M596.7 266.1h0M611.8 259.6h0M589.1 253.7h0M468.8 306.3h0M437.4 317.4h0M530.8 281.9h0M590.4 258.5h0M580.8 262.4h0M548.7 269h0M559.8 275.3h0M578.7 255.3h0M560.3 263.3h0M438.6 318.8h0M531.1 274.4h0M588.4 263h0M565.8 270.8h0M525.1 286.1h0M594.2 250.3h0M564.4 254.4h0M604.4 247.9h0M448.3 314h0M433.1 320.2h0M515.2 285.5h0M529.6 282.9h0M506.1 289.1h0M446.3 314.8h0M585.5 254.4h0M546.7 269.6h0M499.5 298.2h0M530 278.8h0M591.2 253.1h0M587.3 265.1h0M487.3 297.8h0M400 326h0M597.2 249.8h0M387.9 324.1h0M574.8 256.1h0M518.3 282.2h0M419.9 323.5h0M393.6 328.8h0M391.2 326.5h0M498.5 291.7h0M476.2 300.9h0M517.5 283.8h0M431 319.3h0M403.5 325.5h0M475.5 304h0M540.8 271.8h0M417.6 323h0M388 327.3h0M511.7 286.7h0M511 294.6h0M467.8 309h0M385.9 327.8h0M399.6 326.1h0M443.1 316.6h0M468.5 308.6h0M532.5 286.8h0M526.4 277.5h0M616.6 249.8h0M515.1 281.6h0M443.4 314.7h0M554.2 255.7h0M561.2 267h0M457 311.8h0M428.4 319.2h0M604 258.5h0M450.6 314.1h0M612 258.2h0M548.5 261.4h0M565.9 252.3h0M471.3 305h0M496.6 293.1h0M548.4 269.7h0M616.1 257.8h0M571.7 271.5h0M465.6 307.3h0M533 274.7h0M394.3 328.7h0M390.9 325.9h0M471.6 306.1h0M537.5 277.3h0M454.7 312.7h0M392 330.1h0M403.8 323.8h0M467 306.1h0M594.7 266.7h0M579.5 256.7h0M609.4 244.1h0M453.1 312.1h0M595.1 245.5h0M388.8 326.9h0M487.1 297.2h0M457.3 311.4h0M426.4 321.3h0M588.9 248h0M596.1 251.2h0M439.4 318.7h0M590.2 263.1h0M527.3 278.1h0M536.8 273.7h0M425 323.2h0M473.6 303.4h0M590.2 265.8h0M531.6 285.6h0M491.9 295.2h0M453.4 312.5h0M432.2 321.9h0M518.3 281.7h0M547.6 265.8h0M614.8 259.8h0M455.2 311.8h0M467.4 306.9h0M510 285.2h0M610.4 249.6h0M409.8 325h0M616 257.3h0M491.7 295.9h0M584.4 259.9h0M388.5 325h0M600.5 258.5h0M531.2 268h0M496.7 295.1h0M377.9 326.5h0M540.5 275.3h0M514.5 286.9h0M596.9 247.7h0M513.2 285.1h0M535.6 263.8h0M531.6 277.7h0M452.4 312.7h0M545.9 268h0M491 300.5h0M385.4 328.9h0M564.8 269.6h0M489.5 297h0M504.2 290.1h0M480.2 303.3h0M440 316.8h0M596.2 247.1h0M552.9 261.8h0M474.9 304.7h0M528.2 272.2h0M460.7 308.8h0M517.3 284.4h0M528.5 281.5h0M388.3 327.6h0M589.5 255.2h0M490.2 296h0M596.9 250.3h0M433.6 320h0M499.8 296.6h0M491.9 294.1h0M440.5 317.8h0M428.5 319.5h0M541.2 273.7h0M538 279.2h0M581.4 254.3h0M459.3 310.8h0M390 324.8h0M576.5 259.3h0M535.5 272.2h0M543.5 274h0M495.8 296.7h0M524.3 279.7h0M534.4 273.4h0M558 277.8h0M566.4 261.3h0M592.1 252.8h0M394.7 326.9h0M422.1 324.2h0M547.6 278.1h0M415 323.7h0M605 245.4h0M399.2 326.1h0M506.3 288.5h0M507.5 293h0M398.9 328.4h0M565.5 274.3h0M388.4 328.1h0M479 302.4h0M548.3 264h0M514.6 285.6h0M606.1 242.1h0M478.9 302.8h0M559.4 259.4h0M478.6 301.8h0M504.4 289.7h0M511.7 285.6h0M614.1 250.3h0M593.3 253.9h0M572.7 266.3h0M402.7 328.3h0M460.8 311.6h0M423.8 322.4h0M620.2 258h0M394.5 326.3h0M532.8 273.4h0M555.9 260.3h0M580.3 247.7h0M416.4 324.2h0M435.1 318.5h0M403.7 325.6h0M580.4 250.6h0M593.2 253.2h0M496.5 293.6h0M617.9 247h0M422.7 322.2h0M492.3 297.4h0M434 319h0M508.6 288.3h0M554 272.6h0M442.5 318.4h0M477.9 301.1h0M487.4 301.9h0M614.4 252.2h0M508.3 287.4h0M503.1 288.1h0M405.2 323.2h0M539.3 280h0M511.5 279h0M584.2 261.9h0M595.1 251.7h0M604.9 273.2h0M564.6 258.4h0M585.5 251.6h0M500.3 293.7h0M609.5 267.2h0M515.8 287.9h0M552.9 275.7h0M440.3 317.2h0M394.8 325.4h0M468.2 306.6h0M414.4 325.3h0M410.8 326.7h0M454.8 311.4h0M563.5 256h0M412.1 324.8h0M611.9 242h0M486.3 296.3h0M389.9 326.7h0M397.9 325.3h0M590.2 250.7h0M426.8 320.8h0M499.9 290.4h0M436 319.2h0M407.3 325.3h0M462.4 309.2h0M450 314.9h0M464.8 309.2h0M421 323.6h0M559 268.3h0M467.3 307.6h0M609.1 251.1h0M543.2 276.3h0M424.5 320.5h0M475.3 305.5h0M431.9 319.6h0M399.3 327.3h0M430.6 321.2h0M507.5 285.5h0M510.4 281.3h0M381.6 328h0M610.6 253.6h0M586.4 270.7h0M617.7 250.1h0M548.4 279h0M598.4 248.5h0M518.1 284.9h0M555 277.1h0M541.1 268.1h0M487.1 297.2h0M448.2 313.9h0M508.8 288.2h0M533.5 268.2h0M418 323.9h0M382 326.5h0M401.4 326.6h0M559.8 265h0M390.2 325.4h0M419.1 322h0M419.4 322.9h0M440.2 317.1h0M433.3 321h0M469 305.6h0M618 245.6h0M391.5 328.6h0M555.2 270.9h0M574.4 252.6h0M587.9 254h0M541.6 275.2h0M602.2 243.6h0M407.8 324.8h0M539.1 270.8h0M433 321.3h0M402.2 326h0M534.3 281.1h0M569.9 256.5h0M380.5 328.8h0M410.3 324.5h0M608.9 242.4h0M519.2 286.1h0M454 312.9h0M549.3 270.5h0M505.9 292.1h0M406.3 323.6h0M556.5 257.2h0M597 259.5h0M406.1 327.4h0M453 313.9h0M477.4 304.1h0M459.7 310.3h0M408.3 324.5h0M544.9 264.4h0M409.9 324.4h0M393.1 326.6h0M506.9 289.7h0M418.7 323.8h0M587.8 243.5h0M541.8 271.3h0M477.7 305h0M592.5 255.6h0M469.1 308h0M403.9 324.4h0M584.2 254.1h0M606.7 245.6h0M399.3 324.8h0M613.8 244.7h0M601.4 264h0M610.6 258.3h0M515.9 283.6h0M419 322.9h0M412.5 323.1h0M493 293.3h0M492.8 296h0M566 258.9h0M537.7 276.5h0M558.6 265.4h0M498 292.2h0M547 276.9h0M432.5 319.7h0M561.9 261.9h0M491.7 296.9h0M607.5 248.8h0M564.5 265.1h0M507 286.1h0M459.6 310.4h0M500.1 290.1h0M412.2 325h0M545.5 273.4h0M533.9 276.4h0M427.3 321.6h0M385.6 329.3h0M562.4 267.1h0M496.9 292.4h0M454.9 312.3h0M436.2 319.8h0M389.8 328.5h0M463.1 308.4h0M611.9 243.5h0M552.3 263.7h0M526 283h0M396.7 325.9h0M396.9 326.5h0M523.2 280h0M514.5 290.3h0M585.1 255.3h0M534.7 274.5h0M607.9 265.6h0M446.1 313.8h0M383.9 327.6h0M436.2 318.5h0M404.6 325.8h0M429.3 320.7h0M586.3 251.1h0M565.9 253.8h0M511.6 279h0M516.5 280.2h0M465.7 310.6h0M407 325h0M606.3 252.1h0M434.6 318.6h0M481.2 300.8h0M499.4 293.1h0M587.6 243.1h0M486.5 299.5h0M390.3 326.7h0M552.8 272.5h0M489.3 295.9h0M474.4 302.9h0M513 288.5h0M387.9 328.9h0M502 288.9h0M557.9 264.3h0M603.1 267.5h0M527.1 281.4h0M596.7 261.2h0M441.6 316.2h0M554.7 259.2h0M388.8 327.9h0M518.7 292.1h0M528.4 278.9h0M416.2 325.1h0M619.3 248.4h0M593 247.4h0M559.3 275.7h0M552.3 265.5h0M413.6 324h0M386 327.9h0M526.7 279.7h0M463.6 310.5h0M521.5 275.5h0M505.7 286.7h0M540.5 271.4h0M400.2 327.3h0M499.1 296.3h0M559.9 260.7h0M385.3 327.1h0M481.3 304.5h0M598.1 266.2h0M568.5 257.3h0M558.2 276.4h0M464 307.7h0M605.1 238.1h0M604.8 234.9h0M453.8 312.8h0M589.6 247.5h0M569.4 259.8h0M457.1 312h0M568.1 256.7h0M619.6 250.3h0M521.5 273h0M434.8 318.5h0M610.5 245.4h0M463.6 309.8h0M430 319.2h0M426.9 321h0M595.3 252.8h0M397.4 327.5h0M407.3 323.4h0M410 326.1h0M415.3 323.5h0M548.7 262.9h0M453.3 312.2h0M437.5 318.4h0M443.3 315.8h0M390.9 327.6h0M480.5 301.8h0M543.4 277.3h0M428.1 321.4h0M473.1 304h0M485.1 300h0M542.3 279.1h0M476.1 304.2h0M457.9 310.9h0M560.7 273.4h0M460.8 311.3h0M421.4 322.6h0M583.5 254.3h0M604 275.3h0M463.2 310h0M589.2 245.6h0M475.6 304.2h0M494.1 291.8h0M437.1 320.3h0M558.9 260.2h0M495.7 294.5h0M455 312.8h0M510.9 285.8h0M525.8 273h0M453.4 313.8h0M520.2 272h0M588.5 276.8h0M449.3 313.2h0M607.5 261.4h0M393.6 326h0M621.1 243.2h0M587.6 255.3h0M472.1 306.4h0M451.7 313.3h0M385.7 328.2h0M424.6 321.4h0M433.8 317.1h0M601.4 255.6h0M528.6 272.9h0M506.3 290.9h0M471.6 305.1h0M516.1 287.8h0M512.6 293.4h0M588.5 266.2h0M548 267.5h0M468.8 305.6h0M491.3 300.5h0M571.1 262.8h0M572.8 258.3h0M393.3 328.3h0M517.9 278.9h0M415.7 322.8h0M518.6 284.4h0M584.9 259.7h0M602.2 242.8h0M608.8 249.1h0M576.4 247.5h0M519.7 282.2h0M519 286.5h0M461.4 310.1h0M529.3 283.3h0M619.3 260.3h0M557.7 257.9h0M457.7 310.4h0M507.3 287.3h0M552.6 269.4h0M494.6 297.2h0M543.2 279.4h0M467.8 308.3h0M579.9 249.7h0M557 257h0M450.6 313.6h0M500.9 291.5h0M596.8 252.2h0M493.9 297h0M504.9 296.3h0M571.3 255.3h0M498.9 295.9h0M534 265.9h0M519.1 280.8h0M607.6 254.2h0M566.9 267.6h0M473.2 306h0M605.4 266.1h0M519.4 285.2h0M506 291.1h0M611.6 262.7h0M546.4 277.2h0M492.9 301h0M585.5 268.1h0M393.5 327.4h0M477.9 304.3h0M522.6 281.1h0M417.7 324.6h0M470.8 303.9h0M526.8 268.8h0M378.1 328.7h0M389.3 327.2h0M386.4 326.7h0M530.4 280.8h0M424.7 321.8h0M465.1 308.3h0M599.5 245.7h0M605.8 246.8h0M576.9 260.6h0M557 260.3h0M604 254.3h0M436.4 318.3h0M618.4 257.8h0M490.4 297.6h0M575.5 258.2h0M479.5 303h0M501.1 295.4h0M396.6 327.8h0M613.2 251.3h0M469.5 306.7h0M567.4 254.1h0M379.9 327.7h0M381.2 327.4h0M556 274.5h0M574.9 247.5h0M428 323h0M463.5 310.6h0M574.7 259.3h0M609.7 247.8h0M601.3 252.3h0M465.1 306.7h0M396.1 329h0M538.2 280.5h0M590.1 251.1h0M616.8 264.1h0M520.2 281.6h0M411.5 326.1h0M479.9 299.8h0M470.9 305.8h0M434.2 319.1h0M507.4 291.7h0M457.6 311.3h0M481.5 301.3h0M492.6 292.8h0M444.1 317.4h0M416.8 325.5h0M542.7 269.7h0M515.4 280.7h0M434 318.8h0M576 252h0M477.1 301.8h0M380.4 327.5h0M383.4 326.1h0M407.4 323.8h0M492.5 296.3h0M592.7 233.6h0M415.6 324.2h0M448 313.9h0M610.9 254.5h0M420.5 322.9h0M500.7 292.3h0M613.6 260.8h0M571.3 255.9h0M586.1 248.9h0M578.2 255.7h0M560.2 263.8h0M563.9 258.5h0M460.4 309h0M529.3 276.7h0M502.7 295h0M612.8 254.2h0M437.8 318.4h0M529.9 274.8h0M462.5 309.3h0M509.8 291h0M567.5 265.4h0M478.4 300.8h0M541.8 275h0M429.5 320.3h0M591.7 257.1h0M590.3 269.8h0M409.1 324.8h0M433.9 319.8h0M598.3 231.1h0M474.5 305.1h0M426.1 321.9h0M405.7 326.9h0M524.2 289.3h0M383 327.8h0M525.6 278h0M415.5 324.5h0M579.5 244.1h0M461.6 308.3h0M393 327.9h0M584.1 262.5h0M380 326.8h0M385 325.7h0M605.2 249.5h0M472.5 304.3h0M386.2 330.4h0M531.4 273.1h0M519.9 280.4h0M572.1 254.1h0M397.1 327.9h0M439.4 319.5h0M393.6 328.4h0M439.9 319.2h0M476.5 303.8h0M471.3 306h0M398.7 326.7h0M466.3 308.4h0M429.9 320.7h0M448.7 315.1h0M518.8 282.4h0M431.9 320.8h0M429.7 318.2h0M387.8 327.9h0M565.6 250.3h0M383.9 329.6h0M509.8 288.6h0M414.9 322.9h0M538 262.9h0M581.7 266.4h0M450.2 315.3h0M487.5 300.2h0M585.3 267.3h0M378.1 328.9h0M489.9 297.5h0M521.4 279h0M599.7 237.7h0M567.1 253.8h0M413.8 324.4h0M548.1 275h0M552.7 268.3h0M575.5 263.4h0M384.7 327.2h0M490 297.3h0M611.4 231h0M545.9 267.3h0M520.3 279.6h0M392 327.6h0M478.2 302.5h0M386.8 324.4h0M395.7 325.7h0M545.3 277.8h0M600.3 254.4h0M422.7 322.3h0M389 329.9h0M468.5 307h0M530.4 281h0M557.7 263.5h0M418.6 324.6h0M383.5 325.2h0M516.3 279.6h0M402.8 324.7h0M490.6 298.9h0M491.3 297.1h0M576.9 252.3h0M575.8 250.4h0M600.6 248h0M598.9 267.3h0M602.1 247.9h0M552.4 266.4h0M482.7 300.4h0M605.9 231.5h0M386.8 329.5h0M618 271.9h0M482.5 299h0M493.3 292.7h0M516.1 283.7h0M475.5 303.5h0M405.7 325.8h0M417.2 323.1h0M548.7 259.2h0M562.7 245.7h0M614.9 233.4h0M561.5 272.4h0M550.4 264.2h0M440.5 316.7h0M542.4 269.7h0M498.5 294.4h0M416.7 324.3h0M387.2 327.7h0M517.4 289.7h0M553 263h0M514.3 290h0M464.7 308.2h0M504.2 290.3h0M511.7 287.8h0M449 315.9h0M435.4 320.3h0M387.7 324.5h0M431.1 320h0M570 275.9h0M405.7 326.5h0M452 313.6h0M454 314.2h0M611.5 260.5h0M382.1 329.4h0M408.3 323.7h0M601.7 251.3h0M552 267.7h0M400.1 325.3h0M382.9 327.4h0M522.1 276h0M491.3 300h0M462.6 309.4h0M549.1 265.2h0M618.2 248.8h0M579.1 267.4h0M467.8 307.2h0M377.9 328.7h0M544.1 261.9h0M613.9 255.9h0M420.2 324.5h0M476.5 305.2h0M407.7 325.9h0M451.5 313.9h0M585.1 253h0M544.1 268.6h0M403.9 326.4h0M464.1 310h0M612.7 229.4h0M581.2 263h0M528.6 277.7h0M600.5 255.4h0M415.1 323.5h0M615 252h0M449.5 314.7h0M400.6 326.8h0M492.5 295.4h0M379.8 326.8h0M446.3 314.9h0M492.6 298.5h0M468.6 308.1h0M568.8 244.1h0M518.7 286h0M476.6 306.2h0M508.5 289.5h0M532.7 275.5h0M402.9 327.9h0M446.8 315.6h0M417.6 323.5h0M441.6 317.9h0M431.6 319.7h0M455.4 311.6h0M582.9 267.4h0M571 258.6h0M612.3 262.6h0M501.8 292h0M558.7 253.7h0M541.4 271.9h0M378.5 330.1h0M383.5 327.4h0M585.5 265.6h0M379.5 330.7h0M475.8 304.5h0M472.6 306.3h0M521 291.2h0M454.7 313.3h0M453.4 314.6h0M411.2 325.8h0M424.6 320.8h0M416.7 323.5h0M482.2 299.9h0M604 257.9h0M469.4 308.3h0M408 324.9h0M608.7 260.6h0M542.2 271.5h0M557.5 264.3h0M599.2 240.9h0M542.7 264.7h0M542.3 266.5h0M405.2 325.4h0M419 322.5h0M472.7 306.3h0M393.9 324.8h0M416.8 323.9h0M527.1 275.1h0M483 304.6h0M471.6 305.9h0M563.9 268.3h0M605.2 268.7h0M541.5 265.7h0M611.5 259.3h0M504.7 290.2h0M566.2 247h0M466.5 309.4h0M557.8 266.6h0M410.4 326.6h0M602.4 268.2h0M512.6 287.4h0M552.9 264.1h0M466.9 308.7h0M444.2 315.4h0M517.4 291.8h0M575.6 255.6h0M481.8 298.5h0M571.3 251.3h0M402.5 328.5h0M448 315.3h0M447 316.2h0M443.3 318.1h0M396.3 328.1h0M536.8 277.7h0M524.2 284.4h0M512.7 292.2h0M526.7 270.4h0M488.4 296.3h0M453.4 313.3h0M531.4 266.8h0M401.6 328.3h0M510.5 287h0M431.6 319.5h0M507 290.8h0M592 256.5h0M483.9 297.7h0M490.3 297.9h0M613.2 251.6h0M551.5 262.1h0M595.4 252.5h0M579.1 257.6h0M391.7 329.1h0M486.5 301.8h0M459.5 311.2h0M532.9 283.2h0M567.9 260.6h0M570.9 275.4h0M443 316.6h0M430 321.3h0M532.7 277.9h0M388.9 327.3h0M524.7 284.9h0M407.3 327.6h0M577.3 255.8h0M614.7 256.2h0M592.5 248.7h0M539.7 270.9h0M503.1 289.9h0M579.4 254.6h0M382.7 327.6h0M591.7 251.6h0M475.6 306.3h0M436.8 318.3h0M541.9 279.6h0M404.8 323.8h0M608.5 263.1h0M501.3 285.8h0M404.1 324.5h0M491.3 299.8h0M418.8 323.5h0M511.4 285.8h0M497.3 294.9h0M562.4 258h0M438.1 318h0M476 302.6h0M594.4 248.9h0M452.9 312.7h0M609.6 263.6h0M442.5 315.8h0M517.9 284.8h0M605.8 260.1h0M435.8 318.7h0M401.4 326.6h0M564.6 261.1h0M572.7 257.7h0M380 327.7h0M483.7 299h0M426.4 320.8h0M419.9 323.5h0M425.9 323h0M401.7 327.6h0M563.4 263.6h0M479.9 300.3h0M494.3 297.1h0M548.2 272.5h0M435.4 317.4h0M467.3 307.2h0M388.3 326.7h0M590.3 258.2h0M477.7 302.1h0M459.1 310.1h0M442.4 318.3h0M530.2 266.6h0M477.7 301.9h0M467.2 307.8h0M403.9 326.1h0M379.3 328.4h0M470.9 306.4h0M551.4 278.5h0M476 301.4h0M515.6 285.9h0M518.8 278h0M621 265h0M505.7 294.6h0M388.7 329.8h0M484.3 300.9h0M465.6 308.3h0M578 265.7h0M472.2 304h0M380.1 327.6h0M590.6 261.5h0M530.4 281.7h0M587.2 257.1h0M490.6 296.6h0M546.6 276.9h0M583.9 239.1h0M459 311.5h0M503.6 291.5h0M422 323.6h0M400.3 326.7h0M583.4 241.8h0M521.7 277.9h0M451.2 314.8h0M416.3 325h0M541.3 266.5h0M473.5 306h0M465.5 308.3h0M394.6 324.7h0M437.2 318.1h0M509.3 282h0M510.7 286.5h0M456.7 312.1h0M448.5 314.3h0M481.2 302.5h0M512.5 287.2h0M389.7 326.9h0M563.6 265.8h0M433 319.9h0M380.9 327.3h0M512.3 287.2h0M601.2 234.7h0M503.4 289.5h0M591.1 270.2h0M434.2 319.1h0M378.4 328.8h0M383.4 327.4h0M423.8 320.2h0M489.2 297.4h0M606.1 233.2h0M482.8 301.3h0M576.5 267.1h0M386.2 326.7h0M585.1 272.7h0M530.7 281.8h0M528 285.2h0M415.3 323.1h0M503.6 291.9h0M457 311.9h0M550.2 266.5h0M559 269.8h0M391.6 327.1h0M424.1 321.7h0M540.4 270h0M513.9 287.4h0M386.9 328h0M578.8 256.5h0M495.8 295.1h0M559.3 262.8h0M616.2 246h0M518.7 287.6h0M471.8 306.3h0M408.8 326.5h0M450.3 315.3h0M411.8 325.8h0M383.5 329.5h0M600.3 234.9h0M396.6 327.6h0M517.4 288.9h0M467.8 307.9h0M473.4 304.7h0M447.1 315.9h0M417.4 323.4h0M522.5 274.4h0M509.1 290.3h0M422.7 323h0M588.3 257.6h0M564.2 277.8h0M488.6 296.3h0M436.7 318.7h0M514.7 286.8h0M593.3 264.9h0M532 279.5h0M602.7 265.3h0M487.8 297.3h0M473.4 304.9h0M417.4 322h0M383.5 330h0M401.7 326h0M551 275.1h0M507 282.2h0M549 268.8h0M484.2 298.8h0M440 318.7h0M407.3 325.8h0M616.2 254.8h0M525.1 275.3h0M594.8 252.7h0M391.1 325.8h0M508.4 281.2h0M555.8 267.9h0M462.3 311h0M383.4 327.8h0M570.2 267h0M410.7 323.9h0M597.8 256.6h0M478.5 305.5h0M434.1 319.6h0M590.4 246.9h0M583.7 245.7h0M407.6 324.6h0M551 267.4h0M568.7 268h0M519.4 289.6h0M533.7 284.2h0M560.2 258.4h0M573.7 278.2h0M579.6 259.8h0M583 239.3h0M416 321.5h0M575.8 257.8h0M434.7 319.5h0M526.2 290.6h0M429.5 320.8h0M453.5 312.7h0M529.7 268h0M499.2 294.1h0M440.3 315.9h0M488.3 300.5h0M388.4 327.6h0M520.3 284.6h0M574.6 255.9h0M567.9 261.5h0M483.1 299.7h0M489.2 298.4h0M419.4 322.8h0M378.2 328.9h0M398.8 325h0M438.1 320h0M377.6 329.3h0M533 273.5h0M501.9 297.7h0M527.7 286.1h0M581.7 262.6h0M424.6 321.6h0M492.2 294.2h0M555.5 258.6h0M409.4 323.2h0M524 287.3h0M550.1 265.7h0M522 277.5h0M496.7 294.7h0M558.5 260.5h0M559 274.2h0M573 252.6h0M457.3 311.3h0M579.2 266.2h0M560.6 265.6h0M544 265.7h0M562.5 253.7h0M585.7 254.1h0M613.9 245h0M459.8 311.5h0M448.6 315.3h0M380.9 327.4h0M382.1 328.4h0M396.6 326.5h0M446 317.2h0M479.4 301.6h0M599.8 259h0M386.7 325.5h0M594.2 251.1h0M555.5 270.9h0M422.6 321.7h0M413 326h0M392.1 325.8h0M478.3 303.1h0M384.5 327.3h0M465.2 309.2h0M525.5 288.7h0M509.9 288.2h0M402.3 324.4h0M586.2 245.1h0M439.2 317.7h0M468.7 307.7h0M532.9 276.5h0M609 250.2h0M616.1 265.7h0M425.6 322.8h0M427.2 322h0M507.6 281.6h0M381.5 326.9h0M393.1 325h0M418.1 324.2h0M590.5 244h0M558.2 263h0M473.6 303.9h0M617.1 254.5h0M460.8 309.5h0M538.1 263.9h0M383 326.9h0M491.4 294.9h0M393.5 326.8h0M566.3 274.2h0M608 248.8h0M542.8 264.4h0M545.4 272.9h0M521 272.8h0M621 246.7h0M620.7 265.7h0M420.6 323.9h0M487.4 297.8h0M491.8 296.6h0M418.2 322.1h0M588.6 237h0M552.9 276.7h0M385.3 327.7h0M613 251.9h0M611.6 266.6h0M549 262.2h0M545.9 256.9h0M612.3 250.5h0M440.1 315.8h0M499.9 297h0M431.1 320h0M497.3 297.1h0M614.5 252.9h0M532.7 272.4h0M607.6 253.4h0M521.8 291h0M417.3 323.4h0M426.2 320.4h0M498.5 294.5h0M399.7 327.5h0M566.9 255.3h0M393.5 326h0M538.8 274.7h0M526.1 281.2h0M389.6 327.1h0M451.4 313.6h0M429 321.8h0M572.4 281h0M573.4 267.2h0M594.1 252.8h0M521.5 271.3h0M571.6 262.6h0M415.5 325.3h0M425.3 322.6h0M490.2 298.3h0M531.4 277h0M529.9 271h0M408.6 323h0M381 329.3h0M445.8 316.7h0M460.2 310.1h0M510.7 284.5h0M393.5 326.6h0M408.8 324.8h0M470.5 308h0M571.5 251.2h0M437.5 319h0M441 315.3h0M542.6 273.1h0M568 264h0M473.3 304.1h0M579.6 262.1h0M568.7 245.2h0M608.5 242.8h0M429.4 319.8h0M564.1 251.9h0M499.3 286h0M612.4 258.9h0M412 327.1h0M444.1 315.9h0M476.6 302.4h0M536.9 268.9h0M610.4 250.7h0M548.6 262.1h0M610.8 226.1h0M496.2 294.9h0M492.9 295.5h0M472.7 304.6h0M565.9 267.7h0M434.3 320.3h0M431.6 320.3h0M401.2 325.3h0M573.9 262.3h0M574.7 251.1h0M497.2 291.3h0M448.4 314.7h0M548.5 278.7h0M458.6 312.5h0M482.4 303.6h0M555.7 264.2h0M519.1 282.6h0M518.6 277.7h0M566.8 265.8h0M499.1 292.3h0M467.4 306.2h0M439.9 317.2h0M452.8 311.6h0M602.6 259.8h0M496.8 294.4h0M422.4 320.6h0M462.7 308.8h0M538.8 276.6h0M530.4 276.8h0M590.2 252.7h0M529.5 283.4h0M386.2 326.8h0M585 254.9h0M460.4 310.7h0M524.8 278.9h0M614.4 227.7h0M548.4 279.3h0M495.1 295.6h0M583.2 267h0M526.5 278.5h0M552 263.5h0M610.3 230.3h0M592.3 249.3h0M551 266h0M401.7 326.5h0M506.8 291.2h0M452.3 313.9h0M474.7 305.3h0M562.7 248.7h0M594.6 268.4h0M553.1 272.8h0M465.3 308.2h0M539.2 279.4h0M395.5 328.9h0M484.7 297.6h0M506.3 287.5h0M599.9 257.9h0M559.8 260.4h0M391.4 328.7h0M476.1 303.5h0M480.9 302.8h0M441.8 317.9h0M577.1 256.8h0M388.5 327.3h0M396.5 326.9h0M502.9 285.5h0M483.4 300.6h0M408 324.8h0M445 315.6h0M415 324.3h0M464.8 309.1h0M459.1 311.5h0M568.4 259h0M551 256.4h0M588.3 244h0M381.1 329.4h0M579.1 265.1h0M437.8 317h0M609.6 255.9h0M613.4 246.4h0M421.3 323.9h0M596.7 240.6h0M558.6 267.1h0M603.4 255.7h0M589.1 247.5h0M594.9 273.8h0M477.6 304.1h0M448.4 315.7h0M526.4 271.8h0M443.9 315.7h0M379.6 327.9h0M396.4 326.9h0M578.5 240.9h0M490.8 300.2h0M459.1 310.7h0M410.9 325.6h0M439.3 317.9h0M449.4 314.1h0M400.7 328.4h0M411.8 325.5h0M450.7 313.9h0M576.7 243.7h0M579.3 255.7h0M608 252.2h0M558.2 261.7h0M511.1 291.9h0M387.6 326.1h0M428.5 319.6h0M499.8 293.8h0M609.4 242.6h0M442.6 316.4h0M388.5 327.2h0M399.1 325.3h0M432.3 321.3h0M447.5 314h0M464.8 308.1h0M388.1 330.3h0M530.2 276.8h0M430.2 322.2h0M417.6 321h0M528.9 275.8h0M452.5 313.2h0M427.5 319.6h0M603.5 254.4h0M500.6 289.5h0M493.1 294.2h0M502.3 290.3h0M525.4 275.1h0M599.5 270.1h0M576.1 256.8h0M411.5 323.3h0M545 270.8h0M603.3 249.6h0M483.4 298.7h0M478.9 299.2h0M464.2 310.2h0M394.7 327.7h0M395.8 327.3h0M468.5 307.5h0M401.2 325.5h0M573.7 243.3h0M574.8 262.1h0M453.8 312.9h0M435 319.8h0M531.8 274.9h0M577.8 256.9h0M517.6 283.3h0M444.8 316.1h0M417.8 321.6h0M535.5 283.6h0M583.6 242.7h0M560.8 268.4h0M466.2 306.6h0M574 259.6h0M474.4 303.1h0M588.9 243.5h0M563.5 246.1h0M584.1 260.8h0M385.8 327.9h0M436 318.8h0M589.6 243.6h0M448 315h0M431.5 319.9h0M621 245.9h0M585.7 244h0M570.6 262.9h0M416.2 322.8h0M605.2 255.1h0M398 327.2h0M576.2 257.5h0M591.1 255.1h0M496.2 296.9h0M561.4 263.2h0M528.9 281.2h0M600.5 252.8h0M597.2 250.4h0M423.6 321h0M472 304.6h0M568.6 257.1h0M601.7 252.5h0M530.8 280.4h0M604.3 271.4h0M619.4 258.8h0M545.8 274.4h0M490.6 297h0M536 284.4h0M417.4 322.9h0M600.3 256.6h0M386.5 326.5h0"/>
<polyline points="377.5,328.9 378.9,328.9 380.2,328.8 381.6,328.8 382.9,328.8 384.3,328.7 385.6,328.6 387,328.5 388.3,328.4 389.7,328.3 391.1,328.2 392.4,328 393.8,327.8 395.1,327.7 396.5,327.5 397.8,327.3 399.2,327 400.5,326.8 401.9,326.5 403.3,326.3 404.6,326 406,325.7 407.3,325.4 408.7,325.1 410,324.7 411.4,324.4 412.7,324 414.1,323.6 415.5,323.2 416.8,322.8 418.2,322.4 419.5,322 420.9,321.5 422.2,321 423.6,320.6 424.9,320.1 426.3,319.6 427.7,319 429,318.5 430.4,318 431.7,317.4 433.1,316.8 434.4,316.2 435.8,315.6 437.1,315 438.5,314.4 439.9,313.8 441.2,313.1 442.6,312.4 443.9,311.7 445.3,311.1 446.6,310.4 448,309.6 449.3,308.9 450.7,308.2 452.1,307.4 453.4,306.6 454.8,305.9 456.1,305.1 457.5,304.3 458.8,303.5 460.2,302.6 461.5,301.8 462.9,300.9 464.3,300.1 465.6,299.2 467,298.3 468.3,297.5 469.7,296.6 471,295.6 472.4,294.7 473.7,293.8 475.1,292.9 476.5,291.9 477.8,291 479.2,290 480.5,289 481.9,288 483.2,287.1 484.6,286.1 485.9,285.1 487.3,284 488.7,283 490,282 491.4,281 492.7,279.9 494.1,278.9 495.4,277.9 496.8,276.8 498.1,275.7 499.5,274.7 500.9,273.6 502.2,272.5 503.6,271.5 504.9,270.4 506.3,269.3 507.6,268.2 509,267.2 510.3,266.1 511.7,265 513.1,263.9 514.4,262.8 515.8,261.7 517.1,260.6 518.5,259.6 519.8,258.5 521.2,257.4 522.5,256.3 523.9,255.2 525.3,254.1 526.6,253.1 528,252 529.3,250.9 530.7,249.9 532,248.8 533.4,247.7 534.7,246.7 536.1,245.7 537.5,244.6 538.8,243.6 540.2,242.6 541.5,241.5 542.9,240.5 544.2,239.5 545.6,238.5 546.9,237.5 548.3,236.6 549.7,235.6 551,234.7 552.4,233.7 553.7,232.8 555.1,231.8 556.4,230.9 557.8,230 559.1,229.1 560.5,228.3 561.9,227.4 563.2,226.6 564.6,225.7 565.9,224.9 567.3,224.1 568.6,223.3 570,222.5 571.3,221.8 572.7,221 574.1,220.3 575.4,219.6 576.8,218.9 578.1,218.2 579.5,217.6 580.8,216.9 582.2,216.3 583.5,215.7 584.9,215.1 586.3,214.5 587.6,214 589,213.5 590.3,212.9 591.7,212.5 593,212 594.4,211.5 595.7,211.1 597.1,210.7 598.5,210.3 599.8,210 601.2,209.6 602.5,209.3 603.9,209 605.2,208.7 606.6,208.4 607.9,208.2" fill="none" stroke="#ff2020" stroke-width="0.95" stroke-dasharray="3.7 2.0"/>
<path class="db" d="M574.9 254.4h0M569.8 255.9h0M442.3 316.9h0M429 320.4h0M443.5 316.2h0M540.2 266.4h0M438 318.5h0M493.3 298.3h0M440.8 318.3h0M488.3 296h0M382.4 327.3h0M563.8 256.4h0M472.7 304.8h0M418.3 323.8h0M577.9 266.5h0M540 269.6h0M508.5 285.6h0M404.3 325.3h0M545.6 277.3h0M400.1 324.8h0M617 251.8h0M562.3 260.3h0M502.7 289.2h0M607.1 258.9h0M547.9 274.9h0M520.4 283.8h0M412.8 322.9h0M533.2 274.8h0M414.6 324.8h0M445.3 316h0M542.9 269.5h0M483.9 300.9h0M394.3 326.1h0M573.5 265.2h0M556.8 270h0M615.2 247.4h0M435.9 318.5h0M468.9 307.9h0M437 317.5h0M460.4 309.8h0M610.8 250.4h0M424.1 323.1h0M614.8 251h0M415.6 322.8h0M499.4 293.8h0M385 329h0M596.3 239.8h0M414.5 323.8h0M420 322.6h0M593.2 255.1h0M503.3 291.5h0M413.8 324.7h0M499.3 291.9h0M554.3 257.3h0M416.7 323.8h0M430.4 320.7h0M568.3 264h0M449.4 314.6h0M436.6 318h0M537.3 280.8h0M459.3 310.4h0M535.9 268.9h0M583.5 255.2h0M512.2 285h0M544.7 278.1h0M391.7 327.7h0M595.1 258.7h0M490.3 294.5h0M390.6 327.2h0M572.2 256.2h0M588.2 268.4h0M590 265.1h0M498 294.4h0M611.3 244.3h0M410.4 325.3h0M464 307.6h0M427.1 321.5h0M574.4 266h0M477.6 304h0M440 316.5h0M432.4 319.5h0M529.5 276.6h0M618.6 237h0M461 309.9h0M432.8 320.4h0M521 280.5h0M403.7 327.3h0M567.6 267.9h0M540.6 267.2h0M407 326h0M614.6 249.3h0M471.4 304.5h0M496.5 293.5h0M458.8 310.1h0M520.7 286h0M574.3 267h0M603 250.7h0M520.9 285.4h0M617.2 247.1h0M599.5 251.7h0M533.5 270.9h0M507 285.4h0M539.4 275.9h0M604.9 244.5h0M520.3 281.2h0M593.2 251.8h0M618.3 245.2h0M408.5 324.9h0M585.6 256h0M386.9 327h0M565.5 257.9h0M556.6 271h0M397.6 326.9h0M466.1 308h0M443.5 316.7h0M514.6 280.7h0M484.6 300.7h0M384.9 325.8h0M498.8 293.5h0M538.3 268.8h0M477.4 302.8h0M472.8 304.6h0M513.7 284.4h0M395.8 327.6h0M390.4 327.7h0M612.8 242.4h0M430.7 321.1h0M562.6 262h0M505 288.4h0M480.2 301h0M479.3 302.3h0M520.3 284.2h0M411.1 324.4h0M606.6 264.2h0M401.4 327.7h0M507.9 285.9h0M515.4 287.9h0M464.9 308.2h0M448.1 314.8h0M606.7 254h0M490.6 298.4h0M481.6 301h0M435.5 319.1h0M492 295.8h0M408.3 323.6h0M388 326.4h0M533.4 274.7h0M477.6 303.4h0M617 262.8h0M514.5 288.9h0M534.6 274.2h0M444.6 316h0M525.3 275.5h0M491.2 298h0M525.8 279.6h0M495.8 294.9h0M406.2 325.8h0M469.2 305.3h0M448.1 315.1h0M387.1 327.9h0M398.4 326.9h0M613.9 240.9h0M520.2 286.8h0M384.4 326.6h0M546 272h0M534.3 274.7h0M380.4 325.8h0M421 323.7h0M397.5 324.7h0M522.9 282.3h0M488.2 298.8h0M406.1 326h0M587.6 261.6h0M457.8 310.8h0M554.2 263.1h0M416.5 323.6h0M591.7 258.1h0M511.6 288.9h0M504.3 288.1h0M539.9 272.6h0M512 284.7h0M520.1 284.7h0M390.1 327.5h0M512.2 287.4h0M534.3 274.6h0M558.4 264.9h0M425.1 321.6h0M613.5 256.7h0M568.5 266.2h0M536.7 277.7h0M521.1 282.2h0M380.9 327.3h0M588.3 250.5h0M496.7 294.3h0M501.8 290.3h0M555.6 266.3h0M440.3 318.1h0M443.1 316.3h0M442 316.6h0M610.1 257.6h0M456.2 311.7h0M447.7 314.3h0M441.1 317.7h0M407.8 325.2h0M567.3 267.4h0M443.6 315.8h0M570.7 271.8h0M534.8 270.4h0M522 276.8h0M543.2 266.7h0M389.2 328.5h0M497 291.8h0M562.7 264h0M417.3 323.6h0M453.4 312.9h0M423.5 321.8h0M485.2 299.6h0M399.5 326h0M468.8 306.4h0M422.1 322.2h0M572.1 261.3h0M529.4 275h0M390 325.9h0M443.8 316h0M488 296.4h0M390.1 327.1h0M585.5 242h0M459.6 310.1h0M415.6 324.2h0M592 247.6h0M585.4 252.4h0M414.3 322.8h0M559.6 266h0M480.8 302.9h0M381.3 327.7h0M473.2 305h0M551.6 262.4h0M605.1 250.3h0M487.6 298.1h0M491.8 296.9h0M462.2 308.6h0M568 258h0M403.6 324.3h0M593.7 238.7h0M515 285.7h0M532 276.3h0M409.9 324.3h0M443.3 315.9h0M527.8 272.9h0M567.4 258h0M384.6 327.6h0M479.5 303.7h0M591.2 265.9h0M378.7 325.6h0M555.9 274.7h0M601.6 251h0M421.2 323h0M443.7 316.4h0M445.5 315.8h0M462.7 309.9h0M399.4 325.6h0M520.8 283.9h0M406.8 324.5h0M541.5 277.2h0M450.5 314.4h0M534.1 277.8h0M579.8 253.8h0M533.8 276.5h0M550.3 271.1h0M455.6 312.2h0M547.7 267h0M557.9 259.1h0M545.6 267.5h0M469.4 307.3h0M521.2 288.1h0M419.3 323.1h0M475.7 303.9h0M406.2 326h0M382.6 328h0M385.1 327.9h0M499.4 295.6h0M613.6 264.5h0M520.3 283h0M537.9 275.7h0M614.8 250.5h0M539 266.7h0M495.5 293.6h0M400.5 327h0M387 327.7h0M486.1 297.7h0M413.7 324.1h0M518.4 288.3h0M606.6 245.1h0M523.7 283.2h0M572.9 251.9h0M610.2 250.7h0M511.9 285h0M517.6 287.8h0M383.7 328.2h0M469.5 305.5h0M419.5 323.3h0M484 299.6h0M611.7 241.4h0M395 327h0M511.5 284.6h0M563.3 272.8h0M385.4 327.2h0M381.2 327.1h0M381.4 328.2h0M522.8 276.8h0M577.8 248.7h0M475.8 303.1h0M454.5 312.4h0M437.4 318.9h0M463 310h0M399.5 324.8h0M382.9 328.1h0M401.2 325.6h0M505.7 287.2h0M443.4 315.6h0M430.5 320.4h0M393.9 326.2h0M573.4 257.8h0M449.9 313.7h0M559.1 267h0M498.9 295.3h0M473.6 304.2h0M614.9 239.5h0M565.7 268.2h0M593.1 247.1h0M552.6 261.1h0M491 296.1h0M519.4 282.6h0M526.3 272.2h0M612.5 265.8h0M562.4 259.1h0M384.7 327.8h0M517.9 280h0M570.8 260h0M506.9 285.8h0M402.1 325.2h0M580.2 254.8h0M506.2 285.4h0M541.3 280.1h0M381.8 327.8h0M600 264.4h0M555.1 276.6h0M415.9 324h0M534.5 273.1h0M501.9 290.7h0M541.6 272.7h0M427.2 320.7h0M601.3 249.7h0M394.2 327.3h0M394.8 326.9h0M399.9 327.5h0M418.4 324.4h0M405.2 325.9h0M409.2 326.1h0M508.8 292.2h0M568.8 253.1h0M441.7 317h0M567.9 265.6h0M536 275.7h0M527.8 279.9h0M473.8 304.7h0M517.1 284h0M484.5 298.5h0M410.9 323.6h0M461.5 309.5h0M402.3 326h0M458.8 311.1h0M379.8 328.1h0M607.1 257.6h0M494.4 295.8h0M467.8 306.6h0M446.9 315.4h0M567.7 263h0M577.1 258.4h0M382.1 327h0M544.7 276.1h0M617.8 248.4h0M432.8 320h0M425.1 322.8h0M529.5 271.4h0M598.2 247h0M556.4 275.4h0M416.5 323.4h0M621.4 255.2h0M414.9 324.7h0M519.8 279.4h0M582.5 263h0M518.5 284.1h0M437.4 318.2h0M564.7 260h0M421.7 323.4h0M381.7 327.8h0M442.6 316.4h0M499.8 290.2h0M619.9 264.4h0M423.9 322.8h0M585.8 263.2h0M512.1 286.8h0M442.7 316.7h0M540 280.7h0M593 254.4h0M549 268.5h0M495.9 290.7h0M494.8 292.9h0M572.3 250.5h0M582 259.7h0M409.8 325.6h0M610.8 267.1h0M429.1 320.1h0M393.7 326.4h0M406.5 325.6h0M595.7 259.8h0M425.6 322.3h0M534.6 277.6h0M525 282.1h0M499.8 290.1h0M531.8 272.5h0M562.1 256h0M471.4 305.6h0M524.4 286.1h0M430 320.2h0M606.9 259.2h0M547.9 270.5h0M544.8 277.7h0M582.4 254.7h0M584.6 243.7h0M411.2 324.5h0M518.7 281.2h0M602 243.2h0M388.4 327.1h0M608.9 249h0M390.6 326.9h0M449.6 314.4h0M460.8 309.8h0M509.1 287.1h0M543.4 267.3h0M476 305.3h0M497.6 290.8h0M491.6 296.5h0M513.8 283.3h0M606.9 254h0M450.1 314.2h0M399.4 327.2h0M582.7 254.1h0M384.6 328.7h0M471 307.3h0M552.8 267.8h0M570.6 258.2h0M499.2 291.4h0M563.7 261.5h0M557.6 260.2h0M548.2 266.8h0M463.2 309.9h0M598.7 248.1h0M519.3 284.1h0M577.8 267.7h0M387.8 326.7h0M567.9 260.7h0M447.6 315.5h0M612.3 261.3h0M524.5 272.7h0M392.7 328.2h0M580.3 250.6h0M507.7 289.9h0M400 326.2h0M592.7 242.2h0M547.2 274.4h0M610.7 266.1h0M603.7 247.4h0M529.5 280.9h0M444.3 316.9h0M582.9 261h0M611.3 246.4h0M583 256.2h0M574.8 252.8h0M557.5 260.6h0M537.1 270.6h0M465.9 307.9h0M534.2 270.6h0M479.9 300.5h0M472.3 304.4h0M395.9 327.8h0M473.2 306.2h0M555.6 275.6h0M502.6 289.5h0M555.5 266h0M581 253h0M409.8 326.1h0M460.9 309.8h0M480.2 302.3h0M474.9 303.4h0M474.8 303.8h0M437.8 317.4h0M392.4 326.3h0M586.2 251.1h0M604.6 260.7h0M604.4 252.9h0M573.3 269h0M490 299.2h0M502.7 287.5h0M412.9 324.9h0M411.1 323.2h0M502 288.8h0M577.7 268.1h0M546.5 272.8h0M438 317.3h0M542.7 266.4h0M578.7 261h0M439.6 318h0M603.6 255.5h0M499.2 292.9h0M476.6 304.9h0M525.6 271.7h0M383.3 327.6h0M456.8 311.7h0M461.5 309h0M441.8 316.8h0M547.6 270.7h0M413.4 323.1h0M406.7 326.1h0M525.5 280.5h0M394.3 326.1h0M541.6 268.5h0M444.7 315.6h0M454.3 312.9h0M561.3 254.4h0M546.4 274h0M399.5 326.6h0M462.3 309.1h0M578.7 257.1h0M585.1 264.4h0M600.3 258.7h0M493 297.4h0M475.9 302.4h0M608.7 247.3h0M520.1 283.6h0M567 260.9h0M503.3 290.2h0M530 273.4h0M498.7 295.3h0M584.1 266.2h0M601.1 257.1h0M390.2 327.4h0M487 297h0M497 293h0M537.3 281.3h0M543.9 273.9h0M451.8 313.6h0M455.7 312.2h0M601.4 265.7h0M575.6 253h0M574.4 248.7h0M478.4 303.4h0M417.3 323h0M435.1 318.1h0M447.9 315.2h0M556.3 256.5h0M501.5 291.6h0M503.9 294h0M446.8 314.9h0M413.5 324.6h0M525 284.7h0M431.5 320.2h0M587.8 267.5h0M593.8 252.7h0M571.1 254.6h0M591.2 263.5h0M389.7 327.4h0M507.1 288h0M512.2 284.3h0M577.7 251.2h0M576.7 266.8h0M432.9 319.9h0M505 293.9h0M453 313.1h0M511.9 291.6h0M442.9 316.3h0M579.4 250.6h0M614.7 264.4h0M480.5 300.4h0M564.4 272h0M594.4 245.6h0M392.2 327h0M487.3 296.3h0M588.9 246h0M558.5 256.2h0M380 328.6h0M425.5 321.6h0M378 328.1h0M382.4 326.5h0M591.6 258.6h0M579.1 245.3h0M418.5 322.3h0M537.2 271.6h0M497.8 290.9h0M502.5 288.4h0M377.8 327.7h0M530.7 277.7h0M537 270.5h0M446.9 314.5h0M550.8 270.3h0M426.3 320.9h0M420.3 322h0M447.1 314.9h0M394.6 327.6h0M507.6 291.3h0M377.7 328.4h0M592.3 252.3h0M472.3 303.6h0M501.8 291.9h0M559.1 263.3h0M391.4 328.1h0M442.7 316.6h0M551.9 263.6h0M581.7 261.1h0M417 324.6h0M421.2 322.5h0M436.7 318.3h0M396 325.3h0M579.4 249.9h0M545.9 271.6h0M452.8 313.6h0M562.5 258.9h0M608.1 257.3h0M472 305.9h0M388.1 326.8h0M478.1 301.3h0M590.6 246.1h0M530.8 276h0M504.9 286.9h0M597.1 252h0M449.5 314.8h0M512.9 281.2h0M532 270.9h0M432 319.3h0M433.4 319.1h0M387.4 328.9h0M405.4 326.4h0M480.2 301.7h0M611.4 251.8h0M550.5 260.9h0M507.5 285.9h0M537.8 274.7h0M417.9 323.7h0M500 294.2h0M464.6 307.6h0M518.7 284.1h0M382 327.3h0M607.5 258h0M382.5 328.2h0M452 313.1h0M529.6 270.2h0M508.7 290h0M599.9 253.2h0M419.8 323.4h0M457.5 311.7h0M476 302.7h0M564.1 269.6h0M387.2 327.2h0M432.4 319.7h0M481.7 300.3h0M604.6 250.8h0M524.5 280.9h0M570.2 267.2h0M464.1 308.5h0M602.1 248.5h0M592.8 252.4h0M472.1 304.9h0M593.1 247.8h0M520.1 280.1h0M454.3 312.3h0M475.3 304.1h0M472.5 304.4h0M385.1 327h0M405.4 326h0M392.4 327.7h0M452.2 313.5h0M621.4 242.8h0M536 274.7h0M569.7 248.9h0M514.3 286.6h0M477.3 303.6h0M480.8 301.5h0M530.3 278.7h0M556.7 270.8h0M531.9 276.7h0M397.5 325.9h0M464.1 308.9h0M449.3 314h0M497.4 296.2h0M550.6 266.7h0M614.5 245.3h0M390.1 326.2h0M611.6 252h0M513.9 286.7h0M421.5 323h0M614.7 251.5h0M590.6 249.1h0M584.1 262.6h0M385.3 327.7h0M494.7 295.7h0M609.8 255.9h0M512.3 286.6h0M411.7 323.3h0M588.9 247.8h0M534.6 270.9h0M546.9 272.9h0M454.8 312.6h0M447.8 314.4h0M594.7 245.9h0M524.2 277.7h0M485.9 297.2h0M478.2 303h0M586.6 259.5h0M606.3 259.4h0M434.7 319.8h0M555 265.9h0M548.4 273.6h0M436 319.2h0M580.7 255.9h0M580 256.7h0M446.3 315.2h0M574.7 255.9h0M617.7 239.5h0M521 283.1h0M601.8 245.7h0M620.1 247h0M577.4 272h0M387.5 328.2h0M512.2 285.1h0M431.3 320.9h0M450.4 314.1h0M581.8 255h0M516.6 285.5h0M477.3 303.8h0M470.7 305.6h0M386.6 326.4h0M456.8 311.7h0M383.4 328.3h0M475.1 302.8h0M587.5 242.1h0M488.2 298.5h0M491.2 294.7h0M621.3 261.2h0M402.3 324.8h0M610.6 249.2h0M516.9 287.3h0M382.2 328.3h0M392.9 327.5h0M407.8 326.6h0M460.5 310.2h0M398.5 325.2h0M574.8 254.6h0M390.8 326.2h0M500.1 293h0M620.5 255.3h0M506.7 291.3h0M554.2 271.6h0M574.8 251.6h0M471.5 305.1h0M591 255h0M547.2 274.9h0M584.4 258.8h0M399.9 327.2h0M571 261.1h0M522.4 283.4h0M456.8 311.6h0M564.3 257.8h0M396.7 325.5h0M422.2 322.2h0M470.8 305.8h0M505.4 291.3h0M534.9 270.1h0M527.2 286h0M581.3 257.8h0M493.5 294.5h0M485.8 299.5h0M564.8 259.3h0M531.4 275.6h0M397.3 327.2h0M505.5 288.2h0M604.5 250.1h0M401.3 325.1h0M606 255.6h0M565.3 267.5h0M460.2 310.1h0M616.4 260.8h0M551.1 271.6h0M448.2 315.5h0M504.7 290.8h0M576.2 252.1h0M411.8 325.2h0M475.2 304.2h0M399 326.4h0M602.4 254h0M498.6 296.2h0M608.4 260.1h0M515.2 282.8h0M385.2 327.6h0M554.6 267.2h0M502 290.8h0M581.6 258.1h0M426.2 322h0M513.6 288.9h0M404.1 326.1h0M560.5 256.6h0M403.1 325.9h0M400.9 325.8h0M493.8 294.8h0M391.9 325.4h0M607.3 257.6h0M577.8 256.1h0M396.6 325.9h0M531.3 270.6h0M518.2 284.1h0M519.9 281.2h0M468.3 307.5h0M492.2 294.9h0M404.1 325.8h0M444.6 315.8h0M554.9 260.6h0M454.2 312.8h0M408.5 326.1h0M534.5 278.5h0M561.8 267.3h0M395.6 326.4h0M521.7 280.6h0M460.8 310.2h0M478.3 301.3h0M415.5 324.8h0M562.5 252.4h0M486 296.8h0M600.5 243.4h0M530.6 277.3h0M535.7 273.6h0M506.4 290.3h0M413.8 323.2h0M515.8 284.1h0M534.4 278.9h0M495.8 294.3h0M615.5 257h0M403.4 324.3h0M507.2 290.5h0M438 317.9h0M469.3 306.4h0M541 270.7h0M599.8 241h0M444.2 315.6h0M388.5 327.6h0M458.5 310.7h0M611 254.7h0M437.2 317.9h0M595 242.8h0M582.5 242.5h0M450.2 313.4h0M589.6 250.4h0M422.1 323.2h0M612.5 241.4h0M586.3 257.2h0M497 290.9h0M386.1 327.3h0M490.1 297h0M443.6 316h0M402.9 326.2h0M476.6 302.5h0M612 253.1h0M384.1 326.3h0M404.3 325.5h0M503.6 286.6h0M534.9 269.4h0M429.8 321.2h0M486.3 299.6h0M415.3 324.3h0M474.4 304h0M547.8 271.1h0M509.7 290.8h0M492.8 295.5h0M604.8 253.6h0M445.5 314.8h0M477.6 303.4h0M590.8 256.9h0M402.4 324.3h0M607.4 244.9h0M537 266.3h0M619.4 251.3h0M532.9 269.2h0M559.8 265.4h0M411.3 325.9h0M409.2 324.5h0M408.1 324.3h0M456.9 311.5h0M419.5 322.6h0M418.5 323.2h0M586.2 263.3h0M522.9 281.2h0M586.5 251.8h0M414.6 325.3h0M408.4 324.6h0M552.6 263.6h0M478.8 301.9h0M576.6 262.9h0M614.3 255.1h0M613.1 245.3h0M441.2 317.4h0M555.7 276.9h0M602.8 246.7h0M440.7 316.7h0M452.4 313.7h0M531.8 280.1h0M395.8 326.6h0M452.6 313.6h0M494.7 293.3h0M427.9 321h0M521.4 285h0M466 307.5h0M465.6 308h0M560.4 261.4h0M400.3 326.1h0M383.6 327.1h0M437.7 318.1h0M469.8 305.8h0M609.1 241.4h0M534.8 269.3h0M450.9 314.1h0M384.8 327.7h0M430.8 320.5h0M431.2 319.6h0M478.9 302.8h0M578.2 251.4h0M564.3 261.1h0M385.5 328.3h0M596.9 253.6h0M429 320.5h0M501.4 294.8h0M473.9 305.2h0M512.7 282.5h0M422.1 322.3h0M610.6 239.2h0M498.7 291.2h0M511.9 280.9h0M496.4 294.3h0M441.2 317.5h0M417.4 323.3h0M482.3 300.2h0M555.8 266.8h0M477.6 302.1h0M440.7 317.4h0M593.4 248.7h0M443.4 316.3h0M404.5 324.3h0M485.2 300.6h0M595.6 255.9h0M511.5 290.4h0M547.3 274.2h0M496.1 292.8h0M556.5 265.8h0M517.1 281.5h0M572.5 249.1h0M407.2 326.3h0M420.6 322.3h0M413.8 323.6h0M520.9 286.2h0M478.7 303.5h0M605.6 253.8h0M546.1 268.6h0M621.2 238.4h0M407 324.6h0M577.4 264.7h0M520.8 283.8h0M561.4 275.5h0M536.8 268.7h0M408.6 323.9h0M422.5 322.3h0M428.1 321.5h0M524.9 280.3h0M407 326.5h0M404.4 326.8h0M377.6 329.1h0M570.3 256.5h0M519.9 275.7h0M445.7 315.4h0M506.8 288.8h0M594.6 256.2h0M412.6 323.5h0M571.8 262.4h0M543.2 276.6h0M470.8 306.5h0M614.6 237.7h0M472.3 304.7h0M563.5 273.2h0M574.2 265.2h0M483 301.5h0M384.3 327.1h0M470.2 307.1h0M531.6 279.2h0M574.2 256.9h0M564.5 259.2h0M564.5 269.9h0M529 278.4h0M413.1 324.5h0M604.6 249.6h0M464.5 308.9h0M471.2 306h0M405.4 324.8h0M426.2 320.5h0M521.9 282.1h0M619.6 241.2h0M590.7 264h0M579 243h0M514.8 289.3h0M612.6 246.5h0M428.6 321.9h0M444.3 316.1h0M572 249.6h0M451.5 313.9h0M550 262h0M552.2 259.5h0M455 312.8h0M517.9 287.7h0M394.3 326.8h0M428.4 321.4h0M450.9 314.3h0M501.7 287.5h0M564 265h0M455.1 312h0M500.4 289.5h0M597.6 262.5h0M391.6 327.3h0M568.9 254.1h0M443.5 316.4h0M612.8 240h0M448.4 314.7h0M488.9 297.6h0M522.5 282.8h0M579.3 258.6h0M517.6 281.1h0M406.9 325.3h0M425.5 322.1h0M498.4 290.2h0M557.1 264.4h0M503 289.2h0M566.8 259.1h0M590.3 267.7h0M433.5 319.7h0M379.3 328.7h0M515.3 281.5h0M565.5 256.3h0M503.8 289.7h0M595.1 258.2h0M463 309.6h0M618.4 243.6h0M543.5 277.4h0M519 280.8h0M436.6 319.1h0M578.6 251.1h0M480 303.8h0M488.5 300.2h0M427.3 319.9h0M395.4 327.5h0M408.4 326.5h0M618.3 235.4h0M417.9 324h0M491.5 296.6h0M407.2 324.8h0M574.6 268h0M543.6 271.5h0M541.3 271.7h0M571.9 261h0M438.4 318h0M519.8 276.9h0M432.5 319.1h0M433.1 319.6h0M480.9 301.1h0M423.9 321.9h0M418.5 323.2h0M426.4 321.3h0M402.3 325.8h0M393.4 326.6h0M562.8 262.8h0M454.4 312.7h0M383.7 329.3h0M435.2 318.2h0M435.6 318.4h0M400.4 326.3h0M485.8 301.3h0M435.8 319.1h0M535.7 274.2h0M578.6 258.4h0M440.6 317.5h0M617.6 248.8h0M590.6 256.6h0M436.9 318.8h0M436.2 317.9h0M444.5 316.1h0M445.2 314.9h0M564.9 255.1h0M604.7 237.7h0M467.2 306.9h0M403.8 325.3h0M485.8 301.2h0M426.7 320.5h0M380.4 326.7h0M595.7 245.2h0M470.1 306h0M408.9 326.3h0M544.7 263h0M507.6 283.6h0M378 328.7h0M513.4 290.6h0M440.5 317h0M531.9 276.4h0M527.4 280.5h0M404.8 325.9h0M559.2 272.8h0M612.9 247.4h0M417.6 323.5h0M581.1 260.6h0M518.5 285.3h0M429 320.3h0M580.9 260.9h0M518.6 288.4h0M501.5 290.2h0M599.6 260.6h0M421.7 323.1h0M563.8 265.8h0M621.3 245.9h0M451.9 313.3h0M402.7 325.4h0M392.3 326.4h0M493.3 294.2h0M530.1 280.8h0M494.9 291.8h0M522.1 284h0M449.9 314.5h0M458.3 311.2h0M468.4 306.6h0M535 274.1h0M618.6 248h0M605.2 249.7h0M459.7 310h0M416.8 323.8h0M390.9 329h0M410.4 323.4h0M408.6 323.6h0M434.1 319.5h0M582.4 256.8h0M570.9 262.1h0M433.6 319.9h0M575.4 244.2h0M459.6 311.1h0M607 245.9h0M536.4 269.8h0M576.6 259.3h0M617.2 254.1h0M422.1 322.9h0M433.4 318.6h0M446 315.2h0M491.5 297.9h0M556.2 265.9h0M523.1 280h0M458.1 310.8h0M470.9 304.5h0M396.5 326.2h0M444.4 316.6h0M620.9 240.6h0M594.8 258.6h0M533.1 274.8h0M604.1 254.6h0M473.4 304.5h0M544.2 269.7h0M614 248.2h0M388.7 326.8h0M521.4 285.9h0M508.6 289.9h0M536.2 277h0M499.5 289.4h0M535.6 282.4h0M546.8 274.8h0M611.9 248.6h0M585.5 263.5h0M395.8 327.5h0M590.9 256.7h0M417.2 324.3h0M444.6 316.7h0M413.6 323.9h0M616.1 251.4h0M618.6 254.2h0M527.2 277.3h0M378.8 326.8h0M503.4 289.5h0M576.5 255.2h0M604.5 259h0M470.1 306.5h0M477.3 302.6h0M512 284.4h0M564 262.3h0M602.9 255.9h0M574.1 262.4h0M527.1 273.6h0M484.3 298.1h0M496 295.9h0M468.8 307.3h0M603.9 242.2h0M618.8 249.9h0M431.2 319.2h0M613.5 241.2h0M583.4 260.8h0M472.1 306.2h0M440.2 318.3h0M391.6 328.1h0M418.8 322.9h0M464 309.2h0M609.4 253.3h0M618 237.3h0M445.5 316h0M408.9 324h0M513.4 286.8h0M390.4 327.2h0M489 295.4h0M453.7 313.3h0M410 324.7h0M407.8 326.1h0M397.7 326.3h0M508.8 286.7h0M513.3 285h0M586.7 252h0M402 327.2h0M451 313.9h0M441.9 316.8h0M439.4 317.2h0M529.3 285.4h0M513.2 283.9h0M451 313.7h0M456.7 310.9h0M439 317.6h0M385 325.5h0M435 319h0M415.1 322.9h0M582.7 252.2h0M548.8 270.9h0M522.9 278h0M510.8 287.3h0M406.1 325.9h0M580.5 266.7h0M457.2 311h0M404.2 325.4h0M563.6 253.2h0M604.4 237.2h0M515.9 288.6h0M426.5 320.7h0M465 307.6h0M521.6 279.3h0M548 263.8h0M491.9 297.6h0M400.3 327.5h0M609.6 251.1h0M452.9 313h0M406.3 326h0M546.1 277.4h0M524.6 277.1h0M574.2 262h0M423.8 322.5h0M553.9 274.4h0M467.4 308h0M496.6 290.3h0M457.2 311.2h0M451 314.3h0M452.7 313.1h0M597.8 256.6h0M510.4 288.8h0M379.7 328.1h0M537.2 273.4h0M620.3 249.1h0M584 249.7h0M445.3 315.7h0M455 312.7h0M416.4 323.3h0M423.6 322.2h0M547.4 271.2h0M389.4 328.3h0M575 262.4h0M513.1 280.8h0M511.1 286.8h0M382.8 327.3h0M507.6 288.8h0M513.2 287h0M486 296.8h0M533.7 275.8h0M532.4 279.8h0M597.7 257h0M500.6 290.5h0M508.3 287.7h0M512.3 290.4h0M414.8 323.8h0M516 286.5h0M419.4 323.5h0M435.7 318.9h0M509 286.6h0M540.2 264.2h0M499.8 291.8h0M596.4 265.3h0M398.4 327.2h0M530.2 272.7h0M468.7 305.8h0M461.3 310h0M539.9 267.9h0M503.3 288.4h0M432.8 318.6h0M575.7 246.7h0M543.4 273.4h0M460.7 310h0M463.1 308.6h0M459.1 310.5h0M435.4 318.5h0M393.7 325.9h0M508.3 288.5h0M616.9 246.1h0M555.9 261.3h0M454.8 312.5h0M413.1 323h0M608 245.1h0M462.9 309.3h0M563.4 263.1h0M601.9 250.8h0M588.5 261h0M434.7 319.4h0M573.7 262.3h0M513.7 288h0M422.5 322.3h0M509.1 285.4h0M501.3 287.5h0M536.6 268.4h0M474.8 304.2h0M502.8 289.3h0M509.4 291.6h0M486.7 301h0M476.9 304h0M440 316.6h0M420.7 322.8h0M391.4 326.9h0M479.2 300.7h0M454.4 312h0M381.5 329.1h0M600.1 254.4h0M399.3 327h0M426.9 321.3h0M621 253.9h0M606.7 242.8h0M460.8 309.6h0M526.4 278h0M461.8 309h0M613.3 262.3h0M386.3 326.7h0M614.6 254.7h0M521.5 279.1h0M501.7 291.1h0M560.4 269.1h0M465.8 306.8h0M580.9 270.6h0M385.7 326.4h0M471.6 304.3h0M601.7 245.1h0M619.7 245.9h0M561.2 270.7h0M617.2 263.6h0M498.9 290.3h0M583.6 253.2h0M425.2 321.5h0M561.1 263.6h0M600 246.4h0M433.9 319.4h0M483.9 300.3h0M417.6 322.6h0M505.5 292.4h0M586.2 256.8h0M500.8 291h0M526.9 277h0M502.5 290.6h0M594.4 263h0M467.1 308.5h0M607.2 263.5h0M515.4 287.4h0M404.4 326.7h0M503.3 288.2h0M613.4 247.7h0M495.3 292.6h0M484.4 300.1h0M449.9 314.6h0M425.4 321.6h0M444.9 315.5h0M560.9 253.3h0M378.5 328h0M462.5 308.7h0M529.4 278.6h0M549.1 269.1h0M544.9 275.8h0M500.9 291.1h0M382.6 326.7h0M503.6 294.4h0M505.1 286.2h0M439.8 316.9h0M471.7 304.3h0M546.5 265.1h0M588.2 255.2h0M421.3 323h0M617 248.8h0M601.6 246h0M479.8 303.4h0M604.2 259.9h0M613.6 247.3h0M441.1 316.3h0M602.1 245.7h0M579.3 255.7h0M584.3 258.9h0M403.2 325.7h0M387.2 326.9h0M569.7 247h0M380.4 327.7h0M493.8 293.7h0M479.1 301.2h0M466 307.6h0M406.8 325.4h0M423 321.1h0M394.4 327h0M486.8 297.1h0M500.3 294.5h0M380.1 327.8h0M399.3 326.9h0M460.7 310.1h0M545 275.4h0M572 260.6h0M416.7 324.5h0M542.3 275.5h0M544.2 267h0M446.9 315.6h0M498.9 291.7h0M437.2 318.5h0M463.7 308.1h0M402.6 326.2h0M442.8 316.1h0M613.2 241.8h0M614.4 247.8h0M589.6 255.3h0M484.5 301.9h0M435.9 318.1h0M449.1 314.7h0M510.6 289.8h0M467.7 307.1h0M463.3 308.9h0M455.4 312h0M550.7 264h0M514.6 284.4h0M526.8 282.4h0M382.9 326.5h0M412.6 323.6h0M506.9 288.3h0M403.8 326.3h0M523.2 280.8h0M397.7 327.3h0M527.8 277.9h0M421.3 322h0M392.1 327.5h0M557.9 262.7h0M591.6 253.2h0M494.4 296.9h0M540.8 265.3h0M561.9 274.7h0M612.4 262.1h0M427.6 321.1h0M476.3 302.9h0M580.4 248.8h0M500.3 290.2h0M433.7 319.2h0M569.9 270.7h0M612.3 245.2h0M509.2 286.6h0M539.2 264.3h0M478.4 301.5h0M561.2 266h0M577.2 266.5h0M437.7 318.3h0M601.3 252.3h0M409.8 325.1h0M548 263.2h0M449.1 314.6h0M456.5 311.7h0M405.6 327h0M462.9 309.1h0M508.2 286.4h0M589.1 268.1h0M471.3 305.6h0M409.7 323.4h0M587 255.7h0M524.5 281h0M619.9 251.6h0"/>
</g>
<path d="M46.5 143.35H291" stroke="#e64ee6" stroke-width="1.0"/>
<path d="M46.5 153.95H291" stroke="#e64ee6" stroke-width="1.0"/>
<path d="M154.6 137.8V108.4M151.4 137.8h6.4M151.4 108.4h6.4" stroke="#ff5a5a" stroke-width="1.1" fill="none"/>
<circle cx="154.6" cy="123.4" r="6.2" fill="#ff0000" stroke="#300" stroke-width="0.9"/>
<path d="M219.1 155.4V130.8M215.9 155.4h6.4M215.9 130.8h6.4" stroke="#ffd850" stroke-width="1.1" fill="none"/>
<circle cx="219.1" cy="143.4" r="4.0" fill="#ffcc00" stroke="#222" stroke-width="0.9"/>
<circle cx="283.8" cy="148.4" r="5.15" fill="#dd00dd" stroke="#222" stroke-width="0.9"/>
<path d="M169.1 83L157.5 103.1M158.8 95.8L157.5 103.1L163.2 98.3" stroke="#ff3030" stroke-width="0.9" fill="none"/>
<path d="M233.8 107.4L221.8 125.5M223.6 118.3L221.8 125.5L227.8 121" stroke="#ffcc00" stroke-width="0.9" fill="none"/>
<text class="se" x="150.1" y="77.8" textLength="63.2" lengthAdjust="spacingAndGlyphs" style="fill:#ff0000">BABAR</text>
<text class="se" x="209.2" y="103.2" textLength="57.6" lengthAdjust="spacingAndGlyphs" style="fill:#ffcc00">BELLE</text>
<text class="tt" transform="translate(143.1 39.4) scale(1.07 1)">B</text><text class="tt" transform="translate(152.5 39.4) scale(1.07 1)">r</text><text class="tt" transform="translate(156.8 39.4) scale(1.07 1)">(</text><text class="pi" transform="translate(160.9 39.4) scale(1.0 1)">π</text><text class="su" transform="translate(169.7 35.1) scale(1.0 1)">+</text><text class="pi" transform="translate(176.6 39.4) scale(1.0 1)">π</text><text class="su" transform="translate(185.3 35.1) scale(1.0 1)">−</text><text class="tt" transform="translate(191.8 39.4) scale(1.07 1)">)</text><text class="sl" transform="translate(196.4 41.4) scale(1.15 1)">/</text><text class="tt" transform="translate(202 39.4) scale(1.07 1)">B</text><text class="tt" transform="translate(211.4 39.4) scale(1.07 1)">r</text><text class="tt" transform="translate(215.6 39.4) scale(1.07 1)">(</text><text class="pi" transform="translate(219.9 39.4) scale(1.0 1)">π</text><text class="su" transform="translate(227.5 35.1) scale(1.0 1)">+/−</text><text class="tt" transform="translate(244.2 39.4) scale(1.07 1)">K</text><text class="su" transform="translate(254.7 35.1) scale(1.0 1)">−/+</text><text class="tt" transform="translate(271.3 39.4) scale(1.07 1)">)</text>
<path d="M377.5 73.50H621.5" stroke="#e64ee6" stroke-width="1.0"/>
<path d="M377.5 120.65H621.5" stroke="#e64ee6" stroke-width="1.0"/>
<path d="M613.1 117.7V10.1M610.2 117.7h5.8" stroke="#ffcc00" stroke-opacity="0.42" stroke-width="1.7" fill="none"/>
<circle cx="613.1" cy="48" r="4.0" fill="#ffcc00" stroke="#222" stroke-width="0.9"/>
<circle cx="483.9" cy="97.6" r="5.15" fill="#dd00dd" stroke="#222" stroke-width="0.9"/>
<path d="M437.3 85L471.7 92.6M464.3 93.5L471.7 92.6L465.4 88.6" stroke="#dd22dd" stroke-width="0.9" fill="none"/>
<text class="se" x="384.3" y="93.4" textLength="47.2" lengthAdjust="spacingAndGlyphs" style="fill:#dd00dd">CLEO</text>
<text class="tt" transform="translate(461 147.8) scale(1.07 1)">2</text><text class="tt" transform="translate(473 147.8) scale(1.07 1)">B</text><text class="tt" transform="translate(482.4 147.8) scale(1.07 1)">r</text><text class="tt" transform="translate(486.7 147.8) scale(1.07 1)">(</text><text class="pi" transform="translate(491 147.8) scale(1.0 1)">π</text><text class="sd" transform="translate(499.7 143.5) scale(1.08 1)">0</text><text class="tt" transform="translate(505.6 147.8) scale(1.07 1)">K</text><text class="su" transform="translate(516.2 143.5) scale(1.0 1)">+/−</text><text class="tt" transform="translate(532 147.8) scale(1.07 1)">)</text><text class="sl" transform="translate(536.6 149.8) scale(1.15 1)">/</text><text class="tt" transform="translate(542.2 147.8) scale(1.07 1)">B</text><text class="tt" transform="translate(551.6 147.8) scale(1.07 1)">r</text><text class="tt" transform="translate(555.8 147.8) scale(1.07 1)">(</text><text class="pi" transform="translate(560.1 147.8) scale(1.0 1)">π</text><text class="su" transform="translate(568.3 143.5) scale(1.0 1)">+/−</text><text class="tt" transform="translate(584.7 147.8) scale(1.07 1)">K</text><text class="sd" transform="translate(595 143.5) scale(1.08 1)">0</text><text class="tt" transform="translate(601.4 147.8) scale(1.07 1)">)</text>
<path d="M46.5 301.50H291" stroke="#e64ee6" stroke-width="1.0"/>
<path d="M46.5 331.95H291" stroke="#e64ee6" stroke-width="1.0"/>
<path d="M178.8 345.6V279.7M175.6 345.6h6.4M175.6 279.7h6.4" stroke="#ffd850" stroke-width="1.1" fill="none"/>
<circle cx="178.8" cy="311" r="4.0" fill="#ffcc00" stroke="#222" stroke-width="0.9"/>
<circle cx="157.6" cy="317" r="5.15" fill="#dd00dd" stroke="#222" stroke-width="0.9"/>
<text class="ta" transform="translate(59.6 240.2) scale(1.05 1)">τ</text><text class="sb" transform="translate(65.9 242.2) scale(1.12 1)">B</text><text class="sp" transform="translate(72.9 239.8) scale(1.0 1)">+</text><text class="sl" transform="translate(79.9 242.2) scale(1.15 1)">/</text><text class="ta" transform="translate(85.2 240.2) scale(1.05 1)">τ</text><text class="sb" transform="translate(91.2 242.2) scale(1.12 1)">B</text><text class="sz" transform="translate(97.8 240.8) scale(1.0 1)">0</text><text class="tt" transform="translate(107.8 240.2) scale(1.07 1)">B</text><text class="tt" transform="translate(117.2 240.2) scale(1.07 1)">r</text><text class="tt" transform="translate(121.5 240.2) scale(1.07 1)">(</text><text class="pi" transform="translate(125.7 240.2) scale(1.0 1)">π</text><text class="su" transform="translate(134.5 235.9) scale(1.0 1)">−/+</text><text class="tt" transform="translate(151 240.2) scale(1.07 1)">K</text><text class="su" transform="translate(161.4 235.9) scale(1.0 1)">+/−</text><text class="tt" transform="translate(178.5 240.2) scale(1.07 1)">)</text><text class="sl" transform="translate(183.1 242.2) scale(1.15 1)">/</text><text class="tt" transform="translate(187.2 240.2) scale(1.07 1)">B</text><text class="tt" transform="translate(196.6 240.2) scale(1.07 1)">r</text><text class="tt" transform="translate(200.9 240.2) scale(1.07 1)">(</text><text class="pi" transform="translate(205.2 240.2) scale(1.0 1)">π</text><text class="su" transform="translate(213.8 235.9) scale(1.0 1)">+/−</text><text class="tt" transform="translate(230.3 240.2) scale(1.07 1)">K</text><text class="sd" transform="translate(240.8 235.9) scale(1.08 1)">0</text><text class="tt" transform="translate(247.1 240.2) scale(1.07 1)">)</text>
<path d="M377.5 323.10H621.5" stroke="#e64ee6" stroke-width="1.0"/>
<path d="M377.5 350.50H621.5" stroke="#e64ee6" stroke-width="1.0"/>
<path d="M398.8 358.8V333.3M395.6 358.8h6.4M395.6 333.3h6.4" stroke="#ffd850" stroke-width="1.1" fill="none"/>
<circle cx="398.8" cy="346.4" r="4.0" fill="#ffcc00" stroke="#222" stroke-width="0.9"/>
<circle cx="384.4" cy="336.8" r="5.15" fill="#dd00dd" stroke="#222" stroke-width="0.9"/>
<text class="tt" transform="translate(455.8 348.4) scale(1.07 1)">1</text><text class="sl" transform="translate(462.8 350.4) scale(1.15 1)">/</text><text class="tt" transform="translate(467.5 348.4) scale(1.07 1)">2</text><text class="tt" transform="translate(479.1 348.4) scale(1.07 1)">B</text><text class="tt" transform="translate(488.5 348.4) scale(1.07 1)">r</text><text class="tt" transform="translate(492.8 348.4) scale(1.07 1)">(</text><text class="pi" transform="translate(497.2 348.4) scale(1.0 1)">π</text><text class="su" transform="translate(505.7 344.1) scale(1.0 1)">−/+</text><text class="tt" transform="translate(522.5 348.4) scale(1.07 1)">K</text><text class="su" transform="translate(532.7 344.1) scale(1.0 1)">+/−</text><text class="tt" transform="translate(549.3 348.4) scale(1.07 1)">)</text><text class="sl" transform="translate(553.9 350.4) scale(1.15 1)">/</text><text class="tt" transform="translate(558.9 348.4) scale(1.07 1)">B</text><text class="tt" transform="translate(568.3 348.4) scale(1.07 1)">r</text><text class="tt" transform="translate(572.6 348.4) scale(1.07 1)">(</text><text class="pi" transform="translate(577 348.4) scale(1.0 1)">π</text><text class="sd" transform="translate(584.9 344.1) scale(1.08 1)">0</text><text class="tt" transform="translate(590.9 348.4) scale(1.07 1)">K</text><text class="sd" transform="translate(601.1 344.1) scale(1.08 1)">0</text><text class="tt" transform="translate(607.4 348.4) scale(1.07 1)">)</text>
<path d="M53.3 160.5v-1.2M53.3 9.5v1.2M60.1 160.5v-1.2M60.1 9.5v1.2M66.9 160.5v-1.2M66.9 9.5v1.2M73.7 160.5v-1.2M73.7 9.5v1.2M80.5 160.5v-2.3M80.5 9.5v2.3M87.2 160.5v-1.2M87.2 9.5v1.2M94 160.5v-1.2M94 9.5v1.2M100.8 160.5v-1.2M100.8 9.5v1.2M107.6 160.5v-1.2M107.6 9.5v1.2M114.4 160.5v-2.3M114.4 9.5v2.3M121.2 160.5v-1.2M121.2 9.5v1.2M128 160.5v-1.2M128 9.5v1.2M134.8 160.5v-1.2M134.8 9.5v1.2M141.6 160.5v-1.2M141.6 9.5v1.2M148.4 160.5v-2.3M148.4 9.5v2.3M155.2 160.5v-1.2M155.2 9.5v1.2M162 160.5v-1.2M162 9.5v1.2M168.8 160.5v-1.2M168.8 9.5v1.2M175.5 160.5v-1.2M175.5 9.5v1.2M182.3 160.5v-2.3M182.3 9.5v2.3M189.1 160.5v-1.2M189.1 9.5v1.2M195.9 160.5v-1.2M195.9 9.5v1.2M202.7 160.5v-1.2M202.7 9.5v1.2M209.5 160.5v-1.2M209.5 9.5v1.2M216.3 160.5v-2.3M216.3 9.5v2.3M223.1 160.5v-1.2M223.1 9.5v1.2M229.9 160.5v-1.2M229.9 9.5v1.2M236.7 160.5v-1.2M236.7 9.5v1.2M243.5 160.5v-1.2M243.5 9.5v1.2M250.2 160.5v-2.3M250.2 9.5v2.3M257 160.5v-1.2M257 9.5v1.2M263.8 160.5v-1.2M263.8 9.5v1.2M270.6 160.5v-1.2M270.6 9.5v1.2M277.4 160.5v-1.2M277.4 9.5v1.2M284.2 160.5v-2.3M284.2 9.5v2.3M46.5 155.5h1.2M291 155.5h-1.2M46.5 150.4h1.2M291 150.4h-1.2M46.5 145.4h1.2M291 145.4h-1.2M46.5 140.4h1.2M291 140.4h-1.2M46.5 135.3h2.3M291 135.3h-2.3M46.5 130.3h1.2M291 130.3h-1.2M46.5 125.3h1.2M291 125.3h-1.2M46.5 120.2h1.2M291 120.2h-1.2M46.5 115.2h1.2M291 115.2h-1.2M46.5 110.2h2.3M291 110.2h-2.3M46.5 105.1h1.2M291 105.1h-1.2M46.5 100.1h1.2M291 100.1h-1.2M46.5 95.1h1.2M291 95.1h-1.2M46.5 90h1.2M291 90h-1.2M46.5 85h2.3M291 85h-2.3M46.5 80h1.2M291 80h-1.2M46.5 74.9h1.2M291 74.9h-1.2M46.5 69.9h1.2M291 69.9h-1.2M46.5 64.9h1.2M291 64.9h-1.2M46.5 59.8h2.3M291 59.8h-2.3M46.5 54.8h1.2M291 54.8h-1.2M46.5 49.8h1.2M291 49.8h-1.2M46.5 44.7h1.2M291 44.7h-1.2M46.5 39.7h1.2M291 39.7h-1.2M46.5 34.7h2.3M291 34.7h-2.3M46.5 29.6h1.2M291 29.6h-1.2M46.5 24.6h1.2M291 24.6h-1.2M46.5 19.6h1.2M291 19.6h-1.2M46.5 14.5h1.2M291 14.5h-1.2" stroke="#666" stroke-width="0.8" fill="none"/>
<rect x="46.5" y="9.5" width="244.5" height="151" fill="none" stroke="#777" stroke-width="1"/>
<text x="80.6" y="175.7" text-anchor="middle">25</text>
<text x="114.5" y="175.7" text-anchor="middle">50</text>
<text x="148.5" y="175.7" text-anchor="middle">75</text>
<text x="182.4" y="175.7" text-anchor="middle">100</text>
<text x="216.4" y="175.7" text-anchor="middle">125</text>
<text x="250.3" y="175.7" text-anchor="middle">150</text>
<text x="284.3" y="175.7" text-anchor="middle">175</text>
<text x="41.7" y="139.4" text-anchor="end">0.5</text>
<text x="41.7" y="114.3" text-anchor="end">1</text>
<text x="41.7" y="89.1" text-anchor="end">1.5</text>
<text x="41.7" y="63.9" text-anchor="end">2</text>
<text x="41.7" y="38.8" text-anchor="end">2.5</text>
<text x="41.7" y="13.6" text-anchor="end">3</text>
<text x="168.8" y="191.9" text-anchor="middle" class="ax"><tspan class="gi">γ</tspan>/deg</text>
<path d="M384.3 160.5v-1.2M384.3 9.5v1.2M391.1 160.5v-1.2M391.1 9.5v1.2M397.8 160.5v-1.2M397.8 9.5v1.2M404.6 160.5v-1.2M404.6 9.5v1.2M411.4 160.5v-2.3M411.4 9.5v2.3M418.2 160.5v-1.2M418.2 9.5v1.2M424.9 160.5v-1.2M424.9 9.5v1.2M431.7 160.5v-1.2M431.7 9.5v1.2M438.5 160.5v-1.2M438.5 9.5v1.2M445.3 160.5v-2.3M445.3 9.5v2.3M452.1 160.5v-1.2M452.1 9.5v1.2M458.8 160.5v-1.2M458.8 9.5v1.2M465.6 160.5v-1.2M465.6 9.5v1.2M472.4 160.5v-1.2M472.4 9.5v1.2M479.2 160.5v-2.3M479.2 9.5v2.3M485.9 160.5v-1.2M485.9 9.5v1.2M492.7 160.5v-1.2M492.7 9.5v1.2M499.5 160.5v-1.2M499.5 9.5v1.2M506.3 160.5v-1.2M506.3 9.5v1.2M513.1 160.5v-2.3M513.1 9.5v2.3M519.8 160.5v-1.2M519.8 9.5v1.2M526.6 160.5v-1.2M526.6 9.5v1.2M533.4 160.5v-1.2M533.4 9.5v1.2M540.2 160.5v-1.2M540.2 9.5v1.2M546.9 160.5v-2.3M546.9 9.5v2.3M553.7 160.5v-1.2M553.7 9.5v1.2M560.5 160.5v-1.2M560.5 9.5v1.2M567.3 160.5v-1.2M567.3 9.5v1.2M574.1 160.5v-1.2M574.1 9.5v1.2M580.8 160.5v-2.3M580.8 9.5v2.3M587.6 160.5v-1.2M587.6 9.5v1.2M594.4 160.5v-1.2M594.4 9.5v1.2M601.2 160.5v-1.2M601.2 9.5v1.2M607.9 160.5v-1.2M607.9 9.5v1.2M614.7 160.5v-2.3M614.7 9.5v2.3M377.5 155.5h1.2M621.5 155.5h-1.2M377.5 150.4h1.2M621.5 150.4h-1.2M377.5 145.4h1.2M621.5 145.4h-1.2M377.5 140.4h1.2M621.5 140.4h-1.2M377.5 135.3h2.3M621.5 135.3h-2.3M377.5 130.3h1.2M621.5 130.3h-1.2M377.5 125.3h1.2M621.5 125.3h-1.2M377.5 120.2h1.2M621.5 120.2h-1.2M377.5 115.2h1.2M621.5 115.2h-1.2M377.5 110.2h2.3M621.5 110.2h-2.3M377.5 105.1h1.2M621.5 105.1h-1.2M377.5 100.1h1.2M621.5 100.1h-1.2M377.5 95.1h1.2M621.5 95.1h-1.2M377.5 90h1.2M621.5 90h-1.2M377.5 85h2.3M621.5 85h-2.3M377.5 80h1.2M621.5 80h-1.2M377.5 74.9h1.2M621.5 74.9h-1.2M377.5 69.9h1.2M621.5 69.9h-1.2M377.5 64.9h1.2M621.5 64.9h-1.2M377.5 59.8h2.3M621.5 59.8h-2.3M377.5 54.8h1.2M621.5 54.8h-1.2M377.5 49.8h1.2M621.5 49.8h-1.2M377.5 44.7h1.2M621.5 44.7h-1.2M377.5 39.7h1.2M621.5 39.7h-1.2M377.5 34.7h2.3M621.5 34.7h-2.3M377.5 29.6h1.2M621.5 29.6h-1.2M377.5 24.6h1.2M621.5 24.6h-1.2M377.5 19.6h1.2M621.5 19.6h-1.2M377.5 14.5h1.2M621.5 14.5h-1.2" stroke="#666" stroke-width="0.8" fill="none"/>
<rect x="377.5" y="9.5" width="244" height="151" fill="none" stroke="#777" stroke-width="1"/>
<text x="411.5" y="175.7" text-anchor="middle">25</text>
<text x="445.4" y="175.7" text-anchor="middle">50</text>
<text x="479.3" y="175.7" text-anchor="middle">75</text>
<text x="513.2" y="175.7" text-anchor="middle">100</text>
<text x="547" y="175.7" text-anchor="middle">125</text>
<text x="580.9" y="175.7" text-anchor="middle">150</text>
<text x="614.8" y="175.7" text-anchor="middle">175</text>
<text x="372.7" y="139.4" text-anchor="end">0.5</text>
<text x="372.7" y="114.3" text-anchor="end">1</text>
<text x="372.7" y="89.1" text-anchor="end">1.5</text>
<text x="372.7" y="63.9" text-anchor="end">2</text>
<text x="372.7" y="38.8" text-anchor="end">2.5</text>
<text x="372.7" y="13.6" text-anchor="end">3</text>
<text x="499.5" y="191.9" text-anchor="middle" class="ax"><tspan class="gi">γ</tspan>/deg</text>
<path d="M53.3 366.5v-1.2M53.3 215.5v1.2M60.1 366.5v-1.2M60.1 215.5v1.2M66.9 366.5v-1.2M66.9 215.5v1.2M73.7 366.5v-1.2M73.7 215.5v1.2M80.5 366.5v-2.3M80.5 215.5v2.3M87.2 366.5v-1.2M87.2 215.5v1.2M94 366.5v-1.2M94 215.5v1.2M100.8 366.5v-1.2M100.8 215.5v1.2M107.6 366.5v-1.2M107.6 215.5v1.2M114.4 366.5v-2.3M114.4 215.5v2.3M121.2 366.5v-1.2M121.2 215.5v1.2M128 366.5v-1.2M128 215.5v1.2M134.8 366.5v-1.2M134.8 215.5v1.2M141.6 366.5v-1.2M141.6 215.5v1.2M148.4 366.5v-2.3M148.4 215.5v2.3M155.2 366.5v-1.2M155.2 215.5v1.2M162 366.5v-1.2M162 215.5v1.2M168.8 366.5v-1.2M168.8 215.5v1.2M175.5 366.5v-1.2M175.5 215.5v1.2M182.3 366.5v-2.3M182.3 215.5v2.3M189.1 366.5v-1.2M189.1 215.5v1.2M195.9 366.5v-1.2M195.9 215.5v1.2M202.7 366.5v-1.2M202.7 215.5v1.2M209.5 366.5v-1.2M209.5 215.5v1.2M216.3 366.5v-2.3M216.3 215.5v2.3M223.1 366.5v-1.2M223.1 215.5v1.2M229.9 366.5v-1.2M229.9 215.5v1.2M236.7 366.5v-1.2M236.7 215.5v1.2M243.5 366.5v-1.2M243.5 215.5v1.2M250.2 366.5v-2.3M250.2 215.5v2.3M257 366.5v-1.2M257 215.5v1.2M263.8 366.5v-1.2M263.8 215.5v1.2M270.6 366.5v-1.2M270.6 215.5v1.2M277.4 366.5v-1.2M277.4 215.5v1.2M284.2 366.5v-2.3M284.2 215.5v2.3M46.5 361.5h1.2M291 361.5h-1.2M46.5 356.4h1.2M291 356.4h-1.2M46.5 351.4h1.2M291 351.4h-1.2M46.5 346.4h1.2M291 346.4h-1.2M46.5 341.3h2.3M291 341.3h-2.3M46.5 336.3h1.2M291 336.3h-1.2M46.5 331.3h1.2M291 331.3h-1.2M46.5 326.2h1.2M291 326.2h-1.2M46.5 321.2h1.2M291 321.2h-1.2M46.5 316.2h2.3M291 316.2h-2.3M46.5 311.1h1.2M291 311.1h-1.2M46.5 306.1h1.2M291 306.1h-1.2M46.5 301.1h1.2M291 301.1h-1.2M46.5 296h1.2M291 296h-1.2M46.5 291h2.3M291 291h-2.3M46.5 286h1.2M291 286h-1.2M46.5 280.9h1.2M291 280.9h-1.2M46.5 275.9h1.2M291 275.9h-1.2M46.5 270.9h1.2M291 270.9h-1.2M46.5 265.8h2.3M291 265.8h-2.3M46.5 260.8h1.2M291 260.8h-1.2M46.5 255.8h1.2M291 255.8h-1.2M46.5 250.7h1.2M291 250.7h-1.2M46.5 245.7h1.2M291 245.7h-1.2M46.5 240.7h2.3M291 240.7h-2.3M46.5 235.6h1.2M291 235.6h-1.2M46.5 230.6h1.2M291 230.6h-1.2M46.5 225.6h1.2M291 225.6h-1.2M46.5 220.5h1.2M291 220.5h-1.2" stroke="#666" stroke-width="0.8" fill="none"/>
<rect x="46.5" y="215.5" width="244.5" height="151" fill="none" stroke="#777" stroke-width="1"/>
<text x="80.6" y="381.7" text-anchor="middle">25</text>
<text x="114.5" y="381.7" text-anchor="middle">50</text>
<text x="148.5" y="381.7" text-anchor="middle">75</text>
<text x="182.4" y="381.7" text-anchor="middle">100</text>
<text x="216.4" y="381.7" text-anchor="middle">125</text>
<text x="250.3" y="381.7" text-anchor="middle">150</text>
<text x="284.3" y="381.7" text-anchor="middle">175</text>
<text x="41.7" y="345.4" text-anchor="end">0.5</text>
<text x="41.7" y="320.3" text-anchor="end">1</text>
<text x="41.7" y="295.1" text-anchor="end">1.5</text>
<text x="41.7" y="269.9" text-anchor="end">2</text>
<text x="41.7" y="244.8" text-anchor="end">2.5</text>
<text x="41.7" y="219.6" text-anchor="end">3</text>
<text x="168.8" y="397.9" text-anchor="middle" class="ax"><tspan class="gi">γ</tspan>/deg</text>
<path d="M384.3 366.5v-1.2M384.3 215.5v1.2M391.1 366.5v-1.2M391.1 215.5v1.2M397.8 366.5v-1.2M397.8 215.5v1.2M404.6 366.5v-1.2M404.6 215.5v1.2M411.4 366.5v-2.3M411.4 215.5v2.3M418.2 366.5v-1.2M418.2 215.5v1.2M424.9 366.5v-1.2M424.9 215.5v1.2M431.7 366.5v-1.2M431.7 215.5v1.2M438.5 366.5v-1.2M438.5 215.5v1.2M445.3 366.5v-2.3M445.3 215.5v2.3M452.1 366.5v-1.2M452.1 215.5v1.2M458.8 366.5v-1.2M458.8 215.5v1.2M465.6 366.5v-1.2M465.6 215.5v1.2M472.4 366.5v-1.2M472.4 215.5v1.2M479.2 366.5v-2.3M479.2 215.5v2.3M485.9 366.5v-1.2M485.9 215.5v1.2M492.7 366.5v-1.2M492.7 215.5v1.2M499.5 366.5v-1.2M499.5 215.5v1.2M506.3 366.5v-1.2M506.3 215.5v1.2M513.1 366.5v-2.3M513.1 215.5v2.3M519.8 366.5v-1.2M519.8 215.5v1.2M526.6 366.5v-1.2M526.6 215.5v1.2M533.4 366.5v-1.2M533.4 215.5v1.2M540.2 366.5v-1.2M540.2 215.5v1.2M546.9 366.5v-2.3M546.9 215.5v2.3M553.7 366.5v-1.2M553.7 215.5v1.2M560.5 366.5v-1.2M560.5 215.5v1.2M567.3 366.5v-1.2M567.3 215.5v1.2M574.1 366.5v-1.2M574.1 215.5v1.2M580.8 366.5v-2.3M580.8 215.5v2.3M587.6 366.5v-1.2M587.6 215.5v1.2M594.4 366.5v-1.2M594.4 215.5v1.2M601.2 366.5v-1.2M601.2 215.5v1.2M607.9 366.5v-1.2M607.9 215.5v1.2M614.7 366.5v-2.3M614.7 215.5v2.3M377.5 361.5h1.2M621.5 361.5h-1.2M377.5 356.4h1.2M621.5 356.4h-1.2M377.5 351.4h1.2M621.5 351.4h-1.2M377.5 346.4h1.2M621.5 346.4h-1.2M377.5 341.3h2.3M621.5 341.3h-2.3M377.5 336.3h1.2M621.5 336.3h-1.2M377.5 331.3h1.2M621.5 331.3h-1.2M377.5 326.2h1.2M621.5 326.2h-1.2M377.5 321.2h1.2M621.5 321.2h-1.2M377.5 316.2h2.3M621.5 316.2h-2.3M377.5 311.1h1.2M621.5 311.1h-1.2M377.5 306.1h1.2M621.5 306.1h-1.2M377.5 301.1h1.2M621.5 301.1h-1.2M377.5 296h1.2M621.5 296h-1.2M377.5 291h2.3M621.5 291h-2.3M377.5 286h1.2M621.5 286h-1.2M377.5 280.9h1.2M621.5 280.9h-1.2M377.5 275.9h1.2M621.5 275.9h-1.2M377.5 270.9h1.2M621.5 270.9h-1.2M377.5 265.8h2.3M621.5 265.8h-2.3M377.5 260.8h1.2M621.5 260.8h-1.2M377.5 255.8h1.2M621.5 255.8h-1.2M377.5 250.7h1.2M621.5 250.7h-1.2M377.5 245.7h1.2M621.5 245.7h-1.2M377.5 240.7h2.3M621.5 240.7h-2.3M377.5 235.6h1.2M621.5 235.6h-1.2M377.5 230.6h1.2M621.5 230.6h-1.2M377.5 225.6h1.2M621.5 225.6h-1.2M377.5 220.5h1.2M621.5 220.5h-1.2" stroke="#666" stroke-width="0.8" fill="none"/>
<rect x="377.5" y="215.5" width="244" height="151" fill="none" stroke="#777" stroke-width="1"/>
<text x="411.5" y="381.7" text-anchor="middle">25</text>
<text x="445.4" y="381.7" text-anchor="middle">50</text>
<text x="479.3" y="381.7" text-anchor="middle">75</text>
<text x="513.2" y="381.7" text-anchor="middle">100</text>
<text x="547" y="381.7" text-anchor="middle">125</text>
<text x="580.9" y="381.7" text-anchor="middle">150</text>
<text x="614.8" y="381.7" text-anchor="middle">175</text>
<text x="372.7" y="345.4" text-anchor="end">0.5</text>
<text x="372.7" y="320.3" text-anchor="end">1</text>
<text x="372.7" y="295.1" text-anchor="end">1.5</text>
<text x="372.7" y="269.9" text-anchor="end">2</text>
<text x="372.7" y="244.8" text-anchor="end">2.5</text>
<text x="372.7" y="219.6" text-anchor="end">3</text>
<text x="499.5" y="397.9" text-anchor="middle" class="ax"><tspan class="gi">γ</tspan>/deg</text>
</svg>
</body></html>
